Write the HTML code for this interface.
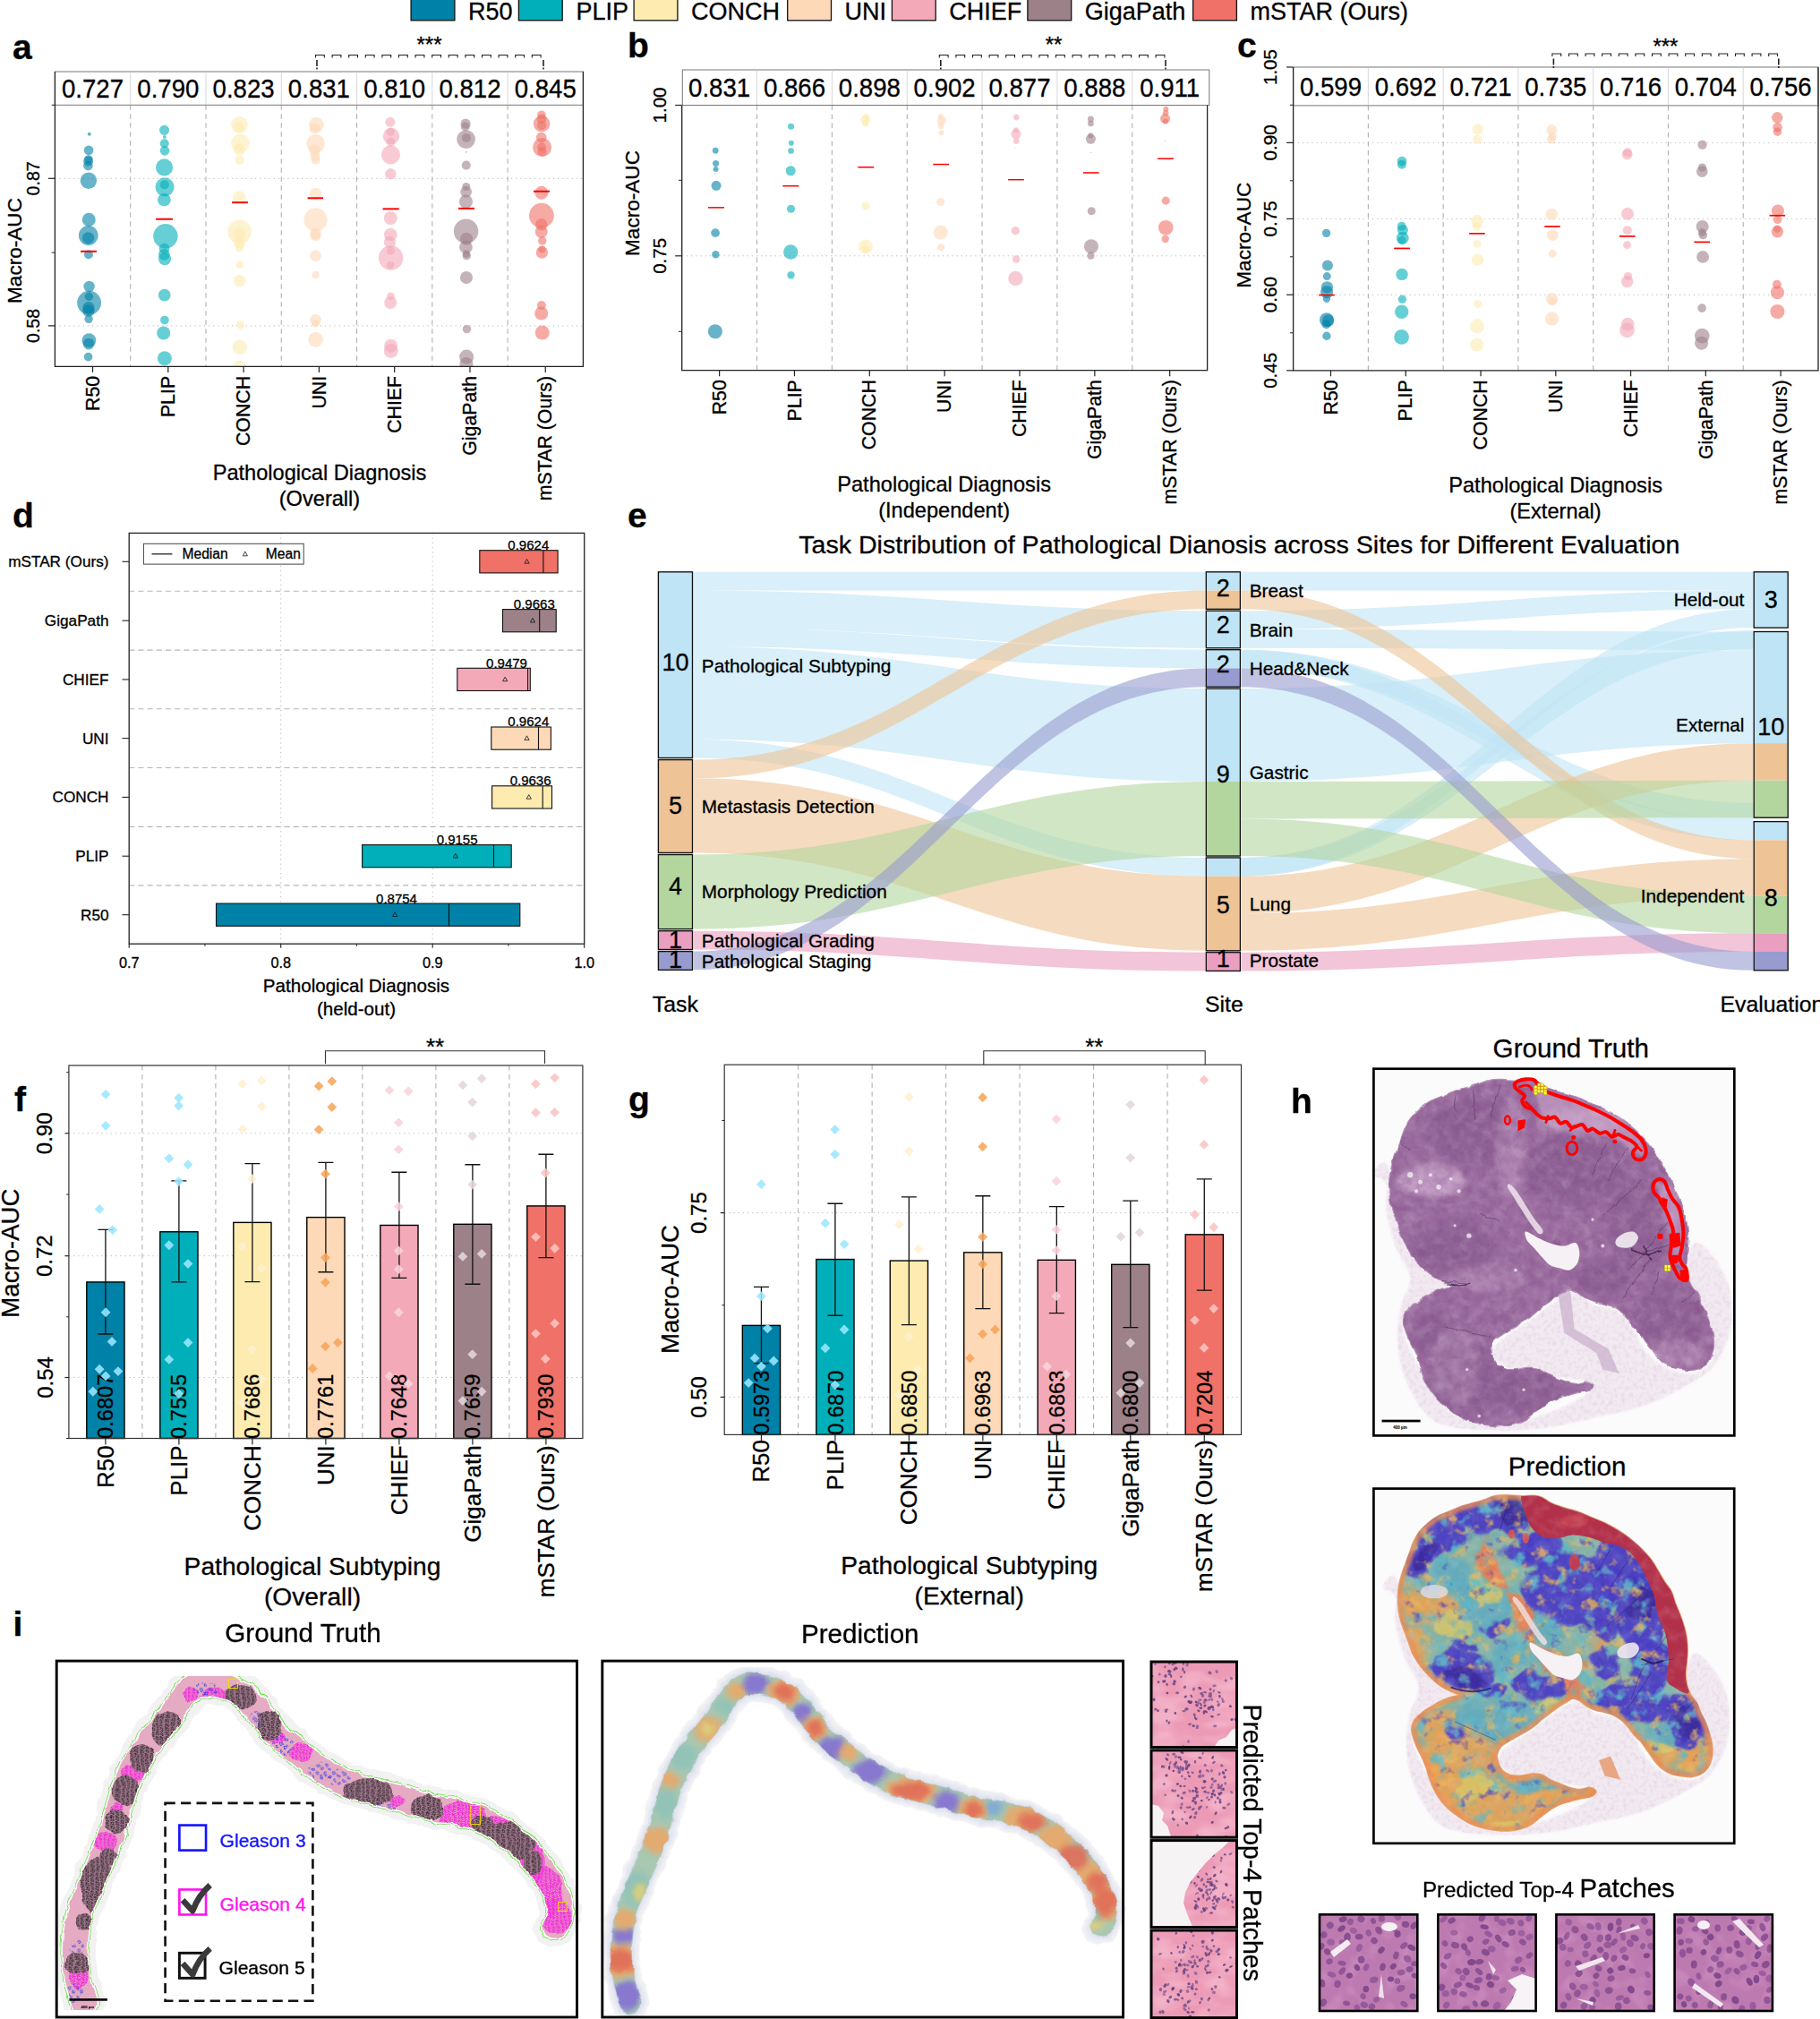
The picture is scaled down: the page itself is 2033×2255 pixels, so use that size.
<!DOCTYPE html>
<html><head><meta charset="utf-8"><title>Figure</title>
<style>html,body{margin:0;padding:0;background:#fff;}svg{display:block;font-family:"Liberation Sans",sans-serif;}text{stroke:#000;stroke-width:.3px;}</style>
</head><body>
<svg width="2033" height="2255" viewBox="0 0 2033 2255">
<defs>
<clipPath id="tis"><path d="M250 210C265.83 196.67 281.67 185 300 175C318.33 165 340 158.33 360 150C380 141.67 400 132 420 125C440 118 460 113.83 480 108C500 102.17 521.67 96 540 90C558.33 84 571.67 75.67 590 72C608.33 68.33 628.33 68 650 68C671.67 68 696.67 71.67 720 72C743.33 72.33 771.67 68.67 790 70C808.33 71.33 815 73.33 830 80C845 86.67 860 100.83 880 110C900 119.17 926.67 127.5 950 135C973.33 142.5 996.67 146.67 1020 155C1043.33 163.33 1066.67 175 1090 185C1113.33 195 1136.67 203.33 1160 215C1183.33 226.67 1208.33 240.83 1230 255C1251.67 269.17 1271.67 285 1290 300C1308.33 315 1324.17 329.17 1340 345C1355.83 360.83 1371.67 377.5 1385 395C1398.33 412.5 1408.33 430.83 1420 450C1431.67 469.17 1443.33 491.67 1455 510C1466.67 528.33 1480.83 541.67 1490 560C1499.17 578.33 1502.5 600 1510 620C1517.5 640 1527.5 660 1535 680C1542.5 700 1549.5 720 1555 740C1560.5 760 1565.17 780 1568 800C1570.83 820 1572 840 1572 860C1572 880 1569.67 900 1568 920C1566.33 940 1561.67 960 1562 980C1562.33 1000 1565.33 1021.67 1570 1040C1574.67 1058.33 1581.67 1075 1590 1090C1598.33 1105 1611.67 1115 1620 1130C1628.33 1145 1632.5 1163.33 1640 1180C1647.5 1196.67 1657.5 1211.67 1665 1230C1672.5 1248.33 1679.5 1270 1685 1290C1690.5 1310 1696.33 1330 1698 1350C1699.67 1370 1698.83 1391.67 1695 1410C1691.17 1428.33 1684.17 1446.67 1675 1460C1665.83 1473.33 1654.17 1482.5 1640 1490C1625.83 1497.5 1606.67 1503.33 1590 1505C1573.33 1506.67 1556.67 1502.5 1540 1500C1523.33 1497.5 1505.83 1495.83 1490 1490C1474.17 1484.17 1458.33 1475 1445 1465C1431.67 1455 1420 1441.67 1410 1430C1400 1418.33 1393.33 1406.67 1385 1395C1376.67 1383.33 1368.33 1371.67 1360 1360C1351.67 1348.33 1345 1336.67 1335 1325C1325 1313.33 1310.83 1302.5 1300 1290C1289.17 1277.5 1280.83 1262.5 1270 1250C1259.17 1237.5 1247.5 1225 1235 1215C1222.5 1205 1209.17 1196.67 1195 1190C1180.83 1183.33 1165 1179.17 1150 1175C1135 1170.83 1120 1170 1105 1165C1090 1160 1074.17 1153.33 1060 1145C1045.83 1136.67 1032.5 1121.67 1020 1115C1007.5 1108.33 996.67 1103.33 985 1105C973.33 1106.67 962.5 1117.5 950 1125C937.5 1132.5 923.33 1140.83 910 1150C896.67 1159.17 883.33 1170 870 1180C856.67 1190 843.33 1199.17 830 1210C816.67 1220.83 804.17 1234.17 790 1245C775.83 1255.83 760 1265.83 745 1275C730 1284.17 715 1291.67 700 1300C685 1308.33 668.33 1316.67 655 1325C641.67 1333.33 629.17 1339.17 620 1350C610.83 1360.83 602.5 1376.67 600 1390C597.5 1403.33 600.83 1416.67 605 1430C609.17 1443.33 615 1459.17 625 1470C635 1480.83 649.17 1490 665 1495C680.83 1500 700.83 1500.83 720 1500C739.17 1499.17 761.67 1490.83 780 1490C798.33 1489.17 815 1490 830 1495C845 1500 855 1512.5 870 1520C885 1527.5 903.33 1533.33 920 1540C936.67 1546.67 953.33 1555 970 1560C986.67 1565 1002.5 1570 1020 1570C1037.5 1570 1060.83 1558.33 1075 1560C1089.17 1561.67 1104.17 1572.5 1105 1580C1105.83 1587.5 1092.5 1599.17 1080 1605C1067.5 1610.83 1048.33 1610.83 1030 1615C1011.67 1619.17 990 1624.17 970 1630C950 1635.83 928.33 1641.67 910 1650C891.67 1658.33 875.83 1669.17 860 1680C844.17 1690.83 830 1703.33 815 1715C800 1726.67 785.83 1740.83 770 1750C754.17 1759.17 738.33 1765 720 1770C701.67 1775 680 1778.67 660 1780C640 1781.33 620 1780 600 1778C580 1776 560 1772.67 540 1768C520 1763.33 498.33 1757.17 480 1750C461.67 1742.83 446.67 1735 430 1725C413.33 1715 395.83 1702.5 380 1690C364.17 1677.5 348.33 1664.17 335 1650C321.67 1635.83 310 1620 300 1605C290 1590 282.5 1575.83 275 1560C267.5 1544.17 260.83 1526.67 255 1510C249.17 1493.33 245.83 1476.67 240 1460C234.17 1443.33 227.5 1426.67 220 1410C212.5 1393.33 202.5 1376.67 195 1360C187.5 1343.33 180 1326.67 175 1310C170 1293.33 164.17 1275.83 165 1260C165.83 1244.17 171.67 1228.33 180 1215C188.33 1201.67 201.67 1190.83 215 1180C228.33 1169.17 244.17 1160 260 1150C275.83 1140 293.33 1128.33 310 1120C326.67 1111.67 344.17 1105.33 360 1100C375.83 1094.67 403.33 1093 405 1088C406.67 1083 384.17 1077.17 370 1070C355.83 1062.83 335.83 1055 320 1045C304.17 1035 289.17 1022.5 275 1010C260.83 997.5 247.5 984.17 235 970C222.5 955.83 210.83 940.83 200 925C189.17 909.17 178.33 892.5 170 875C161.67 857.5 156.67 838.33 150 820C143.33 801.67 136.67 783.33 130 765C123.33 746.67 115.33 729.17 110 710C104.67 690.83 100.5 670 98 650C95.5 630 94.67 610 95 590C95.33 570 96.67 550 100 530C103.33 510 109.17 489.17 115 470C120.83 450.83 128.33 433.33 135 415C141.67 396.67 148.33 378.33 155 360C161.67 341.67 166.67 322.5 175 305C183.33 287.5 192.5 270.83 205 255C217.5 239.17 234.17 223.33 250 210Z"/></clipPath><filter color-interpolation-filters="sRGB" id="b3" x="-30%" y="-30%" width="160%" height="160%"><feGaussianBlur stdDeviation="14"/></filter><filter color-interpolation-filters="sRGB" id="b2" x="-30%" y="-30%" width="160%" height="160%"><feGaussianBlur stdDeviation="8"/></filter><filter color-interpolation-filters="sRGB" id="b1" x="-30%" y="-30%" width="160%" height="160%"><feGaussianBlur stdDeviation="3"/></filter><filter color-interpolation-filters="sRGB" id="mot" x="0" y="0" width="100%" height="100%"><feTurbulence type="fractalNoise" baseFrequency="0.018" numOctaves="3" seed="7"/><feColorMatrix values="0 0 0 0 1  0 0 0 0 1  0 0 0 0 1  1.6 0 0 0 -0.62"/><feComposite in2="SourceGraphic" operator="in"/></filter><filter color-interpolation-filters="sRGB" id="motd" x="0" y="0" width="100%" height="100%"><feTurbulence type="fractalNoise" baseFrequency="0.022" numOctaves="3" seed="21"/><feColorMatrix values="0 0 0 0 0.42  0 0 0 0 0.2  0 0 0 0 0.45  0 1.8 0 0 -0.72"/><feComposite in2="SourceGraphic" operator="in"/></filter><filter color-interpolation-filters="sRGB" id="wob" x="-5%" y="-5%" width="110%" height="110%"><feTurbulence type="fractalNoise" baseFrequency="0.006" numOctaves="3" seed="5" result="n"/><feDisplacementMap in="SourceGraphic" in2="n" scale="150" xChannelSelector="R" yChannelSelector="G"/></filter><filter color-interpolation-filters="sRGB" id="wob2" x="-5%" y="-5%" width="110%" height="110%"><feTurbulence type="fractalNoise" baseFrequency="0.02" numOctaves="2" seed="9" result="n"/><feDisplacementMap in="SourceGraphic" in2="n" scale="22" xChannelSelector="R" yChannelSelector="G"/></filter><filter color-interpolation-filters="sRGB" id="spk1" x="0" y="0" width="100%" height="100%"><feTurbulence type="fractalNoise" baseFrequency="0.013" numOctaves="3" seed="2"/><feColorMatrix values="0 0 0 0 0.36  0 0 0 0 0.72  0 0 0 0 0.78  4.5 0 0 0 -2.45"/><feComposite in2="SourceGraphic" operator="in"/></filter><filter color-interpolation-filters="sRGB" id="spk2" x="0" y="0" width="100%" height="100%"><feTurbulence type="fractalNoise" baseFrequency="0.016" numOctaves="3" seed="14"/><feColorMatrix values="0 0 0 0 0.90  0 0 0 0 0.70  0 0 0 0 0.35  0 4.5 0 0 -2.55"/><feComposite in2="SourceGraphic" operator="in"/></filter><filter color-interpolation-filters="sRGB" id="spk3" x="0" y="0" width="100%" height="100%"><feTurbulence type="fractalNoise" baseFrequency="0.016" numOctaves="3" seed="33"/><feColorMatrix values="0 0 0 0 0.30  0 0 0 0 0.24  0 0 0 0 0.76  0 0 4.5 0 -2.85"/><feComposite in2="SourceGraphic" operator="in"/></filter><filter color-interpolation-filters="sRGB" id="adi" x="0" y="0" width="100%" height="100%"><feTurbulence type="fractalNoise" baseFrequency="0.05" numOctaves="2" seed="3"/><feColorMatrix values="0 0 0 0 0.80  0 0 0 0 0.66  0 0 0 0 0.80  0 0 2.2 0 -0.95"/><feComposite in2="SourceGraphic" operator="in"/></filter><filter color-interpolation-filters="sRGB" id="pt0" x="0" y="0" width="100%" height="100%"><feTurbulence type="fractalNoise" baseFrequency="0.05" numOctaves="2" seed="11"/><feColorMatrix values="0 0 0 0 0.85  0 0 0 0 0.62  0 0 0 0 0.80  4.0 0 0 0 -1.9"/><feComposite in2="SourceGraphic" operator="in"/></filter><filter color-interpolation-filters="sRGB" id="pt1" x="0" y="0" width="100%" height="100%"><feTurbulence type="fractalNoise" baseFrequency="0.05" numOctaves="2" seed="16"/><feColorMatrix values="0 0 0 0 0.85  0 0 0 0 0.62  0 0 0 0 0.80  4.0 0 0 0 -1.9"/><feComposite in2="SourceGraphic" operator="in"/></filter><filter color-interpolation-filters="sRGB" id="pt2" x="0" y="0" width="100%" height="100%"><feTurbulence type="fractalNoise" baseFrequency="0.05" numOctaves="2" seed="21"/><feColorMatrix values="0 0 0 0 0.85  0 0 0 0 0.62  0 0 0 0 0.80  4.0 0 0 0 -1.9"/><feComposite in2="SourceGraphic" operator="in"/></filter><filter color-interpolation-filters="sRGB" id="pt3" x="0" y="0" width="100%" height="100%"><feTurbulence type="fractalNoise" baseFrequency="0.05" numOctaves="2" seed="26"/><feColorMatrix values="0 0 0 0 0.85  0 0 0 0 0.62  0 0 0 0 0.80  4.0 0 0 0 -1.9"/><feComposite in2="SourceGraphic" operator="in"/></filter><filter color-interpolation-filters="sRGB" id="pt4" x="0" y="0" width="100%" height="100%"><feTurbulence type="fractalNoise" baseFrequency="0.11" numOctaves="2" seed="31"/><feColorMatrix values="0 0 0 0 0.45  0 0 0 0 0.25  0 0 0 0 0.55  6.0 0 0 0 -3.1"/><feComposite in2="SourceGraphic" operator="in"/></filter><filter color-interpolation-filters="sRGB" id="pt5" x="0" y="0" width="100%" height="100%"><feTurbulence type="fractalNoise" baseFrequency="0.11" numOctaves="2" seed="36"/><feColorMatrix values="0 0 0 0 0.45  0 0 0 0 0.25  0 0 0 0 0.55  6.0 0 0 0 -3.1"/><feComposite in2="SourceGraphic" operator="in"/></filter><filter color-interpolation-filters="sRGB" id="pt6" x="0" y="0" width="100%" height="100%"><feTurbulence type="fractalNoise" baseFrequency="0.11" numOctaves="2" seed="41"/><feColorMatrix values="0 0 0 0 0.45  0 0 0 0 0.25  0 0 0 0 0.55  6.0 0 0 0 -3.1"/><feComposite in2="SourceGraphic" operator="in"/></filter><filter color-interpolation-filters="sRGB" id="pt7" x="0" y="0" width="100%" height="100%"><feTurbulence type="fractalNoise" baseFrequency="0.11" numOctaves="2" seed="46"/><feColorMatrix values="0 0 0 0 0.45  0 0 0 0 0.25  0 0 0 0 0.55  6.0 0 0 0 -3.1"/><feComposite in2="SourceGraphic" operator="in"/></filter>
<path id="icl" d="M120 1175C116.67 1164.17 105.33 1134.17 100 1110C94.67 1085.83 89.67 1056.67 88 1030C86.33 1003.33 87.17 976.67 90 950C92.83 923.33 98.33 895 105 870C111.67 845 120.83 823.33 130 800C139.17 776.67 150 753.33 160 730C170 706.67 180.83 683.33 190 660C199.17 636.67 207.5 613.33 215 590C222.5 566.67 228.33 543.33 235 520C241.67 496.67 246.67 473.33 255 450C263.33 426.67 274.17 401.67 285 380C295.83 358.33 307.5 339.17 320 320C332.5 300.83 346.67 282.5 360 265C373.33 247.5 387.5 231.67 400 215C412.5 198.33 423.67 180.5 435 165C446.33 149.5 455.5 134 468 122C480.5 110 493 97.5 510 93C527 88.5 550 91.33 570 95C590 98.67 611.67 105.83 630 115C648.33 124.17 665 135.83 680 150C695 164.17 707.5 183.33 720 200C732.5 216.67 741.67 235 755 250C768.33 265 784.17 276.67 800 290C815.83 303.33 833.33 316.67 850 330C866.67 343.33 883.33 358.33 900 370C916.67 381.67 931.67 390 950 400C968.33 410 990 421.67 1010 430C1030 438.33 1050 444.17 1070 450C1090 455.83 1110 460 1130 465C1150 470 1170 474.17 1190 480C1210 485.83 1230 494.17 1250 500C1270 505.83 1290 510.83 1310 515C1330 519.17 1350 520.83 1370 525C1390 529.17 1410 533.33 1430 540C1450 546.67 1470.83 555 1490 565C1509.17 575 1527.5 587.5 1545 600C1562.5 612.5 1579.17 625.83 1595 640C1610.83 654.17 1625.83 669.17 1640 685C1654.17 700.83 1668 717.5 1680 735C1692 752.5 1703.67 772.5 1712 790C1720.33 807.5 1727.33 824.17 1730 840C1732.67 855.83 1731 872.5 1728 885C1725 897.5 1714.67 910 1712 915" fill="none"/><mask id="istrip" maskUnits="userSpaceOnUse" x="0" y="0" width="1820" height="1230"><use href="#icl" stroke="#fff" stroke-width="72" stroke-linecap="round" stroke-linejoin="round"/></mask><mask id="istripg" maskUnits="userSpaceOnUse" x="0" y="0" width="1820" height="1230"><use href="#icl" stroke="#fff" stroke-width="84" stroke-linecap="round" stroke-linejoin="round"/></mask><pattern id="scrK" width="17" height="15" patternUnits="userSpaceOnUse"><rect width="17" height="15" fill="#a07a8e"/><path d="M2 4Q5 0 9 3T15 5M3 11Q7 7 10 11T16 12M8 1L6 8M13 7Q15 10 12 14" fill="none" stroke="#1a1014" stroke-width="2.2"/></pattern><pattern id="scrM" width="13" height="12" patternUnits="userSpaceOnUse"><rect width="13" height="12" fill="#ec7fd6" fill-opacity="0.45"/><path d="M1 4Q4 0 7 3T12 4M2 10Q5 6 8 9T12 10M6 1L5 7" fill="none" stroke="#f21ed8" stroke-width="3"/></pattern><pattern id="scrB" width="30" height="26" patternUnits="userSpaceOnUse"><path d="M3 6Q8 1 12 6T8 14Z M18 16Q24 12 26 18T20 23Z" fill="none" stroke="#2030e8" stroke-width="2.4"/></pattern><filter color-interpolation-filters="sRGB" id="iwob" x="-2%" y="-2%" width="104%" height="104%"><feTurbulence type="fractalNoise" baseFrequency="0.022" numOctaves="2" seed="4" result="n"/><feDisplacementMap in="SourceGraphic" in2="n" scale="22" xChannelSelector="R" yChannelSelector="G"/></filter><filter color-interpolation-filters="sRGB" id="ib" x="-30%" y="-30%" width="160%" height="160%"><feGaussianBlur stdDeviation="9"/></filter><filter color-interpolation-filters="sRGB" id="ib2" x="-10%" y="-10%" width="120%" height="120%"><feGaussianBlur stdDeviation="5"/></filter><filter color-interpolation-filters="sRGB" id="ihalo" x="-10%" y="-10%" width="120%" height="120%"><feGaussianBlur stdDeviation="10"/></filter><filter color-interpolation-filters="sRGB" id="ip0" x="0" y="0" width="100%" height="100%"><feTurbulence type="fractalNoise" baseFrequency="0.16" numOctaves="2" seed="31"/><feColorMatrix values="0 0 0 0 0.42  0 0 0 0 0.24  0 0 0 0 0.52  9 0 0 0 -5.0"/><feComposite in2="SourceGraphic" operator="in"/></filter><filter color-interpolation-filters="sRGB" id="iq0" x="0" y="0" width="100%" height="100%"><feTurbulence type="fractalNoise" baseFrequency="0.03 0.06" numOctaves="2" seed="3"/><feColorMatrix values="0 0 0 0 0.98  0 0 0 0 0.78  0 0 0 0 0.85  0 3 0 0 -1.2"/><feComposite in2="SourceGraphic" operator="in"/></filter><filter color-interpolation-filters="sRGB" id="ip1" x="0" y="0" width="100%" height="100%"><feTurbulence type="fractalNoise" baseFrequency="0.16" numOctaves="2" seed="38"/><feColorMatrix values="0 0 0 0 0.42  0 0 0 0 0.24  0 0 0 0 0.52  9 0 0 0 -5.0"/><feComposite in2="SourceGraphic" operator="in"/></filter><filter color-interpolation-filters="sRGB" id="iq1" x="0" y="0" width="100%" height="100%"><feTurbulence type="fractalNoise" baseFrequency="0.03 0.06" numOctaves="2" seed="4"/><feColorMatrix values="0 0 0 0 0.98  0 0 0 0 0.78  0 0 0 0 0.85  0 3 0 0 -1.2"/><feComposite in2="SourceGraphic" operator="in"/></filter><filter color-interpolation-filters="sRGB" id="ip2" x="0" y="0" width="100%" height="100%"><feTurbulence type="fractalNoise" baseFrequency="0.16" numOctaves="2" seed="45"/><feColorMatrix values="0 0 0 0 0.42  0 0 0 0 0.24  0 0 0 0 0.52  9 0 0 0 -5.0"/><feComposite in2="SourceGraphic" operator="in"/></filter><filter color-interpolation-filters="sRGB" id="iq2" x="0" y="0" width="100%" height="100%"><feTurbulence type="fractalNoise" baseFrequency="0.03 0.06" numOctaves="2" seed="5"/><feColorMatrix values="0 0 0 0 0.98  0 0 0 0 0.78  0 0 0 0 0.85  0 3 0 0 -1.2"/><feComposite in2="SourceGraphic" operator="in"/></filter><filter color-interpolation-filters="sRGB" id="ip3" x="0" y="0" width="100%" height="100%"><feTurbulence type="fractalNoise" baseFrequency="0.16" numOctaves="2" seed="52"/><feColorMatrix values="0 0 0 0 0.42  0 0 0 0 0.24  0 0 0 0 0.52  9 0 0 0 -5.0"/><feComposite in2="SourceGraphic" operator="in"/></filter><filter color-interpolation-filters="sRGB" id="iq3" x="0" y="0" width="100%" height="100%"><feTurbulence type="fractalNoise" baseFrequency="0.03 0.06" numOctaves="2" seed="6"/><feColorMatrix values="0 0 0 0 0.98  0 0 0 0 0.78  0 0 0 0 0.85  0 3 0 0 -1.2"/><feComposite in2="SourceGraphic" operator="in"/></filter>
</defs>
<rect width="2033" height="2255" fill="#fff"/>
<g id="p_abc">
<rect x="459.1" y="-2" width="48.8" height="24.8" fill="#0081a7" stroke="#111" stroke-width="1.3"/>
<text x="523" y="21.8" font-size="27">R50</text>
<rect x="579.4" y="-2" width="48.8" height="24.8" fill="#00afb9" stroke="#111" stroke-width="1.3"/>
<text x="643.6" y="21.8" font-size="27">PLIP</text>
<rect x="708.1" y="-2" width="48.8" height="24.8" fill="#fdebb0" stroke="#111" stroke-width="1.3"/>
<text x="772" y="21.8" font-size="27">CONCH</text>
<rect x="879.7" y="-2" width="48.8" height="24.8" fill="#fed9b7" stroke="#111" stroke-width="1.3"/>
<text x="943.6" y="21.8" font-size="27">UNI</text>
<rect x="996.4" y="-2" width="48.8" height="24.8" fill="#f4a9b8" stroke="#111" stroke-width="1.3"/>
<text x="1060.3" y="21.8" font-size="27">CHIEF</text>
<rect x="1147.9" y="-2" width="48.8" height="24.8" fill="#9d8189" stroke="#111" stroke-width="1.3"/>
<text x="1211.8" y="21.8" font-size="27">GigaPath</text>
<rect x="1332.6" y="-2" width="48.8" height="24.8" fill="#f07167" stroke="#111" stroke-width="1.3"/>
<text x="1396.5" y="21.8" font-size="27">mSTAR (Ours)</text>
<line x1="145.69" y1="117.3" x2="145.69" y2="409.4" stroke="#b0b0b0" stroke-width="1.1" stroke-dasharray="5.5 4.5"/>
<line x1="229.97" y1="117.3" x2="229.97" y2="409.4" stroke="#b0b0b0" stroke-width="1.1" stroke-dasharray="5.5 4.5"/>
<line x1="314.26" y1="117.3" x2="314.26" y2="409.4" stroke="#b0b0b0" stroke-width="1.1" stroke-dasharray="5.5 4.5"/>
<line x1="398.54" y1="117.3" x2="398.54" y2="409.4" stroke="#b0b0b0" stroke-width="1.1" stroke-dasharray="5.5 4.5"/>
<line x1="482.83" y1="117.3" x2="482.83" y2="409.4" stroke="#b0b0b0" stroke-width="1.1" stroke-dasharray="5.5 4.5"/>
<line x1="567.11" y1="117.3" x2="567.11" y2="409.4" stroke="#b0b0b0" stroke-width="1.1" stroke-dasharray="5.5 4.5"/>
<line x1="61.4" y1="199.3" x2="651.4" y2="199.3" stroke="#b8b8b8" stroke-width="1" stroke-dasharray="1.2 4"/>
<line x1="61.4" y1="363.9" x2="651.4" y2="363.9" stroke="#b8b8b8" stroke-width="1" stroke-dasharray="1.2 4"/>
<clipPath id="cpa"><rect x="61.4" y="117.3" width="590" height="292.1"/></clipPath><g clip-path="url(#cpa)">
<circle cx="99.75" cy="149.72" r="2.01" fill="#0081a7" fill-opacity="0.6"/>
<circle cx="99.08" cy="167.82" r="5.36" fill="#0081a7" fill-opacity="0.6"/>
<circle cx="98.91" cy="177.87" r="4.69" fill="#0081a7" fill-opacity="0.6"/>
<circle cx="98.57" cy="180.05" r="5.53" fill="#0081a7" fill-opacity="0.6"/>
<circle cx="98.41" cy="185.08" r="5.36" fill="#0081a7" fill-opacity="0.6"/>
<circle cx="98.91" cy="201.67" r="9.22" fill="#0081a7" fill-opacity="0.6"/>
<circle cx="99.24" cy="245.41" r="7.54" fill="#0081a7" fill-opacity="0.6"/>
<circle cx="98.74" cy="263.01" r="10.89" fill="#0081a7" fill-opacity="0.6"/>
<circle cx="98.57" cy="265.86" r="6.7" fill="#0081a7" fill-opacity="0.6"/>
<circle cx="98.91" cy="284.29" r="5.03" fill="#0081a7" fill-opacity="0.6"/>
<circle cx="99.58" cy="319.99" r="6.2" fill="#0081a7" fill-opacity="0.6"/>
<circle cx="99.58" cy="338.26" r="13.41" fill="#0081a7" fill-opacity="0.6"/>
<circle cx="99.41" cy="331.22" r="4.69" fill="#0081a7" fill-opacity="0.6"/>
<circle cx="98.91" cy="343.79" r="6.7" fill="#0081a7" fill-opacity="0.6"/>
<circle cx="98.91" cy="347.14" r="6.7" fill="#0081a7" fill-opacity="0.6"/>
<circle cx="99.08" cy="356.35" r="4.69" fill="#0081a7" fill-opacity="0.6"/>
<circle cx="99.41" cy="380.15" r="7.88" fill="#0081a7" fill-opacity="0.6"/>
<circle cx="99.08" cy="384.01" r="6.37" fill="#0081a7" fill-opacity="0.6"/>
<circle cx="98.57" cy="398.59" r="4.86" fill="#0081a7" fill-opacity="0.6"/>
<circle cx="183.54" cy="145.36" r="5.53" fill="#00afb9" fill-opacity="0.6"/>
<circle cx="183.88" cy="153.07" r="2.01" fill="#00afb9" fill-opacity="0.6"/>
<circle cx="183.71" cy="160.28" r="5.03" fill="#00afb9" fill-opacity="0.6"/>
<circle cx="184.04" cy="168.32" r="5.36" fill="#00afb9" fill-opacity="0.6"/>
<circle cx="183.54" cy="186.92" r="9.55" fill="#00afb9" fill-opacity="0.6"/>
<circle cx="184.04" cy="208.88" r="10.56" fill="#00afb9" fill-opacity="0.6"/>
<circle cx="183.71" cy="206.36" r="5.03" fill="#00afb9" fill-opacity="0.6"/>
<circle cx="183.37" cy="223.12" r="7.37" fill="#00afb9" fill-opacity="0.6"/>
<circle cx="184.88" cy="263.85" r="13.74" fill="#00afb9" fill-opacity="0.6"/>
<circle cx="183.54" cy="277.59" r="5.87" fill="#00afb9" fill-opacity="0.6"/>
<circle cx="183.37" cy="284.29" r="6.37" fill="#00afb9" fill-opacity="0.6"/>
<circle cx="184.04" cy="289.32" r="7.04" fill="#00afb9" fill-opacity="0.6"/>
<circle cx="183.71" cy="329.71" r="6.87" fill="#00afb9" fill-opacity="0.6"/>
<circle cx="183.88" cy="357.53" r="4.86" fill="#00afb9" fill-opacity="0.6"/>
<circle cx="182.7" cy="371.94" r="7.54" fill="#00afb9" fill-opacity="0.6"/>
<circle cx="183.88" cy="400.26" r="8.04" fill="#00afb9" fill-opacity="0.6"/>
<circle cx="267.5" cy="139.33" r="9.38" fill="#fdebb0" fill-opacity="0.6"/>
<circle cx="267.17" cy="141.84" r="5.87" fill="#fdebb0" fill-opacity="0.6"/>
<circle cx="268.51" cy="159.94" r="10.39" fill="#fdebb0" fill-opacity="0.6"/>
<circle cx="267.17" cy="166.98" r="6.37" fill="#fdebb0" fill-opacity="0.6"/>
<circle cx="267.67" cy="178.71" r="5.2" fill="#fdebb0" fill-opacity="0.6"/>
<circle cx="267.33" cy="220.61" r="7.37" fill="#fdebb0" fill-opacity="0.6"/>
<circle cx="267.5" cy="258.82" r="13.41" fill="#fdebb0" fill-opacity="0.6"/>
<circle cx="267.5" cy="260.83" r="6.7" fill="#fdebb0" fill-opacity="0.6"/>
<circle cx="267.5" cy="270.88" r="6.7" fill="#fdebb0" fill-opacity="0.6"/>
<circle cx="267.5" cy="276.75" r="4.69" fill="#fdebb0" fill-opacity="0.6"/>
<circle cx="267.84" cy="295.69" r="4.36" fill="#fdebb0" fill-opacity="0.6"/>
<circle cx="267.67" cy="313.45" r="6.7" fill="#fdebb0" fill-opacity="0.6"/>
<circle cx="268.51" cy="363.06" r="4.86" fill="#fdebb0" fill-opacity="0.6"/>
<circle cx="267.84" cy="387.86" r="8.21" fill="#fdebb0" fill-opacity="0.6"/>
<circle cx="267.5" cy="409.98" r="7.54" fill="#fdebb0" fill-opacity="0.6"/>
<circle cx="353.35" cy="139.33" r="8.38" fill="#fed9b7" fill-opacity="0.6"/>
<circle cx="351.68" cy="143.52" r="5.87" fill="#fed9b7" fill-opacity="0.6"/>
<circle cx="352.51" cy="160.28" r="10.39" fill="#fed9b7" fill-opacity="0.6"/>
<circle cx="351.68" cy="167.82" r="6.37" fill="#fed9b7" fill-opacity="0.6"/>
<circle cx="352.01" cy="174.52" r="5.36" fill="#fed9b7" fill-opacity="0.6"/>
<circle cx="352.51" cy="178.71" r="5.03" fill="#fed9b7" fill-opacity="0.6"/>
<circle cx="352.51" cy="216.42" r="6.7" fill="#fed9b7" fill-opacity="0.6"/>
<circle cx="352.51" cy="245.41" r="13.07" fill="#fed9b7" fill-opacity="0.6"/>
<circle cx="352.51" cy="260.83" r="6.37" fill="#fed9b7" fill-opacity="0.6"/>
<circle cx="352.51" cy="263.34" r="5.87" fill="#fed9b7" fill-opacity="0.6"/>
<circle cx="352.51" cy="285.63" r="6.37" fill="#fed9b7" fill-opacity="0.6"/>
<circle cx="352.51" cy="306.92" r="4.19" fill="#fed9b7" fill-opacity="0.6"/>
<circle cx="352.51" cy="357.19" r="6.37" fill="#fed9b7" fill-opacity="0.6"/>
<circle cx="352.51" cy="361.38" r="4.19" fill="#fed9b7" fill-opacity="0.6"/>
<circle cx="352.51" cy="379.31" r="8.38" fill="#fed9b7" fill-opacity="0.6"/>
<circle cx="435.97" cy="136.31" r="5.53" fill="#f4a9b8" fill-opacity="0.6"/>
<circle cx="436.98" cy="151.9" r="9.22" fill="#f4a9b8" fill-opacity="0.6"/>
<circle cx="436.14" cy="147.2" r="4.69" fill="#f4a9b8" fill-opacity="0.6"/>
<circle cx="436.48" cy="158.6" r="5.03" fill="#f4a9b8" fill-opacity="0.6"/>
<circle cx="436.48" cy="172.85" r="10.56" fill="#f4a9b8" fill-opacity="0.6"/>
<circle cx="436.31" cy="194.3" r="6.2" fill="#f4a9b8" fill-opacity="0.6"/>
<circle cx="436.31" cy="243.57" r="7.54" fill="#f4a9b8" fill-opacity="0.6"/>
<circle cx="436.31" cy="262" r="7.37" fill="#f4a9b8" fill-opacity="0.6"/>
<circle cx="435.47" cy="270.55" r="6.7" fill="#f4a9b8" fill-opacity="0.6"/>
<circle cx="436.64" cy="287.98" r="13.74" fill="#f4a9b8" fill-opacity="0.6"/>
<circle cx="436.31" cy="280.1" r="4.69" fill="#f4a9b8" fill-opacity="0.6"/>
<circle cx="436.14" cy="296.02" r="4.36" fill="#f4a9b8" fill-opacity="0.6"/>
<circle cx="436.48" cy="330.88" r="4.36" fill="#f4a9b8" fill-opacity="0.6"/>
<circle cx="436.14" cy="337.92" r="7.04" fill="#f4a9b8" fill-opacity="0.6"/>
<circle cx="436.64" cy="386.19" r="7.54" fill="#f4a9b8" fill-opacity="0.6"/>
<circle cx="436.81" cy="391.88" r="8.04" fill="#f4a9b8" fill-opacity="0.6"/>
<circle cx="520.1" cy="138.15" r="5.53" fill="#9d8189" fill-opacity="0.6"/>
<circle cx="519.77" cy="141.51" r="5.03" fill="#9d8189" fill-opacity="0.6"/>
<circle cx="520.6" cy="155.58" r="10.39" fill="#9d8189" fill-opacity="0.6"/>
<circle cx="520.94" cy="153.91" r="5.03" fill="#9d8189" fill-opacity="0.6"/>
<circle cx="520.77" cy="169.83" r="0.84" fill="#9d8189" fill-opacity="0.6"/>
<circle cx="520.77" cy="184.58" r="5.03" fill="#9d8189" fill-opacity="0.6"/>
<circle cx="520.77" cy="208.54" r="4.52" fill="#9d8189" fill-opacity="0.6"/>
<circle cx="520.6" cy="214.24" r="6.37" fill="#9d8189" fill-opacity="0.6"/>
<circle cx="520.44" cy="225.13" r="7.54" fill="#9d8189" fill-opacity="0.6"/>
<circle cx="520.6" cy="258.32" r="13.74" fill="#9d8189" fill-opacity="0.6"/>
<circle cx="520.94" cy="266.7" r="7.04" fill="#9d8189" fill-opacity="0.6"/>
<circle cx="520.44" cy="275.91" r="7.37" fill="#9d8189" fill-opacity="0.6"/>
<circle cx="520.94" cy="283.45" r="4.19" fill="#9d8189" fill-opacity="0.6"/>
<circle cx="521.28" cy="285.63" r="4.69" fill="#9d8189" fill-opacity="0.6"/>
<circle cx="520.94" cy="309.93" r="7.04" fill="#9d8189" fill-opacity="0.6"/>
<circle cx="521.44" cy="367.58" r="4.69" fill="#9d8189" fill-opacity="0.6"/>
<circle cx="521.11" cy="398.59" r="8.04" fill="#9d8189" fill-opacity="0.6"/>
<circle cx="520.94" cy="406.63" r="7.54" fill="#9d8189" fill-opacity="0.6"/>
<circle cx="604.9" cy="128.1" r="4.69" fill="#f07167" fill-opacity="0.6"/>
<circle cx="605.07" cy="132.62" r="5.36" fill="#f07167" fill-opacity="0.6"/>
<circle cx="605.07" cy="138.15" r="9.22" fill="#f07167" fill-opacity="0.6"/>
<circle cx="604.9" cy="140.17" r="5.03" fill="#f07167" fill-opacity="0.6"/>
<circle cx="604.73" cy="153.57" r="5.87" fill="#f07167" fill-opacity="0.6"/>
<circle cx="605.57" cy="164.47" r="10.56" fill="#f07167" fill-opacity="0.6"/>
<circle cx="605.07" cy="164.47" r="5.03" fill="#f07167" fill-opacity="0.6"/>
<circle cx="605.57" cy="169.49" r="5.03" fill="#f07167" fill-opacity="0.6"/>
<circle cx="604.9" cy="215.25" r="7.54" fill="#f07167" fill-opacity="0.6"/>
<circle cx="604.9" cy="240.72" r="13.91" fill="#f07167" fill-opacity="0.6"/>
<circle cx="604.73" cy="250.77" r="6.7" fill="#f07167" fill-opacity="0.6"/>
<circle cx="604.73" cy="258.82" r="7.04" fill="#f07167" fill-opacity="0.6"/>
<circle cx="605.74" cy="268.87" r="4.69" fill="#f07167" fill-opacity="0.6"/>
<circle cx="605.4" cy="278.43" r="4.19" fill="#f07167" fill-opacity="0.6"/>
<circle cx="605.4" cy="281.95" r="6.7" fill="#f07167" fill-opacity="0.6"/>
<circle cx="604.9" cy="340.94" r="5.03" fill="#f07167" fill-opacity="0.6"/>
<circle cx="604.73" cy="349.99" r="7.54" fill="#f07167" fill-opacity="0.6"/>
<circle cx="605.74" cy="371.44" r="8.04" fill="#f07167" fill-opacity="0.6"/>
</g>
<line x1="90.03" y1="280.77" x2="107.96" y2="280.77" stroke="#ff0000" stroke-width="2"/>
<line x1="174.16" y1="244.74" x2="192.93" y2="244.74" stroke="#ff0000" stroke-width="2"/>
<line x1="259.12" y1="226.14" x2="276.89" y2="226.14" stroke="#ff0000" stroke-width="2"/>
<line x1="343.59" y1="221.28" x2="361.06" y2="221.28" stroke="#ff0000" stroke-width="2"/>
<line x1="427.59" y1="233.35" x2="445.69" y2="233.35" stroke="#ff0000" stroke-width="2"/>
<line x1="512.06" y1="232.84" x2="529.99" y2="232.84" stroke="#ff0000" stroke-width="2"/>
<line x1="596.02" y1="213.74" x2="613.95" y2="213.74" stroke="#ff0000" stroke-width="2"/>
<rect x="61.4" y="80" width="590" height="37.3" fill="#fff" stroke="#777" stroke-width="1"/>
<line x1="145.69" y1="80.5" x2="145.69" y2="116.8" stroke="#d8d8d8" stroke-width="1"/>
<line x1="229.97" y1="80.5" x2="229.97" y2="116.8" stroke="#d8d8d8" stroke-width="1"/>
<line x1="314.26" y1="80.5" x2="314.26" y2="116.8" stroke="#d8d8d8" stroke-width="1"/>
<line x1="398.54" y1="80.5" x2="398.54" y2="116.8" stroke="#d8d8d8" stroke-width="1"/>
<line x1="482.83" y1="80.5" x2="482.83" y2="116.8" stroke="#d8d8d8" stroke-width="1"/>
<line x1="567.11" y1="80.5" x2="567.11" y2="116.8" stroke="#d8d8d8" stroke-width="1"/>
<text transform="translate(103.54 109.2) scale(1 1.045)" font-size="27.6" text-anchor="middle">0.727</text>
<text transform="translate(187.83 109.2) scale(1 1.045)" font-size="27.6" text-anchor="middle">0.790</text>
<text transform="translate(272.11 109.2) scale(1 1.045)" font-size="27.6" text-anchor="middle">0.823</text>
<text transform="translate(356.4 109.2) scale(1 1.045)" font-size="27.6" text-anchor="middle">0.831</text>
<text transform="translate(440.69 109.2) scale(1 1.045)" font-size="27.6" text-anchor="middle">0.810</text>
<text transform="translate(524.97 109.2) scale(1 1.045)" font-size="27.6" text-anchor="middle">0.812</text>
<text transform="translate(609.26 109.2) scale(1 1.045)" font-size="27.6" text-anchor="middle">0.845</text>
<path d="M61.4 80V409.4H651.4V80" fill="none" stroke="#222" stroke-width="1.3"/>
<line x1="53.9" y1="199.3" x2="61.4" y2="199.3" stroke="#222" stroke-width="1.2"/>
<text x="44.5" y="199.3" font-size="19.6" text-anchor="middle" transform="rotate(-90 44.5 199.3)">0.87</text>
<line x1="53.9" y1="363.9" x2="61.4" y2="363.9" stroke="#222" stroke-width="1.2"/>
<text x="44.5" y="363.9" font-size="19.6" text-anchor="middle" transform="rotate(-90 44.5 363.9)">0.58</text>
<line x1="57.7" y1="117.3" x2="61.4" y2="117.3" stroke="#222" stroke-width="1"/>
<line x1="57.7" y1="282.1" x2="61.4" y2="282.1" stroke="#222" stroke-width="1"/>
<line x1="103.54" y1="409.4" x2="103.54" y2="415.9" stroke="#222" stroke-width="1.2"/>
<text x="110.74" y="419.9" font-size="21.3" text-anchor="end" transform="rotate(-90 110.74 419.9)">R50</text>
<line x1="187.83" y1="409.4" x2="187.83" y2="415.9" stroke="#222" stroke-width="1.2"/>
<text x="195.03" y="419.9" font-size="21.3" text-anchor="end" transform="rotate(-90 195.03 419.9)">PLIP</text>
<line x1="272.11" y1="409.4" x2="272.11" y2="415.9" stroke="#222" stroke-width="1.2"/>
<text x="279.31" y="419.9" font-size="21.3" text-anchor="end" transform="rotate(-90 279.31 419.9)">CONCH</text>
<line x1="356.4" y1="409.4" x2="356.4" y2="415.9" stroke="#222" stroke-width="1.2"/>
<text x="363.6" y="419.9" font-size="21.3" text-anchor="end" transform="rotate(-90 363.6 419.9)">UNI</text>
<line x1="440.69" y1="409.4" x2="440.69" y2="415.9" stroke="#222" stroke-width="1.2"/>
<text x="447.89" y="419.9" font-size="21.3" text-anchor="end" transform="rotate(-90 447.89 419.9)">CHIEF</text>
<line x1="524.97" y1="409.4" x2="524.97" y2="415.9" stroke="#222" stroke-width="1.2"/>
<text x="532.17" y="419.9" font-size="21.3" text-anchor="end" transform="rotate(-90 532.17 419.9)">GigaPath</text>
<line x1="609.26" y1="409.4" x2="609.26" y2="415.9" stroke="#222" stroke-width="1.2"/>
<text x="616.46" y="419.9" font-size="21.3" text-anchor="end" transform="rotate(-90 616.46 419.9)">mSTAR (Ours)</text>
<text x="23.5" y="280" font-size="22.6" text-anchor="middle" transform="rotate(-90 23.5 280)">Macro-AUC</text>
<text x="357" y="535.5" font-size="23.6" text-anchor="middle">Pathological Diagnosis</text>
<text x="357" y="565" font-size="23.6" text-anchor="middle">(Overall)</text>
<path d="M352.5 64.5V61.5H362.3V64.5M371.1 64.5V61.5H380.9V64.5M389.7 64.5V61.5H399.5V64.5M408.3 64.5V61.5H418.1V64.5M426.9 64.5V61.5H436.7V64.5M445.5 64.5V61.5H455.3V64.5M464.1 64.5V61.5H473.9V64.5M482.7 64.5V61.5H492.5V64.5M501.3 64.5V61.5H511.1V64.5M519.9 64.5V61.5H529.7V64.5M538.5 64.5V61.5H548.3V64.5M557.1 64.5V61.5H566.9V64.5M575.7 64.5V61.5H585.5V64.5M594.3 64.5V61.5H604.1V64.5" fill="none" stroke="#222" stroke-width="1.1"/>
<line x1="354" y1="67" x2="354" y2="74" stroke="#222" stroke-width="1.6"/>
<line x1="354" y1="75.5" x2="354" y2="77.5" stroke="#222" stroke-width="1.6"/>
<line x1="607" y1="67" x2="607" y2="74" stroke="#222" stroke-width="1.6"/>
<line x1="607" y1="75.5" x2="607" y2="77.5" stroke="#222" stroke-width="1.6"/>
<text x="479.5" y="58" font-size="24" text-anchor="middle">***</text>
<text x="14" y="65.5" font-size="39" font-weight="bold">a</text>
<line x1="845.54" y1="117.5" x2="845.54" y2="413.7" stroke="#b0b0b0" stroke-width="1.1" stroke-dasharray="5.5 4.5"/>
<line x1="929.39" y1="117.5" x2="929.39" y2="413.7" stroke="#b0b0b0" stroke-width="1.1" stroke-dasharray="5.5 4.5"/>
<line x1="1013.23" y1="117.5" x2="1013.23" y2="413.7" stroke="#b0b0b0" stroke-width="1.1" stroke-dasharray="5.5 4.5"/>
<line x1="1097.07" y1="117.5" x2="1097.07" y2="413.7" stroke="#b0b0b0" stroke-width="1.1" stroke-dasharray="5.5 4.5"/>
<line x1="1180.91" y1="117.5" x2="1180.91" y2="413.7" stroke="#b0b0b0" stroke-width="1.1" stroke-dasharray="5.5 4.5"/>
<line x1="1264.76" y1="117.5" x2="1264.76" y2="413.7" stroke="#b0b0b0" stroke-width="1.1" stroke-dasharray="5.5 4.5"/>
<line x1="761.7" y1="285.8" x2="1348.6" y2="285.8" stroke="#b8b8b8" stroke-width="1" stroke-dasharray="1.2 4"/>
<clipPath id="cpb"><rect x="761.7" y="117.5" width="586.9" height="296.2"/></clipPath><g clip-path="url(#cpb)">
<circle cx="799.24" cy="168.15" r="3.35" fill="#0081a7" fill-opacity="0.6"/>
<circle cx="799.58" cy="182.4" r="3.52" fill="#0081a7" fill-opacity="0.6"/>
<circle cx="799.58" cy="189.1" r="3.02" fill="#0081a7" fill-opacity="0.6"/>
<circle cx="798.57" cy="193.46" r="0.5" fill="#0081a7" fill-opacity="0.6"/>
<circle cx="800.08" cy="207.37" r="5.53" fill="#0081a7" fill-opacity="0.6"/>
<circle cx="799.08" cy="260.16" r="4.86" fill="#0081a7" fill-opacity="0.6"/>
<circle cx="799.41" cy="284.29" r="4.19" fill="#0081a7" fill-opacity="0.6"/>
<circle cx="798.91" cy="370.26" r="8.04" fill="#0081a7" fill-opacity="0.6"/>
<circle cx="883.54" cy="141.17" r="3.52" fill="#00afb9" fill-opacity="0.6"/>
<circle cx="883.88" cy="159.77" r="3.02" fill="#00afb9" fill-opacity="0.6"/>
<circle cx="883.54" cy="168.49" r="3.35" fill="#00afb9" fill-opacity="0.6"/>
<circle cx="883.71" cy="182.06" r="0.5" fill="#00afb9" fill-opacity="0.6"/>
<circle cx="883.21" cy="190.78" r="5.53" fill="#00afb9" fill-opacity="0.6"/>
<circle cx="883.54" cy="233.18" r="4.52" fill="#00afb9" fill-opacity="0.6"/>
<circle cx="883.21" cy="281.44" r="8.21" fill="#00afb9" fill-opacity="0.6"/>
<circle cx="883.54" cy="307.25" r="4.19" fill="#00afb9" fill-opacity="0.6"/>
<circle cx="967.5" cy="130.45" r="3.35" fill="#fdebb0" fill-opacity="0.6"/>
<circle cx="966.5" cy="134.3" r="5.36" fill="#fdebb0" fill-opacity="0.6"/>
<circle cx="967" cy="137.65" r="3.69" fill="#fdebb0" fill-opacity="0.6"/>
<circle cx="967.17" cy="170.33" r="0.5" fill="#fdebb0" fill-opacity="0.6"/>
<circle cx="967.17" cy="229.99" r="4.52" fill="#fdebb0" fill-opacity="0.6"/>
<circle cx="966.83" cy="275.58" r="8.04" fill="#fdebb0" fill-opacity="0.6"/>
<circle cx="966.83" cy="278.09" r="4.19" fill="#fdebb0" fill-opacity="0.6"/>
<circle cx="1050.96" cy="130.11" r="3.02" fill="#fed9b7" fill-opacity="0.6"/>
<circle cx="1051.97" cy="134.8" r="5.03" fill="#fed9b7" fill-opacity="0.6"/>
<circle cx="1050.96" cy="140.67" r="3.35" fill="#fed9b7" fill-opacity="0.6"/>
<circle cx="1051.46" cy="148.21" r="3.02" fill="#fed9b7" fill-opacity="0.6"/>
<circle cx="1049.96" cy="154.41" r="0.5" fill="#fed9b7" fill-opacity="0.6"/>
<circle cx="1050.79" cy="225.64" r="4.52" fill="#fed9b7" fill-opacity="0.6"/>
<circle cx="1050.79" cy="259.66" r="8.04" fill="#fed9b7" fill-opacity="0.6"/>
<circle cx="1051.13" cy="276.25" r="4.02" fill="#fed9b7" fill-opacity="0.6"/>
<circle cx="1135.3" cy="130.78" r="3.35" fill="#f4a9b8" fill-opacity="0.6"/>
<circle cx="1134.97" cy="145.19" r="3.02" fill="#f4a9b8" fill-opacity="0.6"/>
<circle cx="1134.97" cy="149.72" r="5.53" fill="#f4a9b8" fill-opacity="0.6"/>
<circle cx="1135.13" cy="157.6" r="3.35" fill="#f4a9b8" fill-opacity="0.6"/>
<circle cx="1134.46" cy="165.3" r="0.5" fill="#f4a9b8" fill-opacity="0.6"/>
<circle cx="1134.3" cy="257.65" r="4.69" fill="#f4a9b8" fill-opacity="0.6"/>
<circle cx="1135.13" cy="289.49" r="4.19" fill="#f4a9b8" fill-opacity="0.6"/>
<circle cx="1134.46" cy="310.94" r="8.21" fill="#f4a9b8" fill-opacity="0.6"/>
<circle cx="1218.43" cy="132.96" r="3.52" fill="#9d8189" fill-opacity="0.6"/>
<circle cx="1218.43" cy="137.99" r="3.35" fill="#9d8189" fill-opacity="0.6"/>
<circle cx="1218.26" cy="151.39" r="3.02" fill="#9d8189" fill-opacity="0.6"/>
<circle cx="1218.43" cy="155.25" r="5.53" fill="#9d8189" fill-opacity="0.6"/>
<circle cx="1218.76" cy="170.33" r="0.67" fill="#9d8189" fill-opacity="0.6"/>
<circle cx="1219.26" cy="235.69" r="4.52" fill="#9d8189" fill-opacity="0.6"/>
<circle cx="1218.93" cy="275.24" r="8.04" fill="#9d8189" fill-opacity="0.6"/>
<circle cx="1218.43" cy="285.63" r="4.02" fill="#9d8189" fill-opacity="0.6"/>
<circle cx="1302.39" cy="121.73" r="3.02" fill="#f07167" fill-opacity="0.6"/>
<circle cx="1302.05" cy="126.26" r="3.35" fill="#f07167" fill-opacity="0.6"/>
<circle cx="1301.55" cy="132.62" r="5.53" fill="#f07167" fill-opacity="0.6"/>
<circle cx="1301.89" cy="135.47" r="3.02" fill="#f07167" fill-opacity="0.6"/>
<circle cx="1301.38" cy="157.43" r="0.5" fill="#f07167" fill-opacity="0.6"/>
<circle cx="1302.22" cy="224.13" r="4.52" fill="#f07167" fill-opacity="0.6"/>
<circle cx="1302.22" cy="254.29" r="8.38" fill="#f07167" fill-opacity="0.6"/>
<circle cx="1301.72" cy="267.03" r="4.19" fill="#f07167" fill-opacity="0.6"/>
</g>
<line x1="791.03" y1="231.84" x2="808.96" y2="231.84" stroke="#ff0000" stroke-width="1.5"/>
<line x1="874.32" y1="207.7" x2="892.25" y2="207.7" stroke="#ff0000" stroke-width="1.5"/>
<line x1="958.28" y1="186.76" x2="976.22" y2="186.76" stroke="#ff0000" stroke-width="1.5"/>
<line x1="1042.25" y1="183.57" x2="1060.06" y2="183.57" stroke="#ff0000" stroke-width="1.5"/>
<line x1="1126.09" y1="200.67" x2="1143.85" y2="200.67" stroke="#ff0000" stroke-width="1.5"/>
<line x1="1209.88" y1="192.96" x2="1227.64" y2="192.96" stroke="#ff0000" stroke-width="1.5"/>
<line x1="1293.17" y1="177.2" x2="1310.94" y2="177.2" stroke="#ff0000" stroke-width="1.5"/>
<rect x="762.3" y="78" width="588.5" height="39.5" fill="#fff" stroke="#777" stroke-width="1"/>
<line x1="845.54" y1="78.5" x2="845.54" y2="117" stroke="#d8d8d8" stroke-width="1"/>
<line x1="929.39" y1="78.5" x2="929.39" y2="117" stroke="#d8d8d8" stroke-width="1"/>
<line x1="1013.23" y1="78.5" x2="1013.23" y2="117" stroke="#d8d8d8" stroke-width="1"/>
<line x1="1097.07" y1="78.5" x2="1097.07" y2="117" stroke="#d8d8d8" stroke-width="1"/>
<line x1="1180.91" y1="78.5" x2="1180.91" y2="117" stroke="#d8d8d8" stroke-width="1"/>
<line x1="1264.76" y1="78.5" x2="1264.76" y2="117" stroke="#d8d8d8" stroke-width="1"/>
<text transform="translate(803.62 107.5) scale(1 1.045)" font-size="27.6" text-anchor="middle">0.831</text>
<text transform="translate(887.46 107.5) scale(1 1.045)" font-size="27.6" text-anchor="middle">0.866</text>
<text transform="translate(971.31 107.5) scale(1 1.045)" font-size="27.6" text-anchor="middle">0.898</text>
<text transform="translate(1055.15 107.5) scale(1 1.045)" font-size="27.6" text-anchor="middle">0.902</text>
<text transform="translate(1138.99 107.5) scale(1 1.045)" font-size="27.6" text-anchor="middle">0.877</text>
<text transform="translate(1222.84 107.5) scale(1 1.045)" font-size="27.6" text-anchor="middle">0.888</text>
<text transform="translate(1306.68 107.5) scale(1 1.045)" font-size="27.6" text-anchor="middle">0.911</text>
<path d="M761.7 117.5V413.7H1348.6V117.5" fill="none" stroke="#222" stroke-width="1.3"/>
<line x1="754.2" y1="117.5" x2="761.7" y2="117.5" stroke="#222" stroke-width="1.2"/>
<text x="744" y="117.5" font-size="20.6" text-anchor="middle" transform="rotate(-90 744 117.5)">1.00</text>
<line x1="754.2" y1="285.8" x2="761.7" y2="285.8" stroke="#222" stroke-width="1.2"/>
<text x="744" y="285.8" font-size="20.6" text-anchor="middle" transform="rotate(-90 744 285.8)">0.75</text>
<line x1="758" y1="201.3" x2="761.7" y2="201.3" stroke="#222" stroke-width="1"/>
<line x1="758" y1="370.3" x2="761.7" y2="370.3" stroke="#222" stroke-width="1"/>
<line x1="803.62" y1="413.7" x2="803.62" y2="420.2" stroke="#222" stroke-width="1.2"/>
<text x="810.82" y="424.2" font-size="21.3" text-anchor="end" transform="rotate(-90 810.82 424.2)">R50</text>
<line x1="887.46" y1="413.7" x2="887.46" y2="420.2" stroke="#222" stroke-width="1.2"/>
<text x="894.66" y="424.2" font-size="21.3" text-anchor="end" transform="rotate(-90 894.66 424.2)">PLIP</text>
<line x1="971.31" y1="413.7" x2="971.31" y2="420.2" stroke="#222" stroke-width="1.2"/>
<text x="978.51" y="424.2" font-size="21.3" text-anchor="end" transform="rotate(-90 978.51 424.2)">CONCH</text>
<line x1="1055.15" y1="413.7" x2="1055.15" y2="420.2" stroke="#222" stroke-width="1.2"/>
<text x="1062.35" y="424.2" font-size="21.3" text-anchor="end" transform="rotate(-90 1062.35 424.2)">UNI</text>
<line x1="1138.99" y1="413.7" x2="1138.99" y2="420.2" stroke="#222" stroke-width="1.2"/>
<text x="1146.19" y="424.2" font-size="21.3" text-anchor="end" transform="rotate(-90 1146.19 424.2)">CHIEF</text>
<line x1="1222.84" y1="413.7" x2="1222.84" y2="420.2" stroke="#222" stroke-width="1.2"/>
<text x="1230.04" y="424.2" font-size="21.3" text-anchor="end" transform="rotate(-90 1230.04 424.2)">GigaPath</text>
<line x1="1306.68" y1="413.7" x2="1306.68" y2="420.2" stroke="#222" stroke-width="1.2"/>
<text x="1313.88" y="424.2" font-size="21.3" text-anchor="end" transform="rotate(-90 1313.88 424.2)">mSTAR (Ours)</text>
<text x="714" y="227" font-size="22.6" text-anchor="middle" transform="rotate(-90 714 227)">Macro-AUC</text>
<text x="1054.6" y="548.5" font-size="23.6" text-anchor="middle">Pathological Diagnosis</text>
<text x="1054.6" y="577.5" font-size="23.6" text-anchor="middle">(Independent)</text>
<path d="M1049.3 64.5V61.5H1059.1V64.5M1067.9 64.5V61.5H1077.7V64.5M1086.5 64.5V61.5H1096.3V64.5M1105.1 64.5V61.5H1114.9V64.5M1123.7 64.5V61.5H1133.5V64.5M1142.3 64.5V61.5H1152.1V64.5M1160.9 64.5V61.5H1170.7V64.5M1179.5 64.5V61.5H1189.3V64.5M1198.1 64.5V61.5H1207.9V64.5M1216.7 64.5V61.5H1226.5V64.5M1235.3 64.5V61.5H1245.1V64.5M1253.9 64.5V61.5H1263.7V64.5M1272.5 64.5V61.5H1282.3V64.5M1291.1 64.5V61.5H1300.9V64.5" fill="none" stroke="#222" stroke-width="1.1"/>
<line x1="1050.8" y1="67" x2="1050.8" y2="74" stroke="#222" stroke-width="1.6"/>
<line x1="1050.8" y1="75.5" x2="1050.8" y2="77.5" stroke="#222" stroke-width="1.6"/>
<line x1="1302" y1="67" x2="1302" y2="74" stroke="#222" stroke-width="1.6"/>
<line x1="1302" y1="75.5" x2="1302" y2="77.5" stroke="#222" stroke-width="1.6"/>
<text x="1177" y="58" font-size="24" text-anchor="middle">**</text>
<text x="701" y="63.5" font-size="39" font-weight="bold">b</text>
<line x1="1528.37" y1="117.9" x2="1528.37" y2="413.8" stroke="#b0b0b0" stroke-width="1.1" stroke-dasharray="5.5 4.5"/>
<line x1="1612.14" y1="117.9" x2="1612.14" y2="413.8" stroke="#b0b0b0" stroke-width="1.1" stroke-dasharray="5.5 4.5"/>
<line x1="1695.91" y1="117.9" x2="1695.91" y2="413.8" stroke="#b0b0b0" stroke-width="1.1" stroke-dasharray="5.5 4.5"/>
<line x1="1779.69" y1="117.9" x2="1779.69" y2="413.8" stroke="#b0b0b0" stroke-width="1.1" stroke-dasharray="5.5 4.5"/>
<line x1="1863.46" y1="117.9" x2="1863.46" y2="413.8" stroke="#b0b0b0" stroke-width="1.1" stroke-dasharray="5.5 4.5"/>
<line x1="1947.23" y1="117.9" x2="1947.23" y2="413.8" stroke="#b0b0b0" stroke-width="1.1" stroke-dasharray="5.5 4.5"/>
<line x1="1444.6" y1="159.4" x2="2031" y2="159.4" stroke="#b8b8b8" stroke-width="1" stroke-dasharray="1.2 4"/>
<line x1="1444.6" y1="244.4" x2="2031" y2="244.4" stroke="#b8b8b8" stroke-width="1" stroke-dasharray="1.2 4"/>
<line x1="1444.6" y1="329.2" x2="2031" y2="329.2" stroke="#b8b8b8" stroke-width="1" stroke-dasharray="1.2 4"/>
<clipPath id="cpc"><rect x="1444.6" y="117.9" width="586.4" height="295.9"/></clipPath><g clip-path="url(#cpc)">
<circle cx="1481.59" cy="260.33" r="4.69" fill="#0081a7" fill-opacity="0.6"/>
<circle cx="1482.93" cy="296.53" r="6.03" fill="#0081a7" fill-opacity="0.6"/>
<circle cx="1482.26" cy="308.59" r="4.52" fill="#0081a7" fill-opacity="0.6"/>
<circle cx="1482.43" cy="320.83" r="6.7" fill="#0081a7" fill-opacity="0.6"/>
<circle cx="1482.09" cy="326.19" r="7.04" fill="#0081a7" fill-opacity="0.6"/>
<circle cx="1481.92" cy="333.73" r="4.19" fill="#0081a7" fill-opacity="0.6"/>
<circle cx="1481.92" cy="357.19" r="8.04" fill="#0081a7" fill-opacity="0.6"/>
<circle cx="1483.6" cy="358.03" r="6.7" fill="#0081a7" fill-opacity="0.6"/>
<circle cx="1481.59" cy="362.22" r="5.03" fill="#0081a7" fill-opacity="0.6"/>
<circle cx="1481.92" cy="375.29" r="4.69" fill="#0081a7" fill-opacity="0.6"/>
<circle cx="1566.05" cy="180.05" r="5.36" fill="#00afb9" fill-opacity="0.6"/>
<circle cx="1565.89" cy="183.74" r="5.03" fill="#00afb9" fill-opacity="0.6"/>
<circle cx="1565.72" cy="252.79" r="5.03" fill="#00afb9" fill-opacity="0.6"/>
<circle cx="1566.89" cy="256.98" r="6.03" fill="#00afb9" fill-opacity="0.6"/>
<circle cx="1566.72" cy="265.86" r="7.04" fill="#00afb9" fill-opacity="0.6"/>
<circle cx="1565.89" cy="268.37" r="4.69" fill="#00afb9" fill-opacity="0.6"/>
<circle cx="1566.05" cy="306.41" r="6.7" fill="#00afb9" fill-opacity="0.6"/>
<circle cx="1566.39" cy="334.23" r="4.69" fill="#00afb9" fill-opacity="0.6"/>
<circle cx="1565.72" cy="348.31" r="7.71" fill="#00afb9" fill-opacity="0.6"/>
<circle cx="1565.55" cy="376.47" r="8.38" fill="#00afb9" fill-opacity="0.6"/>
<circle cx="1650.69" cy="144.36" r="6.2" fill="#fdebb0" fill-opacity="0.6"/>
<circle cx="1650.35" cy="155.75" r="5.2" fill="#fdebb0" fill-opacity="0.6"/>
<circle cx="1650.02" cy="247.09" r="7.04" fill="#fdebb0" fill-opacity="0.6"/>
<circle cx="1649.51" cy="253.29" r="4.69" fill="#fdebb0" fill-opacity="0.6"/>
<circle cx="1649.85" cy="272.39" r="4.36" fill="#fdebb0" fill-opacity="0.6"/>
<circle cx="1650.52" cy="290.16" r="6.7" fill="#fdebb0" fill-opacity="0.6"/>
<circle cx="1650.69" cy="339.6" r="4.69" fill="#fdebb0" fill-opacity="0.6"/>
<circle cx="1650.02" cy="364.4" r="8.04" fill="#fdebb0" fill-opacity="0.6"/>
<circle cx="1649.68" cy="385.01" r="7.54" fill="#fdebb0" fill-opacity="0.6"/>
<circle cx="1733.31" cy="145.19" r="5.87" fill="#fed9b7" fill-opacity="0.6"/>
<circle cx="1734.15" cy="152.23" r="4.52" fill="#fed9b7" fill-opacity="0.6"/>
<circle cx="1732.8" cy="155.75" r="5.03" fill="#fed9b7" fill-opacity="0.6"/>
<circle cx="1733.31" cy="239.38" r="6.7" fill="#fed9b7" fill-opacity="0.6"/>
<circle cx="1734.15" cy="262.51" r="6.37" fill="#fed9b7" fill-opacity="0.6"/>
<circle cx="1734.15" cy="283.45" r="4.36" fill="#fed9b7" fill-opacity="0.6"/>
<circle cx="1733.64" cy="333.73" r="6.7" fill="#fed9b7" fill-opacity="0.6"/>
<circle cx="1734.15" cy="336.58" r="4.69" fill="#fed9b7" fill-opacity="0.6"/>
<circle cx="1733.64" cy="356.02" r="7.71" fill="#fed9b7" fill-opacity="0.6"/>
<circle cx="1817.99" cy="170.33" r="5.03" fill="#f4a9b8" fill-opacity="0.6"/>
<circle cx="1817.66" cy="172.51" r="5.87" fill="#f4a9b8" fill-opacity="0.6"/>
<circle cx="1817.99" cy="238.88" r="7.04" fill="#f4a9b8" fill-opacity="0.6"/>
<circle cx="1817.83" cy="257.31" r="5.03" fill="#f4a9b8" fill-opacity="0.6"/>
<circle cx="1817.49" cy="273.57" r="4.36" fill="#f4a9b8" fill-opacity="0.6"/>
<circle cx="1818.5" cy="308.59" r="4.69" fill="#f4a9b8" fill-opacity="0.6"/>
<circle cx="1817.66" cy="314.46" r="6.7" fill="#f4a9b8" fill-opacity="0.6"/>
<circle cx="1818.16" cy="362.22" r="7.37" fill="#f4a9b8" fill-opacity="0.6"/>
<circle cx="1817.49" cy="368.92" r="8.38" fill="#f4a9b8" fill-opacity="0.6"/>
<circle cx="1901.62" cy="161.62" r="5.2" fill="#9d8189" fill-opacity="0.6"/>
<circle cx="1901.45" cy="187.09" r="4.69" fill="#9d8189" fill-opacity="0.6"/>
<circle cx="1901.29" cy="191.62" r="6.37" fill="#9d8189" fill-opacity="0.6"/>
<circle cx="1901.62" cy="252.95" r="7.04" fill="#9d8189" fill-opacity="0.6"/>
<circle cx="1901.29" cy="259.66" r="4.52" fill="#9d8189" fill-opacity="0.6"/>
<circle cx="1902.29" cy="262.51" r="4.86" fill="#9d8189" fill-opacity="0.6"/>
<circle cx="1902.12" cy="286.97" r="6.87" fill="#9d8189" fill-opacity="0.6"/>
<circle cx="1901.12" cy="344.12" r="4.86" fill="#9d8189" fill-opacity="0.6"/>
<circle cx="1901.29" cy="375.12" r="8.38" fill="#9d8189" fill-opacity="0.6"/>
<circle cx="1900.62" cy="383.17" r="7.54" fill="#9d8189" fill-opacity="0.6"/>
<circle cx="1985.25" cy="131.28" r="6.2" fill="#f07167" fill-opacity="0.6"/>
<circle cx="1985.58" cy="142.18" r="5.36" fill="#f07167" fill-opacity="0.6"/>
<circle cx="1985.42" cy="147.2" r="4.69" fill="#f07167" fill-opacity="0.6"/>
<circle cx="1985.92" cy="235.52" r="7.04" fill="#f07167" fill-opacity="0.6"/>
<circle cx="1985.58" cy="245.41" r="4.69" fill="#f07167" fill-opacity="0.6"/>
<circle cx="1985.42" cy="258.82" r="6.7" fill="#f07167" fill-opacity="0.6"/>
<circle cx="1985.25" cy="255.8" r="4.19" fill="#f07167" fill-opacity="0.6"/>
<circle cx="1984.91" cy="317.81" r="5.03" fill="#f07167" fill-opacity="0.6"/>
<circle cx="1985.42" cy="326.69" r="7.54" fill="#f07167" fill-opacity="0.6"/>
<circle cx="1985.42" cy="347.98" r="8.04" fill="#f07167" fill-opacity="0.6"/>
</g>
<line x1="1473.21" y1="329.54" x2="1490.81" y2="329.54" stroke="#ff0000" stroke-width="1.7"/>
<line x1="1557.17" y1="277.42" x2="1574.94" y2="277.42" stroke="#ff0000" stroke-width="1.7"/>
<line x1="1641.13" y1="260.83" x2="1658.73" y2="260.83" stroke="#ff0000" stroke-width="1.7"/>
<line x1="1725.26" y1="252.95" x2="1742.75" y2="252.95" stroke="#ff0000" stroke-width="1.7"/>
<line x1="1808.95" y1="263.85" x2="1826.54" y2="263.85" stroke="#ff0000" stroke-width="1.7"/>
<line x1="1892.4" y1="270.38" x2="1910.17" y2="270.38" stroke="#ff0000" stroke-width="1.7"/>
<line x1="1976.53" y1="240.72" x2="1994.13" y2="240.72" stroke="#ff0000" stroke-width="1.7"/>
<rect x="1444.6" y="75" width="586.4" height="42.9" fill="#fff" stroke="#777" stroke-width="1"/>
<line x1="1528.37" y1="75.5" x2="1528.37" y2="117.4" stroke="#d8d8d8" stroke-width="1"/>
<line x1="1612.14" y1="75.5" x2="1612.14" y2="117.4" stroke="#d8d8d8" stroke-width="1"/>
<line x1="1695.91" y1="75.5" x2="1695.91" y2="117.4" stroke="#d8d8d8" stroke-width="1"/>
<line x1="1779.69" y1="75.5" x2="1779.69" y2="117.4" stroke="#d8d8d8" stroke-width="1"/>
<line x1="1863.46" y1="75.5" x2="1863.46" y2="117.4" stroke="#d8d8d8" stroke-width="1"/>
<line x1="1947.23" y1="75.5" x2="1947.23" y2="117.4" stroke="#d8d8d8" stroke-width="1"/>
<text transform="translate(1486.49 106.9) scale(1 1.045)" font-size="27.6" text-anchor="middle">0.599</text>
<text transform="translate(1570.26 106.9) scale(1 1.045)" font-size="27.6" text-anchor="middle">0.692</text>
<text transform="translate(1654.03 106.9) scale(1 1.045)" font-size="27.6" text-anchor="middle">0.721</text>
<text transform="translate(1737.8 106.9) scale(1 1.045)" font-size="27.6" text-anchor="middle">0.735</text>
<text transform="translate(1821.57 106.9) scale(1 1.045)" font-size="27.6" text-anchor="middle">0.716</text>
<text transform="translate(1905.34 106.9) scale(1 1.045)" font-size="27.6" text-anchor="middle">0.704</text>
<text transform="translate(1989.11 106.9) scale(1 1.045)" font-size="27.6" text-anchor="middle">0.756</text>
<path d="M1444.6 75V413.8H2031V75" fill="none" stroke="#222" stroke-width="1.3"/>
<line x1="1437.1" y1="75" x2="1444.6" y2="75" stroke="#222" stroke-width="1.2"/>
<text x="1426.3" y="75" font-size="20.6" text-anchor="middle" transform="rotate(-90 1426.3 75)">1.05</text>
<line x1="1437.1" y1="159.4" x2="1444.6" y2="159.4" stroke="#222" stroke-width="1.2"/>
<text x="1426.3" y="159.4" font-size="20.6" text-anchor="middle" transform="rotate(-90 1426.3 159.4)">0.90</text>
<line x1="1437.1" y1="244.4" x2="1444.6" y2="244.4" stroke="#222" stroke-width="1.2"/>
<text x="1426.3" y="244.4" font-size="20.6" text-anchor="middle" transform="rotate(-90 1426.3 244.4)">0.75</text>
<line x1="1437.1" y1="329.2" x2="1444.6" y2="329.2" stroke="#222" stroke-width="1.2"/>
<text x="1426.3" y="329.2" font-size="20.6" text-anchor="middle" transform="rotate(-90 1426.3 329.2)">0.60</text>
<line x1="1437.1" y1="413.8" x2="1444.6" y2="413.8" stroke="#222" stroke-width="1.2"/>
<text x="1426.3" y="413.8" font-size="20.6" text-anchor="middle" transform="rotate(-90 1426.3 413.8)">0.45</text>
<line x1="1440.9" y1="117.3" x2="1444.6" y2="117.3" stroke="#222" stroke-width="1"/>
<line x1="1440.9" y1="201.8" x2="1444.6" y2="201.8" stroke="#222" stroke-width="1"/>
<line x1="1440.9" y1="286.8" x2="1444.6" y2="286.8" stroke="#222" stroke-width="1"/>
<line x1="1440.9" y1="371.8" x2="1444.6" y2="371.8" stroke="#222" stroke-width="1"/>
<line x1="1486.49" y1="413.8" x2="1486.49" y2="420.3" stroke="#222" stroke-width="1.2"/>
<text x="1493.69" y="424.3" font-size="21.3" text-anchor="end" transform="rotate(-90 1493.69 424.3)">R50</text>
<line x1="1570.26" y1="413.8" x2="1570.26" y2="420.3" stroke="#222" stroke-width="1.2"/>
<text x="1577.46" y="424.3" font-size="21.3" text-anchor="end" transform="rotate(-90 1577.46 424.3)">PLIP</text>
<line x1="1654.03" y1="413.8" x2="1654.03" y2="420.3" stroke="#222" stroke-width="1.2"/>
<text x="1661.23" y="424.3" font-size="21.3" text-anchor="end" transform="rotate(-90 1661.23 424.3)">CONCH</text>
<line x1="1737.8" y1="413.8" x2="1737.8" y2="420.3" stroke="#222" stroke-width="1.2"/>
<text x="1745" y="424.3" font-size="21.3" text-anchor="end" transform="rotate(-90 1745 424.3)">UNI</text>
<line x1="1821.57" y1="413.8" x2="1821.57" y2="420.3" stroke="#222" stroke-width="1.2"/>
<text x="1828.77" y="424.3" font-size="21.3" text-anchor="end" transform="rotate(-90 1828.77 424.3)">CHIEF</text>
<line x1="1905.34" y1="413.8" x2="1905.34" y2="420.3" stroke="#222" stroke-width="1.2"/>
<text x="1912.54" y="424.3" font-size="21.3" text-anchor="end" transform="rotate(-90 1912.54 424.3)">GigaPath</text>
<line x1="1989.11" y1="413.8" x2="1989.11" y2="420.3" stroke="#222" stroke-width="1.2"/>
<text x="1996.31" y="424.3" font-size="21.3" text-anchor="end" transform="rotate(-90 1996.31 424.3)">mSTAR (Ours)</text>
<text x="1397.5" y="262.7" font-size="22.6" text-anchor="middle" transform="rotate(-90 1397.5 262.7)">Macro-AUC</text>
<text x="1737.6" y="550" font-size="23.6" text-anchor="middle">Pathological Diagnosis</text>
<text x="1737.6" y="578.5" font-size="23.6" text-anchor="middle">(External)</text>
<path d="M1733.9 63V60H1743.7V63M1752.5 63V60H1762.3V63M1771.1 63V60H1780.9V63M1789.7 63V60H1799.5V63M1808.3 63V60H1818.1V63M1826.9 63V60H1836.7V63M1845.5 63V60H1855.3V63M1864.1 63V60H1873.9V63M1882.7 63V60H1892.5V63M1901.3 63V60H1911.1V63M1919.9 63V60H1929.7V63M1938.5 63V60H1948.3V63M1957.1 63V60H1966.9V63M1975.7 63V60H1985.5V63" fill="none" stroke="#222" stroke-width="1.1"/>
<line x1="1735.4" y1="65.5" x2="1735.4" y2="72.5" stroke="#222" stroke-width="1.6"/>
<line x1="1735.4" y1="74" x2="1735.4" y2="76" stroke="#222" stroke-width="1.6"/>
<line x1="1986.8" y1="65.5" x2="1986.8" y2="72.5" stroke="#222" stroke-width="1.6"/>
<line x1="1986.8" y1="74" x2="1986.8" y2="76" stroke="#222" stroke-width="1.6"/>
<text x="1860.4" y="60" font-size="24" text-anchor="middle">***</text>
<text x="1382" y="64" font-size="39" font-weight="bold">c</text>
</g>
<g id="p_d">
<line x1="313.7" y1="595.4" x2="313.7" y2="1054.2" stroke="#b8b8b8" stroke-width="1" stroke-dasharray="1.2 4"/>
<line x1="483.2" y1="595.4" x2="483.2" y2="1054.2" stroke="#b8b8b8" stroke-width="1" stroke-dasharray="1.2 4"/>
<line x1="144.2" y1="660.25" x2="652.7" y2="660.25" stroke="#b5b5b5" stroke-width="1.2" stroke-dasharray="6 4.2"/>
<line x1="144.2" y1="726.05" x2="652.7" y2="726.05" stroke="#b5b5b5" stroke-width="1.2" stroke-dasharray="6 4.2"/>
<line x1="144.2" y1="791.75" x2="652.7" y2="791.75" stroke="#b5b5b5" stroke-width="1.2" stroke-dasharray="6 4.2"/>
<line x1="144.2" y1="857.5" x2="652.7" y2="857.5" stroke="#b5b5b5" stroke-width="1.2" stroke-dasharray="6 4.2"/>
<line x1="144.2" y1="923.3" x2="652.7" y2="923.3" stroke="#b5b5b5" stroke-width="1.2" stroke-dasharray="6 4.2"/>
<line x1="144.2" y1="988.95" x2="652.7" y2="988.95" stroke="#b5b5b5" stroke-width="1.2" stroke-dasharray="6 4.2"/>
<rect x="535.8" y="614.7" width="87.3" height="25.2" fill="#f07167" stroke="#111" stroke-width="1.1"/>
<line x1="606.9" y1="614.7" x2="606.9" y2="639.9" stroke="#111" stroke-width="1.1"/>
<path d="M585.9 629.1L588.5 624.5L591.1 629.1Z" fill="none" stroke="#111" stroke-width="0.8"/>
<text x="590.3" y="614.1" font-size="15" text-anchor="middle">0.9624</text>
<line x1="136.5" y1="627.3" x2="144.2" y2="627.3" stroke="#222" stroke-width="1.1"/>
<text x="121.5" y="633.3" font-size="17.2" text-anchor="end">mSTAR (Ours)</text>
<rect x="561.5" y="680.6" width="59.7" height="25.2" fill="#9d8189" stroke="#111" stroke-width="1.1"/>
<line x1="602.7" y1="680.6" x2="602.7" y2="705.8" stroke="#111" stroke-width="1.1"/>
<path d="M592.4 695L595 690.4L597.6 695Z" fill="none" stroke="#111" stroke-width="0.8"/>
<text x="596.8" y="680" font-size="15" text-anchor="middle">0.9663</text>
<line x1="136.5" y1="693.2" x2="144.2" y2="693.2" stroke="#222" stroke-width="1.1"/>
<text x="121.5" y="699.2" font-size="17.2" text-anchor="end">GigaPath</text>
<rect x="510.8" y="746.3" width="81.5" height="25.2" fill="#f4a9b8" stroke="#111" stroke-width="1.1"/>
<line x1="589.6" y1="746.3" x2="589.6" y2="771.5" stroke="#111" stroke-width="1.1"/>
<path d="M561.6 760.7L564.2 756.1L566.8 760.7Z" fill="none" stroke="#111" stroke-width="0.8"/>
<text x="566" y="745.7" font-size="15" text-anchor="middle">0.9479</text>
<line x1="136.5" y1="758.9" x2="144.2" y2="758.9" stroke="#222" stroke-width="1.1"/>
<text x="121.5" y="764.9" font-size="17.2" text-anchor="end">CHIEF</text>
<rect x="548.8" y="812" width="66.6" height="25.2" fill="#fed9b7" stroke="#111" stroke-width="1.1"/>
<line x1="601.5" y1="812" x2="601.5" y2="837.2" stroke="#111" stroke-width="1.1"/>
<path d="M585.9 826.4L588.5 821.8L591.1 826.4Z" fill="none" stroke="#111" stroke-width="0.8"/>
<text x="590.3" y="811.4" font-size="15" text-anchor="middle">0.9624</text>
<line x1="136.5" y1="824.6" x2="144.2" y2="824.6" stroke="#222" stroke-width="1.1"/>
<text x="121.5" y="830.6" font-size="17.2" text-anchor="end">UNI</text>
<rect x="549.6" y="877.8" width="66.9" height="25.2" fill="#fdebb0" stroke="#111" stroke-width="1.1"/>
<line x1="606.2" y1="877.8" x2="606.2" y2="903" stroke="#111" stroke-width="1.1"/>
<path d="M588.2 892.2L590.8 887.6L593.4 892.2Z" fill="none" stroke="#111" stroke-width="0.8"/>
<text x="592.6" y="877.2" font-size="15" text-anchor="middle">0.9636</text>
<line x1="136.5" y1="890.4" x2="144.2" y2="890.4" stroke="#222" stroke-width="1.1"/>
<text x="121.5" y="896.4" font-size="17.2" text-anchor="end">CONCH</text>
<rect x="404.6" y="943.6" width="166.6" height="25.2" fill="#00afb9" stroke="#111" stroke-width="1.1"/>
<line x1="551.5" y1="943.6" x2="551.5" y2="968.8" stroke="#111" stroke-width="1.1"/>
<path d="M506.2 958L508.8 953.4L511.4 958Z" fill="none" stroke="#111" stroke-width="0.8"/>
<text x="510.6" y="943" font-size="15" text-anchor="middle">0.9155</text>
<line x1="136.5" y1="956.2" x2="144.2" y2="956.2" stroke="#222" stroke-width="1.1"/>
<text x="121.5" y="962.2" font-size="17.2" text-anchor="end">PLIP</text>
<rect x="241.5" y="1009.1" width="339.3" height="25.2" fill="#0081a7" stroke="#111" stroke-width="1.1"/>
<line x1="501.5" y1="1009.1" x2="501.5" y2="1034.3" stroke="#111" stroke-width="1.1"/>
<path d="M438.6 1023.5L441.2 1018.9L443.8 1023.5Z" fill="none" stroke="#111" stroke-width="0.8"/>
<text x="443" y="1008.5" font-size="15" text-anchor="middle">0.8754</text>
<line x1="136.5" y1="1021.7" x2="144.2" y2="1021.7" stroke="#222" stroke-width="1.1"/>
<text x="121.5" y="1027.7" font-size="17.2" text-anchor="end">R50</text>
<rect x="144.2" y="595.4" width="508.5" height="458.8" fill="none" stroke="#222" stroke-width="1.3"/>
<line x1="144.2" y1="1054.2" x2="144.2" y2="1058.7" stroke="#222" stroke-width="1.1"/>
<text x="144.2" y="1081.3" font-size="16.3" text-anchor="middle">0.7</text>
<line x1="313.7" y1="1054.2" x2="313.7" y2="1058.7" stroke="#222" stroke-width="1.1"/>
<text x="313.7" y="1081.3" font-size="16.3" text-anchor="middle">0.8</text>
<line x1="483.2" y1="1054.2" x2="483.2" y2="1058.7" stroke="#222" stroke-width="1.1"/>
<text x="483.2" y="1081.3" font-size="16.3" text-anchor="middle">0.9</text>
<line x1="652.7" y1="1054.2" x2="652.7" y2="1058.7" stroke="#222" stroke-width="1.1"/>
<text x="652.7" y="1081.3" font-size="16.3" text-anchor="middle">1.0</text>
<line x1="228.95" y1="1054.2" x2="228.95" y2="1056.8" stroke="#222" stroke-width="1"/>
<line x1="398.45" y1="1054.2" x2="398.45" y2="1056.8" stroke="#222" stroke-width="1"/>
<line x1="567.95" y1="1054.2" x2="567.95" y2="1056.8" stroke="#222" stroke-width="1"/>
<text x="398" y="1108.3" font-size="20.6" text-anchor="middle">Pathological Diagnosis</text>
<text x="398" y="1133.5" font-size="20.6" text-anchor="middle">(held-out)</text>
<rect x="160.4" y="607.3" width="178.8" height="22.8" fill="#fff" stroke="#444" stroke-width="1"/>
<line x1="169.5" y1="618.8" x2="192.5" y2="618.8" stroke="#111" stroke-width="1.2"/>
<text x="203.5" y="624.3" font-size="15.6">Median</text>
<path d="M271.2 620.8L273.8 616L276.4 620.8Z" fill="none" stroke="#111" stroke-width="0.8"/>
<text x="296.8" y="624.3" font-size="15.6">Mean</text>
<text x="14" y="589" font-size="39" font-weight="bold">d</text>
</g>
<g id="p_e">
<text x="892.3" y="617.8" font-size="28.2" textLength="984" lengthAdjust="spacingAndGlyphs">Task Distribution of Pathological Dianosis across Sites for Different Evaluation</text>
<path d="M774.8 638.8C1020.63 638.8 1100.67 638.8 1346.5 638.8V659.57C1100.67 659.57 1020.63 659.57 774.8 659.57Z" fill="#bfe4f5" fill-opacity="0.6"/>
<path d="M774.8 659.57C1020.63 659.57 1100.67 682.24 1346.5 682.24V723.78C1100.67 723.78 1020.63 701.11 774.8 701.11Z" fill="#bfe4f5" fill-opacity="0.6"/>
<path d="M774.8 701.11C1020.63 701.11 1100.67 725.68 1346.5 725.68V746.45C1100.67 746.45 1020.63 721.88 774.8 721.88Z" fill="#bfe4f5" fill-opacity="0.6"/>
<path d="M774.8 721.88C1020.63 721.88 1100.67 769.12 1346.5 769.12V872.97C1100.67 872.97 1020.63 825.73 774.8 825.73Z" fill="#bfe4f5" fill-opacity="0.6"/>
<path d="M774.8 825.73C1020.63 825.73 1100.67 957.95 1346.5 957.95V978.72C1100.67 978.72 1020.63 846.5 774.8 846.5Z" fill="#bfe4f5" fill-opacity="0.6"/>
<path d="M774.8 848.6C1020.63 848.6 1100.67 659.57 1346.5 659.57V680.34C1100.67 680.34 1020.63 869.37 774.8 869.37Z" fill="#eec395" fill-opacity="0.6"/>
<path d="M774.8 869.37C1020.63 869.37 1100.67 978.72 1346.5 978.72V1061.8C1100.67 1061.8 1020.63 952.45 774.8 952.45Z" fill="#eec395" fill-opacity="0.6"/>
<path d="M774.8 954.55C1020.63 954.55 1100.67 872.97 1346.5 872.97V956.05C1100.67 956.05 1020.63 1037.63 774.8 1037.63Z" fill="#b3d69f" fill-opacity="0.6"/>
<path d="M774.8 1039.73C1020.63 1039.73 1100.67 1063.7 1346.5 1063.7V1084.47C1100.67 1084.47 1020.63 1060.5 774.8 1060.5Z" fill="#ea9fc0" fill-opacity="0.6"/>
<path d="M774.8 1062.6C1020.63 1062.6 1100.67 746.45 1346.5 746.45V767.22C1100.67 767.22 1020.63 1083.37 774.8 1083.37Z" fill="#979bcf" fill-opacity="0.6"/>
<path d="M1386.7 638.8C1632.53 638.8 1712.57 638.8 1958.4 638.8V659.57C1712.57 659.57 1632.53 659.57 1386.7 659.57Z" fill="#bfe4f5" fill-opacity="0.6"/>
<path d="M1386.7 682.24C1632.53 682.24 1712.57 659.57 1958.4 659.57V680.34C1712.57 680.34 1632.53 703.01 1386.7 703.01Z" fill="#bfe4f5" fill-opacity="0.6"/>
<path d="M1386.7 703.01C1632.53 703.01 1712.57 705.51 1958.4 705.51V726.28C1712.57 726.28 1632.53 723.78 1386.7 723.78Z" fill="#bfe4f5" fill-opacity="0.6"/>
<path d="M1386.7 725.68C1632.53 725.68 1712.57 917.61 1958.4 917.61V938.38C1712.57 938.38 1632.53 746.45 1386.7 746.45Z" fill="#bfe4f5" fill-opacity="0.6"/>
<path d="M1386.7 725.68C1632.53 725.68 1712.57 896.84 1958.4 896.84V917.61C1712.57 917.61 1632.53 746.45 1386.7 746.45Z" fill="#bfe4f5" fill-opacity="0.6"/>
<path d="M1386.7 769.12C1632.53 769.12 1712.57 726.28 1958.4 726.28V830.13C1712.57 830.13 1632.53 872.97 1386.7 872.97Z" fill="#bfe4f5" fill-opacity="0.6"/>
<path d="M1386.7 957.95C1632.53 957.95 1712.57 680.34 1958.4 680.34V701.11C1712.57 701.11 1632.53 978.72 1386.7 978.72Z" fill="#bfe4f5" fill-opacity="0.6"/>
<path d="M1386.7 957.95C1632.53 957.95 1712.57 704.01 1958.4 704.01V724.78C1712.57 724.78 1632.53 978.72 1386.7 978.72Z" fill="#bfe4f5" fill-opacity="0.6"/>
<path d="M1386.7 659.57C1632.53 659.57 1712.57 938.38 1958.4 938.38V959.15C1712.57 959.15 1632.53 680.34 1386.7 680.34Z" fill="#eec395" fill-opacity="0.6"/>
<path d="M1386.7 978.72C1632.53 978.72 1712.57 830.13 1958.4 830.13V871.67C1712.57 871.67 1632.53 1020.26 1386.7 1020.26Z" fill="#eec395" fill-opacity="0.6"/>
<path d="M1386.7 1020.26C1632.53 1020.26 1712.57 959.15 1958.4 959.15V1000.69C1712.57 1000.69 1632.53 1061.8 1386.7 1061.8Z" fill="#eec395" fill-opacity="0.6"/>
<path d="M1386.7 872.97C1632.53 872.97 1712.57 871.67 1958.4 871.67V913.21C1712.57 913.21 1632.53 914.51 1386.7 914.51Z" fill="#b3d69f" fill-opacity="0.6"/>
<path d="M1386.7 914.51C1632.53 914.51 1712.57 1000.69 1958.4 1000.69V1042.23C1712.57 1042.23 1632.53 956.05 1386.7 956.05Z" fill="#b3d69f" fill-opacity="0.6"/>
<path d="M1386.7 1063.7C1632.53 1063.7 1712.57 1042.23 1958.4 1042.23V1063C1712.57 1063 1632.53 1084.47 1386.7 1084.47Z" fill="#ea9fc0" fill-opacity="0.6"/>
<path d="M1386.7 746.45C1632.53 746.45 1712.57 1063 1958.4 1063V1083.77C1712.57 1083.77 1632.53 767.22 1386.7 767.22Z" fill="#979bcf" fill-opacity="0.6"/>
<rect x="735.4" y="638.8" width="38.1" height="207.7" fill="#bfe4f5"/>
<rect x="735.4" y="638.8" width="38.1" height="207.7" fill="none" stroke="#111" stroke-width="1.35"/>
<rect x="735.4" y="848.6" width="38.1" height="103.85" fill="#eec395"/>
<rect x="735.4" y="848.6" width="38.1" height="103.85" fill="none" stroke="#111" stroke-width="1.35"/>
<rect x="735.4" y="954.55" width="38.1" height="83.08" fill="#b3d69f"/>
<rect x="735.4" y="954.55" width="38.1" height="83.08" fill="none" stroke="#111" stroke-width="1.35"/>
<rect x="735.4" y="1039.73" width="38.1" height="20.77" fill="#ea9fc0"/>
<rect x="735.4" y="1039.73" width="38.1" height="20.77" fill="none" stroke="#111" stroke-width="1.35"/>
<rect x="735.4" y="1062.6" width="38.1" height="20.77" fill="#979bcf"/>
<rect x="735.4" y="1062.6" width="38.1" height="20.77" fill="none" stroke="#111" stroke-width="1.35"/>
<rect x="1347.3" y="638.8" width="38.1" height="20.77" fill="#bfe4f5"/>
<rect x="1347.3" y="659.57" width="38.1" height="20.77" fill="#eec395"/>
<rect x="1347.3" y="638.8" width="38.1" height="41.54" fill="none" stroke="#111" stroke-width="1.35"/>
<rect x="1347.3" y="682.24" width="38.1" height="41.54" fill="#bfe4f5"/>
<rect x="1347.3" y="682.24" width="38.1" height="41.54" fill="none" stroke="#111" stroke-width="1.35"/>
<rect x="1347.3" y="725.68" width="38.1" height="20.77" fill="#bfe4f5"/>
<rect x="1347.3" y="746.45" width="38.1" height="20.77" fill="#979bcf"/>
<rect x="1347.3" y="725.68" width="38.1" height="41.54" fill="none" stroke="#111" stroke-width="1.35"/>
<rect x="1347.3" y="769.12" width="38.1" height="103.85" fill="#bfe4f5"/>
<rect x="1347.3" y="872.97" width="38.1" height="83.08" fill="#b3d69f"/>
<rect x="1347.3" y="769.12" width="38.1" height="186.93" fill="none" stroke="#111" stroke-width="1.35"/>
<rect x="1347.3" y="957.95" width="38.1" height="20.77" fill="#bfe4f5"/>
<rect x="1347.3" y="978.72" width="38.1" height="83.08" fill="#eec395"/>
<rect x="1347.3" y="957.95" width="38.1" height="103.85" fill="none" stroke="#111" stroke-width="1.35"/>
<rect x="1347.3" y="1063.7" width="38.1" height="20.77" fill="#ea9fc0"/>
<rect x="1347.3" y="1063.7" width="38.1" height="20.77" fill="none" stroke="#111" stroke-width="1.35"/>
<rect x="1959.2" y="638.8" width="38" height="62.31" fill="#bfe4f5"/>
<rect x="1959.2" y="638.8" width="38" height="62.31" fill="none" stroke="#111" stroke-width="1.35"/>
<rect x="1959.2" y="705.51" width="38" height="124.62" fill="#bfe4f5"/>
<rect x="1959.2" y="830.13" width="38" height="41.54" fill="#eec395"/>
<rect x="1959.2" y="871.67" width="38" height="41.54" fill="#b3d69f"/>
<rect x="1959.2" y="705.51" width="38" height="207.7" fill="none" stroke="#111" stroke-width="1.35"/>
<rect x="1959.2" y="917.61" width="38" height="20.77" fill="#bfe4f5"/>
<rect x="1959.2" y="938.38" width="38" height="62.31" fill="#eec395"/>
<rect x="1959.2" y="1000.69" width="38" height="41.54" fill="#b3d69f"/>
<rect x="1959.2" y="1042.23" width="38" height="20.77" fill="#ea9fc0"/>
<rect x="1959.2" y="1063" width="38" height="20.77" fill="#979bcf"/>
<rect x="1959.2" y="917.61" width="38" height="166.16" fill="none" stroke="#111" stroke-width="1.35"/>
<text x="783.8" y="751" font-size="20.8">Pathological Subtyping</text>
<text x="754.5" y="748.5" font-size="27" text-anchor="middle">10</text>
<text x="783.8" y="908" font-size="20.8">Metastasis Detection</text>
<text x="754.5" y="909" font-size="27" text-anchor="middle">5</text>
<text x="783.8" y="1003" font-size="20.8">Morphology Prediction</text>
<text x="754.5" y="998.5" font-size="27" text-anchor="middle">4</text>
<text x="783.8" y="1058" font-size="20.8">Pathological Grading</text>
<text x="754.5" y="1058.8" font-size="27" text-anchor="middle">1</text>
<text x="783.8" y="1081" font-size="20.8">Pathological Staging</text>
<text x="754.5" y="1081" font-size="27" text-anchor="middle">1</text>
<text x="1395.7" y="667" font-size="20.8">Breast</text>
<text x="1366.3" y="665.8" font-size="27" text-anchor="middle">2</text>
<text x="1395.7" y="710.8" font-size="20.8">Brain</text>
<text x="1366.3" y="707" font-size="27" text-anchor="middle">2</text>
<text x="1395.7" y="753.5" font-size="20.8">Head&amp;Neck</text>
<text x="1366.3" y="751" font-size="27" text-anchor="middle">2</text>
<text x="1395.7" y="869.6" font-size="20.8">Gastric</text>
<text x="1366.3" y="873.5" font-size="27" text-anchor="middle">9</text>
<text x="1395.7" y="1017" font-size="20.8">Lung</text>
<text x="1366.3" y="1019.6" font-size="27" text-anchor="middle">5</text>
<text x="1395.7" y="1080" font-size="20.8">Prostate</text>
<text x="1366.3" y="1080" font-size="27" text-anchor="middle">1</text>
<text x="1948.4" y="677.3" font-size="20.8" text-anchor="end">Held-out</text>
<text x="1978.2" y="678.5" font-size="27" text-anchor="middle">3</text>
<text x="1948.4" y="817" font-size="20.8" text-anchor="end">External</text>
<text x="1978.2" y="820.8" font-size="27" text-anchor="middle">10</text>
<text x="1948.4" y="1008" font-size="20.8" text-anchor="end">Independent</text>
<text x="1978.2" y="1012" font-size="27" text-anchor="middle">8</text>
<text x="728.8" y="1130.4" font-size="24.8">Task</text>
<text x="1346" y="1130.4" font-size="24.8">Site</text>
<text x="1921.5" y="1130.4" font-size="24.8">Evaluation</text>
<text x="701" y="589" font-size="39" font-weight="bold">e</text>
</g>
<g id="p_fg">
<line x1="158.9" y1="1190" x2="158.9" y2="1606.5" stroke="#b0b0b0" stroke-width="1.1" stroke-dasharray="5.5 4.5"/>
<line x1="240.9" y1="1190" x2="240.9" y2="1606.5" stroke="#b0b0b0" stroke-width="1.1" stroke-dasharray="5.5 4.5"/>
<line x1="322.9" y1="1190" x2="322.9" y2="1606.5" stroke="#b0b0b0" stroke-width="1.1" stroke-dasharray="5.5 4.5"/>
<line x1="404.9" y1="1190" x2="404.9" y2="1606.5" stroke="#b0b0b0" stroke-width="1.1" stroke-dasharray="5.5 4.5"/>
<line x1="486.9" y1="1190" x2="486.9" y2="1606.5" stroke="#b0b0b0" stroke-width="1.1" stroke-dasharray="5.5 4.5"/>
<line x1="568.9" y1="1190" x2="568.9" y2="1606.5" stroke="#b0b0b0" stroke-width="1.1" stroke-dasharray="5.5 4.5"/>
<line x1="76.9" y1="1265.8" x2="650.9" y2="1265.8" stroke="#b8b8b8" stroke-width="1" stroke-dasharray="1.2 4"/>
<line x1="76.9" y1="1402.7" x2="650.9" y2="1402.7" stroke="#b8b8b8" stroke-width="1" stroke-dasharray="1.2 4"/>
<line x1="76.9" y1="1538.5" x2="650.9" y2="1538.5" stroke="#b8b8b8" stroke-width="1" stroke-dasharray="1.2 4"/>
<rect x="96.8" y="1431.92" width="42.2" height="174.58" fill="#0081a7" stroke="#000" stroke-width="1.4"/>
<rect x="178.8" y="1375.77" width="42.2" height="230.73" fill="#00afb9" stroke="#000" stroke-width="1.4"/>
<rect x="260.8" y="1365.38" width="42.2" height="241.12" fill="#fdebb0" stroke="#000" stroke-width="1.4"/>
<rect x="342.8" y="1359.62" width="42.2" height="246.88" fill="#fed9b7" stroke="#000" stroke-width="1.4"/>
<rect x="424.8" y="1368.46" width="42.2" height="238.04" fill="#f4a9b8" stroke="#000" stroke-width="1.4"/>
<rect x="506.8" y="1367.31" width="42.2" height="239.19" fill="#9d8189" stroke="#000" stroke-width="1.4"/>
<rect x="588.8" y="1346.92" width="42.2" height="259.58" fill="#f07167" stroke="#000" stroke-width="1.4"/>
<text x="126.5" y="1606.9" font-size="23.6" transform="rotate(-90 126.5 1606.9)">0.6807</text>
<text x="208.5" y="1606.9" font-size="23.6" transform="rotate(-90 208.5 1606.9)">0.7555</text>
<text x="290.5" y="1606.9" font-size="23.6" transform="rotate(-90 290.5 1606.9)">0.7686</text>
<text x="372.5" y="1606.9" font-size="23.6" transform="rotate(-90 372.5 1606.9)">0.7761</text>
<text x="454.5" y="1606.9" font-size="23.6" transform="rotate(-90 454.5 1606.9)">0.7648</text>
<text x="536.5" y="1606.9" font-size="23.6" transform="rotate(-90 536.5 1606.9)">0.7659</text>
<text x="618.5" y="1606.9" font-size="23.6" transform="rotate(-90 618.5 1606.9)">0.7930</text>
<path d="M109.4 1373.46H126.4M117.9 1373.46V1490M109.4 1490H126.4" stroke="#111" stroke-width="1.3" fill="none"/>
<path d="M191.4 1318.85H208.4M199.9 1318.85V1431.92M191.4 1431.92H208.4" stroke="#111" stroke-width="1.3" fill="none"/>
<path d="M273.4 1299.62H290.4M281.9 1299.62V1431.54M273.4 1431.54H290.4" stroke="#111" stroke-width="1.3" fill="none"/>
<path d="M355.4 1298.46H372.4M363.9 1298.46V1420.77M355.4 1420.77H372.4" stroke="#111" stroke-width="1.3" fill="none"/>
<path d="M437.4 1309.23H454.4M445.9 1309.23V1427.31M437.4 1427.31H454.4" stroke="#111" stroke-width="1.3" fill="none"/>
<path d="M519.4 1300.77H536.4M527.9 1300.77V1434.23M519.4 1434.23H536.4" stroke="#111" stroke-width="1.3" fill="none"/>
<path d="M601.4 1289.23H618.4M609.9 1289.23V1404.62M601.4 1404.62H618.4" stroke="#111" stroke-width="1.3" fill="none"/>
<path d="M118.08 1216.91L123.48 1222.31L118.08 1227.71L112.68 1222.31ZM118.08 1251.91L123.48 1257.31L118.08 1262.71L112.68 1257.31ZM111.15 1344.98L116.55 1350.38L111.15 1355.78L105.75 1350.38ZM125.77 1368.45L131.17 1373.85L125.77 1379.25L120.37 1373.85ZM118.08 1460.37L123.48 1465.77L118.08 1471.17L112.68 1465.77ZM125 1493.06L130.4 1498.46L125 1503.86L119.6 1498.46ZM111.15 1523.83L116.55 1529.23L111.15 1534.63L105.75 1529.23ZM118.08 1531.52L123.48 1536.92L118.08 1542.32L112.68 1536.92ZM131.92 1526.14L137.32 1531.54L131.92 1536.94L126.52 1531.54ZM103.85 1548.83L109.25 1554.23L103.85 1559.63L98.45 1554.23Z" fill="#9be7ff" fill-opacity="0.88"/>
<path d="M199.62 1220.75L205.02 1226.15L199.62 1231.55L194.22 1226.15ZM199.62 1229.6L205.02 1235L199.62 1240.4L194.22 1235ZM188.85 1288.45L194.25 1293.85L188.85 1299.25L183.45 1293.85ZM210 1295.37L215.4 1300.77L210 1306.17L204.6 1300.77ZM199.62 1314.22L205.02 1319.62L199.62 1325.02L194.22 1319.62ZM188.85 1385.37L194.25 1390.77L188.85 1396.17L183.45 1390.77ZM210 1406.14L215.4 1411.54L210 1416.94L204.6 1411.54ZM210 1494.22L215.4 1499.62L210 1505.02L204.6 1499.62ZM188.85 1513.06L194.25 1518.46L188.85 1523.86L183.45 1518.46ZM199.62 1551.14L205.02 1556.54L199.62 1561.94L194.22 1556.54Z" fill="#9be7ff" fill-opacity="0.88"/>
<path d="M270.77 1205.37L276.17 1210.77L270.77 1216.17L265.37 1210.77ZM292.31 1201.52L297.71 1206.92L292.31 1212.32L286.91 1206.92ZM292.31 1230.37L297.71 1235.77L292.31 1241.17L286.91 1235.77ZM270.77 1255.75L276.17 1261.15L270.77 1266.55L265.37 1261.15ZM281.54 1311.14L286.94 1316.54L281.54 1321.94L276.14 1316.54ZM270.77 1386.52L276.17 1391.92L270.77 1397.32L265.37 1391.92ZM292.31 1411.52L297.71 1416.92L292.31 1422.32L286.91 1416.92ZM281.54 1501.52L286.94 1506.92L281.54 1512.32L276.14 1506.92ZM292.31 1534.6L297.71 1540L292.31 1545.4L286.91 1540ZM270.77 1561.52L276.17 1566.92L270.77 1572.32L265.37 1566.92Z" fill="#fff0cf" fill-opacity="0.88"/>
<path d="M356.15 1207.68L361.55 1213.08L356.15 1218.48L350.75 1213.08ZM370.77 1202.29L376.17 1207.69L370.77 1213.09L365.37 1207.69ZM370.77 1231.14L376.17 1236.54L370.77 1241.94L365.37 1236.54ZM356.15 1256.14L361.55 1261.54L356.15 1266.94L350.75 1261.54ZM363.46 1305.75L368.86 1311.15L363.46 1316.55L358.06 1311.15ZM363.46 1399.22L368.86 1404.62L363.46 1410.02L358.06 1404.62ZM363.46 1426.91L368.86 1432.31L363.46 1437.71L358.06 1432.31ZM363.46 1498.45L368.86 1503.85L363.46 1509.25L358.06 1503.85ZM377.31 1494.22L382.71 1499.62L377.31 1505.02L371.91 1499.62ZM349.23 1523.06L354.63 1528.46L349.23 1533.86L343.83 1528.46Z" fill="#f6a55a" fill-opacity="0.88"/>
<path d="M435 1212.29L440.4 1217.69L435 1223.09L429.6 1217.69ZM456.15 1213.45L461.55 1218.85L456.15 1224.25L450.75 1218.85ZM445.38 1248.45L450.78 1253.85L445.38 1259.25L439.98 1253.85ZM445.38 1278.45L450.78 1283.85L445.38 1289.25L439.98 1283.85ZM445.38 1342.29L450.78 1347.69L445.38 1353.09L439.98 1347.69ZM445.38 1391.52L450.78 1396.92L445.38 1402.32L439.98 1396.92ZM445.38 1412.29L450.78 1417.69L445.38 1423.09L439.98 1417.69ZM445.38 1460.37L450.78 1465.77L445.38 1471.17L439.98 1465.77ZM435 1531.52L440.4 1536.92L435 1542.32L429.6 1536.92ZM456.15 1539.98L461.55 1545.38L456.15 1550.78L450.75 1545.38Z" fill="#fbd3da" fill-opacity="0.88"/>
<path d="M516.92 1206.52L522.32 1211.92L516.92 1217.32L511.52 1211.92ZM538.08 1199.22L543.48 1204.62L538.08 1210.02L532.68 1204.62ZM527.69 1225.75L533.09 1231.15L527.69 1236.55L522.29 1231.15ZM527.69 1263.45L533.09 1268.85L527.69 1274.25L522.29 1268.85ZM527.69 1317.68L533.09 1323.08L527.69 1328.48L522.29 1323.08ZM516.92 1398.06L522.32 1403.46L516.92 1408.86L511.52 1403.46ZM538.08 1394.98L543.48 1400.38L538.08 1405.78L532.68 1400.38ZM527.69 1507.29L533.09 1512.69L527.69 1518.09L522.29 1512.69ZM538.08 1548.83L543.48 1554.23L538.08 1559.63L532.68 1554.23ZM516.92 1559.22L522.32 1564.62L516.92 1570.02L511.52 1564.62Z" fill="#e2d6da" fill-opacity="0.88"/>
<path d="M598.46 1205.37L603.86 1210.77L598.46 1216.17L593.06 1210.77ZM619.62 1198.45L625.02 1203.85L619.62 1209.25L614.22 1203.85ZM598.46 1237.29L603.86 1242.69L598.46 1248.09L593.06 1242.69ZM619.62 1236.91L625.02 1242.31L619.62 1247.71L614.22 1242.31ZM609.23 1304.6L614.63 1310L609.23 1315.4L603.83 1310ZM598.46 1376.14L603.86 1381.54L598.46 1386.94L593.06 1381.54ZM619.62 1388.83L625.02 1394.23L619.62 1399.63L614.22 1394.23ZM619.62 1472.68L625.02 1478.08L619.62 1483.48L614.22 1478.08ZM598.46 1484.22L603.86 1489.62L598.46 1495.02L593.06 1489.62ZM609.23 1512.29L614.63 1517.69L609.23 1523.09L603.83 1517.69Z" fill="#fbc4c2" fill-opacity="0.88"/>
<rect x="76.9" y="1190" width="574" height="416.5" fill="none" stroke="#333" stroke-width="1.2"/>
<line x1="72.4" y1="1265.8" x2="76.9" y2="1265.8" stroke="#222" stroke-width="1.2"/>
<text x="58.5" y="1265.8" font-size="24" text-anchor="middle" transform="rotate(-90 58.5 1265.8)">0.90</text>
<line x1="72.4" y1="1402.7" x2="76.9" y2="1402.7" stroke="#222" stroke-width="1.2"/>
<text x="58.5" y="1402.7" font-size="24" text-anchor="middle" transform="rotate(-90 58.5 1402.7)">0.72</text>
<line x1="72.4" y1="1538.5" x2="76.9" y2="1538.5" stroke="#222" stroke-width="1.2"/>
<text x="58.5" y="1538.5" font-size="24" text-anchor="middle" transform="rotate(-90 58.5 1538.5)">0.54</text>
<line x1="74.1" y1="1197.7" x2="76.9" y2="1197.7" stroke="#222" stroke-width="1"/>
<line x1="74.1" y1="1334" x2="76.9" y2="1334" stroke="#222" stroke-width="1"/>
<line x1="74.1" y1="1470.8" x2="76.9" y2="1470.8" stroke="#222" stroke-width="1"/>
<line x1="74.1" y1="1606.5" x2="76.9" y2="1606.5" stroke="#222" stroke-width="1"/>
<line x1="117.9" y1="1606.5" x2="117.9" y2="1613.5" stroke="#222" stroke-width="1.2"/>
<text x="126.9" y="1614.3" font-size="26" text-anchor="end" transform="rotate(-90 126.9 1614.3)">R50</text>
<line x1="199.9" y1="1606.5" x2="199.9" y2="1613.5" stroke="#222" stroke-width="1.2"/>
<text x="208.9" y="1614.3" font-size="26" text-anchor="end" transform="rotate(-90 208.9 1614.3)">PLIP</text>
<line x1="281.9" y1="1606.5" x2="281.9" y2="1613.5" stroke="#222" stroke-width="1.2"/>
<text x="290.9" y="1614.3" font-size="26" text-anchor="end" transform="rotate(-90 290.9 1614.3)">CONCH</text>
<line x1="363.9" y1="1606.5" x2="363.9" y2="1613.5" stroke="#222" stroke-width="1.2"/>
<text x="372.9" y="1614.3" font-size="26" text-anchor="end" transform="rotate(-90 372.9 1614.3)">UNI</text>
<line x1="445.9" y1="1606.5" x2="445.9" y2="1613.5" stroke="#222" stroke-width="1.2"/>
<text x="454.9" y="1614.3" font-size="26" text-anchor="end" transform="rotate(-90 454.9 1614.3)">CHIEF</text>
<line x1="527.9" y1="1606.5" x2="527.9" y2="1613.5" stroke="#222" stroke-width="1.2"/>
<text x="536.9" y="1614.3" font-size="26" text-anchor="end" transform="rotate(-90 536.9 1614.3)">GigaPath</text>
<line x1="609.9" y1="1606.5" x2="609.9" y2="1613.5" stroke="#222" stroke-width="1.2"/>
<text x="618.9" y="1614.3" font-size="26" text-anchor="end" transform="rotate(-90 618.9 1614.3)">mSTAR (Ours)</text>
<text x="21" y="1399.6" font-size="27.6" text-anchor="middle" transform="rotate(-90 21 1399.6)">Macro-AUC</text>
<text x="349" y="1758.5" font-size="28.2" text-anchor="middle">Pathological Subtyping</text>
<text x="349" y="1792.9" font-size="28.2" text-anchor="middle">(Overall)</text>
<path d="M363.5 1188V1173.8H608.5V1188" fill="none" stroke="#333" stroke-width="1.1"/>
<text x="486" y="1178" font-size="26" text-anchor="middle">**</text>
<text x="16" y="1240.8" font-size="39" font-weight="bold">f</text>
<line x1="891.67" y1="1189.2" x2="891.67" y2="1602.4" stroke="#b0b0b0" stroke-width="1.1" stroke-dasharray="5.5 4.5"/>
<line x1="974.14" y1="1189.2" x2="974.14" y2="1602.4" stroke="#b0b0b0" stroke-width="1.1" stroke-dasharray="5.5 4.5"/>
<line x1="1056.61" y1="1189.2" x2="1056.61" y2="1602.4" stroke="#b0b0b0" stroke-width="1.1" stroke-dasharray="5.5 4.5"/>
<line x1="1139.09" y1="1189.2" x2="1139.09" y2="1602.4" stroke="#b0b0b0" stroke-width="1.1" stroke-dasharray="5.5 4.5"/>
<line x1="1221.56" y1="1189.2" x2="1221.56" y2="1602.4" stroke="#b0b0b0" stroke-width="1.1" stroke-dasharray="5.5 4.5"/>
<line x1="1304.03" y1="1189.2" x2="1304.03" y2="1602.4" stroke="#b0b0b0" stroke-width="1.1" stroke-dasharray="5.5 4.5"/>
<line x1="809.2" y1="1354.6" x2="1386.5" y2="1354.6" stroke="#b8b8b8" stroke-width="1" stroke-dasharray="1.2 4"/>
<line x1="809.2" y1="1560.4" x2="1386.5" y2="1560.4" stroke="#b8b8b8" stroke-width="1" stroke-dasharray="1.2 4"/>
<rect x="829.34" y="1480.38" width="42.2" height="122.02" fill="#0081a7" stroke="#000" stroke-width="1.4"/>
<rect x="911.81" y="1406.54" width="42.2" height="195.86" fill="#00afb9" stroke="#000" stroke-width="1.4"/>
<rect x="994.28" y="1408.08" width="42.2" height="194.32" fill="#fdebb0" stroke="#000" stroke-width="1.4"/>
<rect x="1076.75" y="1398.85" width="42.2" height="203.55" fill="#fed9b7" stroke="#000" stroke-width="1.4"/>
<rect x="1159.22" y="1407.31" width="42.2" height="195.09" fill="#f4a9b8" stroke="#000" stroke-width="1.4"/>
<rect x="1241.69" y="1412.31" width="42.2" height="190.09" fill="#9d8189" stroke="#000" stroke-width="1.4"/>
<rect x="1324.16" y="1378.85" width="42.2" height="223.55" fill="#f07167" stroke="#000" stroke-width="1.4"/>
<text x="859.04" y="1602.8" font-size="23.6" transform="rotate(-90 859.04 1602.8)">0.5973</text>
<text x="941.51" y="1602.8" font-size="23.6" transform="rotate(-90 941.51 1602.8)">0.6870</text>
<text x="1023.98" y="1602.8" font-size="23.6" transform="rotate(-90 1023.98 1602.8)">0.6850</text>
<text x="1106.45" y="1602.8" font-size="23.6" transform="rotate(-90 1106.45 1602.8)">0.6963</text>
<text x="1188.92" y="1602.8" font-size="23.6" transform="rotate(-90 1188.92 1602.8)">0.6863</text>
<text x="1271.39" y="1602.8" font-size="23.6" transform="rotate(-90 1271.39 1602.8)">0.6800</text>
<text x="1353.86" y="1602.8" font-size="23.6" transform="rotate(-90 1353.86 1602.8)">0.7204</text>
<path d="M841.94 1437.31H858.94M850.44 1437.31V1522.69M841.94 1522.69H858.94" stroke="#111" stroke-width="1.3" fill="none"/>
<path d="M924.41 1344.23H941.41M932.91 1344.23V1469.23M924.41 1469.23H941.41" stroke="#111" stroke-width="1.3" fill="none"/>
<path d="M1006.88 1336.92H1023.88M1015.38 1336.92V1479.62M1006.88 1479.62H1023.88" stroke="#111" stroke-width="1.3" fill="none"/>
<path d="M1089.35 1335.77H1106.35M1097.85 1335.77V1461.54M1089.35 1461.54H1106.35" stroke="#111" stroke-width="1.3" fill="none"/>
<path d="M1171.82 1347.69H1188.82M1180.32 1347.69V1466.54M1171.82 1466.54H1188.82" stroke="#111" stroke-width="1.3" fill="none"/>
<path d="M1254.29 1341.15H1271.29M1262.79 1341.15V1482.69M1254.29 1482.69H1271.29" stroke="#111" stroke-width="1.3" fill="none"/>
<path d="M1336.76 1316.92H1353.76M1345.26 1316.92V1441.15M1336.76 1441.15H1353.76" stroke="#111" stroke-width="1.3" fill="none"/>
<path d="M850.38 1317.29L855.78 1322.69L850.38 1328.09L844.98 1322.69ZM850.38 1442.29L855.78 1447.69L850.38 1453.09L844.98 1447.69ZM857.31 1478.45L862.71 1483.85L857.31 1489.25L851.91 1483.85ZM843.08 1511.52L848.48 1516.92L843.08 1522.32L837.68 1516.92ZM864.23 1514.6L869.63 1520L864.23 1525.4L858.83 1520ZM850.38 1520.75L855.78 1526.15L850.38 1531.55L844.98 1526.15ZM836.15 1539.22L841.55 1544.62L836.15 1550.02L830.75 1544.62Z" fill="#9be7ff" fill-opacity="0.88"/>
<path d="M932.69 1256.14L938.09 1261.54L932.69 1266.94L927.29 1261.54ZM932.69 1283.83L938.09 1289.23L932.69 1294.63L927.29 1289.23ZM921.92 1360.75L927.32 1366.15L921.92 1371.55L916.52 1366.15ZM943.08 1384.22L948.48 1389.62L943.08 1395.02L937.68 1389.62ZM943.08 1479.6L948.48 1485L943.08 1490.4L937.68 1485ZM921.92 1500.37L927.32 1505.77L921.92 1511.17L916.52 1505.77ZM932.69 1541.52L938.09 1546.92L932.69 1552.32L927.29 1546.92Z" fill="#9be7ff" fill-opacity="0.88"/>
<path d="M1015.38 1219.98L1020.78 1225.38L1015.38 1230.78L1009.98 1225.38ZM1015.38 1280.37L1020.78 1285.77L1015.38 1291.17L1009.98 1285.77ZM1004.62 1362.29L1010.02 1367.69L1004.62 1373.09L999.22 1367.69ZM1025.77 1389.6L1031.17 1395L1025.77 1400.4L1020.37 1395ZM1015.38 1487.68L1020.78 1493.08L1015.38 1498.48L1009.98 1493.08ZM1025.77 1523.83L1031.17 1529.23L1025.77 1534.63L1020.37 1529.23ZM1004.62 1553.06L1010.02 1558.46L1004.62 1563.86L999.22 1558.46Z" fill="#fff0cf" fill-opacity="0.88"/>
<path d="M1097.69 1220.37L1103.09 1225.77L1097.69 1231.17L1092.29 1225.77ZM1097.69 1275.37L1103.09 1280.77L1097.69 1286.17L1092.29 1280.77ZM1097.69 1376.14L1103.09 1381.54L1097.69 1386.94L1092.29 1381.54ZM1097.69 1406.52L1103.09 1411.92L1097.69 1417.32L1092.29 1411.92ZM1097.69 1484.6L1103.09 1490L1097.69 1495.4L1092.29 1490ZM1111.54 1479.6L1116.94 1485L1111.54 1490.4L1106.14 1485ZM1083.46 1511.52L1088.86 1516.92L1083.46 1522.32L1078.06 1516.92Z" fill="#f6a55a" fill-opacity="0.88"/>
<path d="M1180 1244.6L1185.4 1250L1180 1255.4L1174.6 1250ZM1180 1313.83L1185.4 1319.23L1180 1324.63L1174.6 1319.23ZM1180 1368.06L1185.4 1373.46L1180 1378.86L1174.6 1373.46ZM1180 1391.14L1185.4 1396.54L1180 1401.94L1174.6 1396.54ZM1180 1442.29L1185.4 1447.69L1180 1453.09L1174.6 1447.69ZM1169.62 1520.75L1175.02 1526.15L1169.62 1531.55L1164.22 1526.15ZM1190.77 1529.6L1196.17 1535L1190.77 1540.4L1185.37 1535Z" fill="#fbd3da" fill-opacity="0.88"/>
<path d="M1262.69 1228.45L1268.09 1233.85L1262.69 1239.25L1257.29 1233.85ZM1262.69 1287.68L1268.09 1293.08L1262.69 1298.48L1257.29 1293.08ZM1251.92 1375.75L1257.32 1381.15L1251.92 1386.55L1246.52 1381.15ZM1273.08 1371.14L1278.48 1376.54L1273.08 1381.94L1267.68 1376.54ZM1262.69 1494.6L1268.09 1500L1262.69 1505.4L1257.29 1500ZM1273.08 1539.22L1278.48 1544.62L1273.08 1550.02L1267.68 1544.62ZM1251.92 1550.37L1257.32 1555.77L1251.92 1561.17L1246.52 1555.77Z" fill="#e2d6da" fill-opacity="0.88"/>
<path d="M1345 1200.75L1350.4 1206.15L1345 1211.55L1339.6 1206.15ZM1345 1273.06L1350.4 1278.46L1345 1283.86L1339.6 1278.46ZM1334.62 1351.14L1340.02 1356.54L1334.62 1361.94L1329.22 1356.54ZM1355.77 1365.37L1361.17 1370.77L1355.77 1376.17L1350.37 1370.77ZM1355.77 1456.14L1361.17 1461.54L1355.77 1466.94L1350.37 1461.54ZM1334.62 1469.22L1340.02 1474.62L1334.62 1480.02L1329.22 1474.62ZM1345 1499.98L1350.4 1505.38L1345 1510.78L1339.6 1505.38Z" fill="#fbc4c2" fill-opacity="0.88"/>
<rect x="809.2" y="1189.2" width="577.3" height="413.2" fill="none" stroke="#333" stroke-width="1.2"/>
<line x1="804.7" y1="1354.6" x2="809.2" y2="1354.6" stroke="#222" stroke-width="1.2"/>
<text x="789.3" y="1354.6" font-size="24" text-anchor="middle" transform="rotate(-90 789.3 1354.6)">0.75</text>
<line x1="804.7" y1="1560.4" x2="809.2" y2="1560.4" stroke="#222" stroke-width="1.2"/>
<text x="789.3" y="1560.4" font-size="24" text-anchor="middle" transform="rotate(-90 789.3 1560.4)">0.50</text>
<line x1="806.4" y1="1251.5" x2="809.2" y2="1251.5" stroke="#222" stroke-width="1"/>
<line x1="806.4" y1="1457.7" x2="809.2" y2="1457.7" stroke="#222" stroke-width="1"/>
<line x1="850.44" y1="1602.4" x2="850.44" y2="1609.4" stroke="#222" stroke-width="1.2"/>
<text x="859.44" y="1608" font-size="26" text-anchor="end" transform="rotate(-90 859.44 1608)">R50</text>
<line x1="932.91" y1="1602.4" x2="932.91" y2="1609.4" stroke="#222" stroke-width="1.2"/>
<text x="941.91" y="1608" font-size="26" text-anchor="end" transform="rotate(-90 941.91 1608)">PLIP</text>
<line x1="1015.38" y1="1602.4" x2="1015.38" y2="1609.4" stroke="#222" stroke-width="1.2"/>
<text x="1024.38" y="1608" font-size="26" text-anchor="end" transform="rotate(-90 1024.38 1608)">CONCH</text>
<line x1="1097.85" y1="1602.4" x2="1097.85" y2="1609.4" stroke="#222" stroke-width="1.2"/>
<text x="1106.85" y="1608" font-size="26" text-anchor="end" transform="rotate(-90 1106.85 1608)">UNI</text>
<line x1="1180.32" y1="1602.4" x2="1180.32" y2="1609.4" stroke="#222" stroke-width="1.2"/>
<text x="1189.32" y="1608" font-size="26" text-anchor="end" transform="rotate(-90 1189.32 1608)">CHIEF</text>
<line x1="1262.79" y1="1602.4" x2="1262.79" y2="1609.4" stroke="#222" stroke-width="1.2"/>
<text x="1271.79" y="1608" font-size="26" text-anchor="end" transform="rotate(-90 1271.79 1608)">GigaPath</text>
<line x1="1345.26" y1="1602.4" x2="1345.26" y2="1609.4" stroke="#222" stroke-width="1.2"/>
<text x="1354.26" y="1608" font-size="26" text-anchor="end" transform="rotate(-90 1354.26 1608)">mSTAR (Ours)</text>
<text x="757.5" y="1440" font-size="27.6" text-anchor="middle" transform="rotate(-90 757.5 1440)">Macro-AUC</text>
<text x="1082.7" y="1757.5" font-size="28.2" text-anchor="middle">Pathological Subtyping</text>
<text x="1082.7" y="1792" font-size="28.2" text-anchor="middle">(External)</text>
<path d="M1098.8 1189V1173.8H1346.2V1189" fill="none" stroke="#333" stroke-width="1.1"/>
<text x="1222.3" y="1178" font-size="26" text-anchor="middle">**</text>
<text x="702" y="1240.8" font-size="39" font-weight="bold">g</text>
</g>
<g id="p_h">
<text x="1754.8" y="1181" font-size="29.6" text-anchor="middle">Ground Truth</text>
<g transform="translate(1530 1190) scale(0.22637)">
<rect x="16" y="14" width="1792" height="1812" fill="#fcfbfc"/>
<path d="M20 540C15 520 46.67 483.33 60 480C73.33 476.67 96.67 483.33 100 520C103.33 556.67 75 636.67 80 700C85 763.33 110 841.67 130 900C150 958.33 196.67 1000 200 1050C203.33 1100 160 1141.67 150 1200C140 1258.33 131.67 1333.33 140 1400C148.33 1466.67 168.33 1540 200 1600C231.67 1660 263.33 1726.67 330 1760C396.67 1793.33 513.33 1795 600 1800C686.67 1805 766.67 1800 850 1790C933.33 1780 1016.67 1758.33 1100 1740C1183.33 1721.67 1273.33 1706.67 1350 1680C1426.67 1653.33 1501.67 1613.33 1560 1580C1618.33 1546.67 1663.33 1526.67 1700 1480C1736.67 1433.33 1767.5 1363.33 1780 1300C1792.5 1236.67 1788.33 1158.33 1775 1100C1761.67 1041.67 1729.17 986.67 1700 950C1670.83 913.33 1623.33 855 1600 880C1576.67 905 1543.33 1013.33 1560 1100C1576.67 1186.67 1693.33 1330 1700 1400C1706.67 1470 1650 1511.67 1600 1520C1550 1528.33 1458.33 1498.33 1400 1450C1341.67 1401.67 1300 1275 1250 1230C1200 1185 1141.67 1198.33 1100 1180C1058.33 1161.67 1050 1108.33 1000 1120C950 1131.67 865 1203.33 800 1250C735 1296.67 626.67 1358.33 610 1400C593.33 1441.67 618.33 1470 700 1500C781.67 1530 1083.33 1540 1100 1580C1116.67 1620 908.33 1713.33 800 1740C691.67 1766.67 541.67 1780 450 1740C358.33 1700 296.67 1581.67 250 1500C203.33 1418.33 145 1318.33 170 1250C195 1181.67 395 1143.33 400 1090C405 1036.67 251.67 1011.67 200 930C148.33 848.33 120 665 90 600C60 535 25 560 20 540Z" fill="#f1e9f0" filter="url(#b2)" opacity="0.9"/>
<path d="M20 540C15 520 46.67 483.33 60 480C73.33 476.67 96.67 483.33 100 520C103.33 556.67 75 636.67 80 700C85 763.33 110 841.67 130 900C150 958.33 196.67 1000 200 1050C203.33 1100 160 1141.67 150 1200C140 1258.33 131.67 1333.33 140 1400C148.33 1466.67 168.33 1540 200 1600C231.67 1660 263.33 1726.67 330 1760C396.67 1793.33 513.33 1795 600 1800C686.67 1805 766.67 1800 850 1790C933.33 1780 1016.67 1758.33 1100 1740C1183.33 1721.67 1273.33 1706.67 1350 1680C1426.67 1653.33 1501.67 1613.33 1560 1580C1618.33 1546.67 1663.33 1526.67 1700 1480C1736.67 1433.33 1767.5 1363.33 1780 1300C1792.5 1236.67 1788.33 1158.33 1775 1100C1761.67 1041.67 1729.17 986.67 1700 950C1670.83 913.33 1623.33 855 1600 880C1576.67 905 1543.33 1013.33 1560 1100C1576.67 1186.67 1693.33 1330 1700 1400C1706.67 1470 1650 1511.67 1600 1520C1550 1528.33 1458.33 1498.33 1400 1450C1341.67 1401.67 1300 1275 1250 1230C1200 1185 1141.67 1198.33 1100 1180C1058.33 1161.67 1050 1108.33 1000 1120C950 1131.67 865 1203.33 800 1250C735 1296.67 626.67 1358.33 610 1400C593.33 1441.67 618.33 1470 700 1500C781.67 1530 1083.33 1540 1100 1580C1116.67 1620 908.33 1713.33 800 1740C691.67 1766.67 541.67 1780 450 1740C358.33 1700 296.67 1581.67 250 1500C203.33 1418.33 145 1318.33 170 1250C195 1181.67 395 1143.33 400 1090C405 1036.67 251.67 1011.67 200 930C148.33 848.33 120 665 90 600C60 535 25 560 20 540Z" fill="#000" filter="url(#adi)" opacity="0.28"/>
<g filter="url(#wob2)">
<path d="M250 210C265.83 196.67 281.67 185 300 175C318.33 165 340 158.33 360 150C380 141.67 400 132 420 125C440 118 460 113.83 480 108C500 102.17 521.67 96 540 90C558.33 84 571.67 75.67 590 72C608.33 68.33 628.33 68 650 68C671.67 68 696.67 71.67 720 72C743.33 72.33 771.67 68.67 790 70C808.33 71.33 815 73.33 830 80C845 86.67 860 100.83 880 110C900 119.17 926.67 127.5 950 135C973.33 142.5 996.67 146.67 1020 155C1043.33 163.33 1066.67 175 1090 185C1113.33 195 1136.67 203.33 1160 215C1183.33 226.67 1208.33 240.83 1230 255C1251.67 269.17 1271.67 285 1290 300C1308.33 315 1324.17 329.17 1340 345C1355.83 360.83 1371.67 377.5 1385 395C1398.33 412.5 1408.33 430.83 1420 450C1431.67 469.17 1443.33 491.67 1455 510C1466.67 528.33 1480.83 541.67 1490 560C1499.17 578.33 1502.5 600 1510 620C1517.5 640 1527.5 660 1535 680C1542.5 700 1549.5 720 1555 740C1560.5 760 1565.17 780 1568 800C1570.83 820 1572 840 1572 860C1572 880 1569.67 900 1568 920C1566.33 940 1561.67 960 1562 980C1562.33 1000 1565.33 1021.67 1570 1040C1574.67 1058.33 1581.67 1075 1590 1090C1598.33 1105 1611.67 1115 1620 1130C1628.33 1145 1632.5 1163.33 1640 1180C1647.5 1196.67 1657.5 1211.67 1665 1230C1672.5 1248.33 1679.5 1270 1685 1290C1690.5 1310 1696.33 1330 1698 1350C1699.67 1370 1698.83 1391.67 1695 1410C1691.17 1428.33 1684.17 1446.67 1675 1460C1665.83 1473.33 1654.17 1482.5 1640 1490C1625.83 1497.5 1606.67 1503.33 1590 1505C1573.33 1506.67 1556.67 1502.5 1540 1500C1523.33 1497.5 1505.83 1495.83 1490 1490C1474.17 1484.17 1458.33 1475 1445 1465C1431.67 1455 1420 1441.67 1410 1430C1400 1418.33 1393.33 1406.67 1385 1395C1376.67 1383.33 1368.33 1371.67 1360 1360C1351.67 1348.33 1345 1336.67 1335 1325C1325 1313.33 1310.83 1302.5 1300 1290C1289.17 1277.5 1280.83 1262.5 1270 1250C1259.17 1237.5 1247.5 1225 1235 1215C1222.5 1205 1209.17 1196.67 1195 1190C1180.83 1183.33 1165 1179.17 1150 1175C1135 1170.83 1120 1170 1105 1165C1090 1160 1074.17 1153.33 1060 1145C1045.83 1136.67 1032.5 1121.67 1020 1115C1007.5 1108.33 996.67 1103.33 985 1105C973.33 1106.67 962.5 1117.5 950 1125C937.5 1132.5 923.33 1140.83 910 1150C896.67 1159.17 883.33 1170 870 1180C856.67 1190 843.33 1199.17 830 1210C816.67 1220.83 804.17 1234.17 790 1245C775.83 1255.83 760 1265.83 745 1275C730 1284.17 715 1291.67 700 1300C685 1308.33 668.33 1316.67 655 1325C641.67 1333.33 629.17 1339.17 620 1350C610.83 1360.83 602.5 1376.67 600 1390C597.5 1403.33 600.83 1416.67 605 1430C609.17 1443.33 615 1459.17 625 1470C635 1480.83 649.17 1490 665 1495C680.83 1500 700.83 1500.83 720 1500C739.17 1499.17 761.67 1490.83 780 1490C798.33 1489.17 815 1490 830 1495C845 1500 855 1512.5 870 1520C885 1527.5 903.33 1533.33 920 1540C936.67 1546.67 953.33 1555 970 1560C986.67 1565 1002.5 1570 1020 1570C1037.5 1570 1060.83 1558.33 1075 1560C1089.17 1561.67 1104.17 1572.5 1105 1580C1105.83 1587.5 1092.5 1599.17 1080 1605C1067.5 1610.83 1048.33 1610.83 1030 1615C1011.67 1619.17 990 1624.17 970 1630C950 1635.83 928.33 1641.67 910 1650C891.67 1658.33 875.83 1669.17 860 1680C844.17 1690.83 830 1703.33 815 1715C800 1726.67 785.83 1740.83 770 1750C754.17 1759.17 738.33 1765 720 1770C701.67 1775 680 1778.67 660 1780C640 1781.33 620 1780 600 1778C580 1776 560 1772.67 540 1768C520 1763.33 498.33 1757.17 480 1750C461.67 1742.83 446.67 1735 430 1725C413.33 1715 395.83 1702.5 380 1690C364.17 1677.5 348.33 1664.17 335 1650C321.67 1635.83 310 1620 300 1605C290 1590 282.5 1575.83 275 1560C267.5 1544.17 260.83 1526.67 255 1510C249.17 1493.33 245.83 1476.67 240 1460C234.17 1443.33 227.5 1426.67 220 1410C212.5 1393.33 202.5 1376.67 195 1360C187.5 1343.33 180 1326.67 175 1310C170 1293.33 164.17 1275.83 165 1260C165.83 1244.17 171.67 1228.33 180 1215C188.33 1201.67 201.67 1190.83 215 1180C228.33 1169.17 244.17 1160 260 1150C275.83 1140 293.33 1128.33 310 1120C326.67 1111.67 344.17 1105.33 360 1100C375.83 1094.67 403.33 1093 405 1088C406.67 1083 384.17 1077.17 370 1070C355.83 1062.83 335.83 1055 320 1045C304.17 1035 289.17 1022.5 275 1010C260.83 997.5 247.5 984.17 235 970C222.5 955.83 210.83 940.83 200 925C189.17 909.17 178.33 892.5 170 875C161.67 857.5 156.67 838.33 150 820C143.33 801.67 136.67 783.33 130 765C123.33 746.67 115.33 729.17 110 710C104.67 690.83 100.5 670 98 650C95.5 630 94.67 610 95 590C95.33 570 96.67 550 100 530C103.33 510 109.17 489.17 115 470C120.83 450.83 128.33 433.33 135 415C141.67 396.67 148.33 378.33 155 360C161.67 341.67 166.67 322.5 175 305C183.33 287.5 192.5 270.83 205 255C217.5 239.17 234.17 223.33 250 210Z" fill="#9b6c9f" stroke="#b392b6" stroke-width="5"/>
<g clip-path="url(#tis)">
<ellipse cx="520" cy="330" rx="230" ry="160" fill="#85588c" opacity="0.5" filter="url(#b3)"/>
<ellipse cx="1000" cy="520" rx="260" ry="170" fill="#85588c" opacity="0.5" filter="url(#b3)"/>
<ellipse cx="1330" cy="780" rx="150" ry="230" fill="#85588c" opacity="0.5" filter="url(#b3)"/>
<ellipse cx="1480" cy="1250" rx="170" ry="170" fill="#85588c" opacity="0.5" filter="url(#b3)"/>
<ellipse cx="420" cy="900" rx="200" ry="140" fill="#85588c" opacity="0.5" filter="url(#b3)"/>
<ellipse cx="500" cy="1550" rx="200" ry="170" fill="#85588c" opacity="0.5" filter="url(#b3)"/>
<ellipse cx="800" cy="1620" rx="150" ry="100" fill="#85588c" opacity="0.5" filter="url(#b3)"/>
<ellipse cx="330" cy="1330" rx="110" ry="120" fill="#85588c" opacity="0.5" filter="url(#b3)"/>
<ellipse cx="1150" cy="1050" rx="150" ry="80" fill="#85588c" opacity="0.5" filter="url(#b3)"/>
<ellipse cx="310" cy="570" rx="170" ry="80" fill="#dcbedc" opacity="0.55" filter="url(#b3)"/>
<ellipse cx="1080" cy="270" rx="260" ry="60" fill="#dcbedc" opacity="0.5" filter="url(#b3)"/>
<ellipse cx="700" cy="420" rx="70" ry="260" fill="#dcbedc" opacity="0.3" filter="url(#b3)"/>
<ellipse cx="560" cy="1050" rx="200" ry="60" fill="#dcbedc" opacity="0.25" filter="url(#b3)"/>
<ellipse cx="1500" cy="1420" rx="150" ry="70" fill="#dcbedc" opacity="0.3" filter="url(#b3)"/>
<ellipse cx="420" cy="1480" rx="120" ry="200" fill="#dcbedc" opacity="0.22" filter="url(#b3)"/>
<ellipse cx="980" cy="1230" rx="50" ry="120" fill="#dcbedc" opacity="0.5" filter="url(#b3)"/>
<ellipse cx="1480" cy="700" rx="40" ry="150" fill="#dcbedc" opacity="0.35" filter="url(#b3)"/>
<rect x="80" y="50" width="1650" height="1750" fill="#000" filter="url(#mot)" opacity="0.2"/>
<rect x="80" y="50" width="1650" height="1750" fill="#000" filter="url(#motd)" opacity="0.28"/>
<path d="M800 100L1000 160L1200 250L1340 360L1350 450L1200 360L1000 290L850 240Z" fill="#c9a3c9" opacity="0.6" filter="url(#b2)"/>
<path d="M1400 560L1480 600L1550 800L1540 1000L1490 950L1500 800L1440 660Z" fill="#c9a3c9" opacity="0.55" filter="url(#b2)"/>
<path d="M640 90L600 250" stroke="#4d2c5a" stroke-width="3" fill="none" opacity="0.75"/>
<path d="M510 120L520 260" stroke="#4d2c5a" stroke-width="3" fill="none" opacity="0.75"/>
<path d="M420 150L425 230" stroke="#4d2c5a" stroke-width="3" fill="none" opacity="0.75"/>
<path d="M1010 350L965 400" stroke="#4d2c5a" stroke-width="3" fill="none" opacity="0.75"/>
<path d="M1165 385L1100 540" stroke="#4d2c5a" stroke-width="3" fill="none" opacity="0.75"/>
<path d="M1275 400L1170 570" stroke="#4d2c5a" stroke-width="3" fill="none" opacity="0.75"/>
<path d="M1345 570L1150 740" stroke="#4d2c5a" stroke-width="3" fill="none" opacity="0.75"/>
<path d="M1470 770L1330 960L1270 1010" stroke="#4d2c5a" stroke-width="3" fill="none" opacity="0.75"/>
<path d="M1500 880L1330 930" stroke="#4d2c5a" stroke-width="3" fill="none" opacity="0.75"/>
<path d="M1380 960L1250 1150" stroke="#4d2c5a" stroke-width="3" fill="none" opacity="0.75"/>
<path d="M1435 1010L1390 1130" stroke="#4d2c5a" stroke-width="3" fill="none" opacity="0.75"/>
<path d="M1600 1120L1540 1170" stroke="#4d2c5a" stroke-width="3" fill="none" opacity="0.75"/>
<path d="M320 1060L500 1075" stroke="#4d2c5a" stroke-width="3" fill="none" opacity="0.75"/>
<path d="M370 1290L620 1340" stroke="#4d2c5a" stroke-width="3" fill="none" opacity="0.75"/>
<path d="M540 730L640 770" stroke="#4d2c5a" stroke-width="3" fill="none" opacity="0.75"/>
<path d="M160 390L200 420" stroke="#4d2c5a" stroke-width="3" fill="none" opacity="0.75"/>
<path d="M1290 905L1370 935L1440 915M1350 890L1390 960" stroke="#3a1d45" stroke-width="7" fill="none" opacity="0.8"/>
<path d="M330 1062Q420 1100 500 1072" stroke="#3f2249" stroke-width="8" fill="none" opacity="0.8"/>
</g>
</g>
<path d="M770 820C779.17 818.33 808.33 840 830 850C851.67 860 878.33 873.33 900 880C921.67 886.67 940.83 890.83 960 890C979.17 889.17 1002.5 870 1015 875C1027.5 880 1033.33 903.33 1035 920C1036.67 936.67 1033.33 960 1025 975C1016.67 990 1000 1005.83 985 1010C970 1014.17 950.83 1004.17 935 1000C919.17 995.83 904.17 994.17 890 985C875.83 975.83 863.33 959.17 850 945C836.67 930.83 822.5 914.17 810 900C797.5 885.83 781.67 873.33 775 860C768.33 846.67 760.83 821.67 770 820Z" fill="#f6f1f5" filter="url(#b1)"/>
<path d="M690 585C697.5 588.33 711.67 602.5 725 620C738.33 637.5 755 666.67 770 690C785 713.33 800.83 739.17 815 760C829.17 780.83 851.67 803.33 855 815C858.33 826.67 845.83 836.67 835 830C824.17 823.33 805 795.83 790 775C775 754.17 759.17 727.5 745 705C730.83 682.5 715.83 657.5 705 640C694.17 622.5 682.5 609.17 680 600C677.5 590.83 682.5 581.67 690 585Z" fill="#efe3ee" opacity="0.85" filter="url(#b1)"/>
<path d="M1250 830C1264.17 823.33 1287.5 816.67 1300 820C1312.5 823.33 1325 838.33 1325 850C1325 861.67 1310.83 881.67 1300 890C1289.17 898.33 1273.33 900 1260 900C1246.67 900 1227.5 896.67 1220 890C1212.5 883.33 1210 870 1215 860C1220 850 1235.83 836.67 1250 830Z" fill="#f3ecf3" opacity="0.9" filter="url(#b1)"/>
<path d="M930 1130L990 1110L1010 1300L1180 1400L1230 1520L1150 1500L1120 1420L960 1320Z" fill="#c9afcc" opacity="0.7" filter="url(#b1)"/>
<g fill="#f4edf3" opacity="0.8"><circle cx="200" cy="540" r="14"/><circle cx="250" cy="575" r="11"/><circle cx="300" cy="540" r="9"/><circle cx="340" cy="600" r="12"/><circle cx="400" cy="560" r="8"/><circle cx="230" cy="620" r="9"/><circle cx="440" cy="620" r="9"/><circle cx="490" cy="840" r="12"/><circle cx="420" cy="790" r="7"/><circle cx="1150" cy="890" r="9"/><circle cx="1100" cy="760" r="7"/><circle cx="720" cy="1010" r="8"/><circle cx="540" cy="1730" r="8"/><circle cx="760" cy="1600" r="7"/><circle cx="480" cy="1500" r="7"/></g>
<path d="M730 78C739.17 74 756.33 69 770 68C783.67 67 801.67 67.33 812 72C822.33 76.67 822.33 86.67 832 96C841.67 105.33 853.67 119 870 128C886.33 137 908.33 142.67 930 150C951.67 157.33 978.33 164.33 1000 172C1021.67 179.67 1040 187.67 1060 196C1080 204.33 1100 212.67 1120 222C1140 231.33 1160 241 1180 252C1200 263 1220.83 275.83 1240 288C1259.17 300.17 1278.33 312.17 1295 325C1311.67 337.83 1328.83 350.83 1340 365C1351.17 379.17 1359 396.17 1362 410C1365 423.83 1362.5 438.67 1358 448C1353.5 457.33 1343.83 464.83 1335 466C1326.17 467.17 1310.83 461.83 1305 455C1299.17 448.17 1297.83 434.17 1300 425C1302.17 415.83 1319.67 408.83 1318 400C1316.33 391.17 1301.33 380 1290 372C1278.67 364 1260.83 357.33 1250 352C1239.17 346.67 1234.17 340 1225 340C1215.83 340 1205 354 1195 352C1185 350 1175 330.83 1165 328C1155 325.17 1145.83 337.67 1135 335C1124.17 332.33 1110 314.17 1100 312C1090 309.83 1083.33 325.33 1075 322C1066.67 318.67 1059.17 295.67 1050 292C1040.83 288.33 1029.17 297.83 1020 300C1010.83 302.17 1003.33 308.67 995 305C986.67 301.33 979.17 281.33 970 278C960.83 274.67 949.17 288.83 940 285C930.83 281.17 924.17 258.83 915 255C905.83 251.17 895.83 261.5 885 262C874.17 262.5 860 261.67 850 258C840 254.33 833.33 247.17 825 240C816.67 232.83 809.17 220.83 800 215C790.83 209.17 778 211.67 770 205C762 198.33 752.83 184.17 752 175C751.17 165.83 766.67 157.5 765 150C763.33 142.5 749.5 136.33 742 130C734.5 123.67 724.5 118.33 720 112C715.5 105.67 713.33 97.67 715 92C716.67 86.33 720.83 82 730 78Z" fill="none" stroke="#ff0000" stroke-width="18" stroke-linejoin="round"/>
<path d="M740 105Q790 85 800 120M770 180L800 210M880 250L870 280M1010 300L990 320M1200 350L1210 320M1320 400L1340 420" stroke="#ff0000" stroke-width="13" fill="none" stroke-linecap="round"/>
<ellipse cx="680" cy="270" rx="13" ry="20" fill="none" stroke="#ff0000" stroke-width="11"/>
<path d="M735 275L765 270L760 305L735 318Z" fill="#ff0000" stroke="#ff0000" stroke-width="8" stroke-linejoin="round"/>
<ellipse cx="998" cy="408" rx="26" ry="32" fill="none" stroke="#ff0000" stroke-width="13"/>
<circle cx="1006" cy="356" r="11" fill="#ff0000"/><circle cx="1210" cy="376" r="11" fill="#ff0000"/>
<path d="M1400 585C1403.83 574.5 1415.83 564.17 1425 562C1434.17 559.83 1447.5 564 1455 572C1462.5 580 1463.83 596.17 1470 610C1476.17 623.83 1482.83 640 1492 655C1501.17 670 1517 682.5 1525 700C1533 717.5 1536.17 738.33 1540 760C1543.83 781.67 1548 806.67 1548 830C1548 853.33 1543 880 1540 900C1537 920 1529.17 935.83 1530 950C1530.83 964.17 1539.67 975.83 1545 985C1550.33 994.17 1558.67 992.83 1562 1005C1565.33 1017.17 1570.33 1050.5 1565 1058C1559.67 1065.5 1538.83 1056.33 1530 1050C1521.17 1043.67 1517.83 1030.83 1512 1020C1506.17 1009.17 1500 998.33 1495 985C1490 971.67 1482.83 957.5 1482 940C1481.17 922.5 1487.33 900 1490 880C1492.67 860 1499.33 839.17 1498 820C1496.67 800.83 1488 782.5 1482 765C1476 747.5 1469 729.17 1462 715C1455 700.83 1446.17 690.83 1440 680C1433.83 669.17 1431.33 659.17 1425 650C1418.67 640.83 1406.17 635.83 1402 625C1397.83 614.17 1396.17 595.5 1400 585Z" fill="none" stroke="#ff0000" stroke-width="18" stroke-linejoin="round"/>
<rect x="1420" y="830" width="26" height="26" fill="#ff0000"/><path d="M1478 830L1530 825L1535 890L1500 900L1480 880Z" fill="#ff0000"/><path d="M1440 650L1470 660L1465 700L1445 690Z" fill="#ff0000"/><path d="M1480 935L1530 935L1520 975L1490 980Z" fill="#ff0000"/><path d="M1530 1010L1565 1005L1565 1058L1535 1055Z" fill="#ff0000"/>
<rect x="812" y="100" width="14" height="14" fill="#ffff45" stroke="#c7a800" stroke-width="2"/>
<rect x="828" y="88" width="14" height="14" fill="#ffff45" stroke="#c7a800" stroke-width="2"/>
<rect x="844" y="88" width="14" height="14" fill="#ffff45" stroke="#c7a800" stroke-width="2"/>
<rect x="812" y="116" width="14" height="14" fill="#ffff45" stroke="#c7a800" stroke-width="2"/>
<rect x="828" y="104" width="14" height="14" fill="#ffff45" stroke="#c7a800" stroke-width="2"/>
<rect x="844" y="104" width="14" height="14" fill="#ffff45" stroke="#c7a800" stroke-width="2"/>
<rect x="860" y="104" width="14" height="14" fill="#ffff45" stroke="#c7a800" stroke-width="2"/>
<rect x="828" y="120" width="14" height="14" fill="#ffff45" stroke="#c7a800" stroke-width="2"/>
<rect x="844" y="120" width="14" height="14" fill="#ffff45" stroke="#c7a800" stroke-width="2"/>
<rect x="860" y="120" width="14" height="14" fill="#ffff45" stroke="#c7a800" stroke-width="2"/>
<rect x="812" y="130" width="14" height="14" fill="#ffff45" stroke="#c7a800" stroke-width="2"/>
<rect x="860" y="130" width="14" height="14" fill="#ffff45" stroke="#c7a800" stroke-width="2"/>
<rect x="1455" y="985" width="14" height="14" fill="#ffff45" stroke="#c7a800" stroke-width="2"/>
<rect x="1470" y="985" width="14" height="14" fill="#ffff45" stroke="#c7a800" stroke-width="2"/>
<rect x="1455" y="1000" width="14" height="14" fill="#ffff45" stroke="#c7a800" stroke-width="2"/>
<rect x="1470" y="1000" width="14" height="14" fill="#ffff45" stroke="#c7a800" stroke-width="2"/>
<rect x="60" y="1748" width="190" height="12" fill="#000"/>
<text x="150" y="1795" font-size="20" font-weight="bold" text-anchor="middle">400 µm</text>
</g>
<rect x="1534.4" y="1193.7" width="402.9" height="409.7" fill="none" stroke="#000" stroke-width="2.7"/>
<text x="1750.6" y="1647.8" font-size="29.6" text-anchor="middle">Prediction</text>
<g transform="translate(1530 1658) scale(0.22637)">
<rect x="16" y="14" width="1792" height="1760" fill="#fcfbfc"/>
<g transform="translate(48 -12.7) scale(0.967)">
<path d="M20 540C15 520 46.67 483.33 60 480C73.33 476.67 96.67 483.33 100 520C103.33 556.67 75 636.67 80 700C85 763.33 110 841.67 130 900C150 958.33 196.67 1000 200 1050C203.33 1100 160 1141.67 150 1200C140 1258.33 131.67 1333.33 140 1400C148.33 1466.67 168.33 1540 200 1600C231.67 1660 263.33 1726.67 330 1760C396.67 1793.33 513.33 1795 600 1800C686.67 1805 766.67 1800 850 1790C933.33 1780 1016.67 1758.33 1100 1740C1183.33 1721.67 1273.33 1706.67 1350 1680C1426.67 1653.33 1501.67 1613.33 1560 1580C1618.33 1546.67 1663.33 1526.67 1700 1480C1736.67 1433.33 1767.5 1363.33 1780 1300C1792.5 1236.67 1788.33 1158.33 1775 1100C1761.67 1041.67 1729.17 986.67 1700 950C1670.83 913.33 1623.33 855 1600 880C1576.67 905 1543.33 1013.33 1560 1100C1576.67 1186.67 1693.33 1330 1700 1400C1706.67 1470 1650 1511.67 1600 1520C1550 1528.33 1458.33 1498.33 1400 1450C1341.67 1401.67 1300 1275 1250 1230C1200 1185 1141.67 1198.33 1100 1180C1058.33 1161.67 1050 1108.33 1000 1120C950 1131.67 865 1203.33 800 1250C735 1296.67 626.67 1358.33 610 1400C593.33 1441.67 618.33 1470 700 1500C781.67 1530 1083.33 1540 1100 1580C1116.67 1620 908.33 1713.33 800 1740C691.67 1766.67 541.67 1780 450 1740C358.33 1700 296.67 1581.67 250 1500C203.33 1418.33 145 1318.33 170 1250C195 1181.67 395 1143.33 400 1090C405 1036.67 251.67 1011.67 200 930C148.33 848.33 120 665 90 600C60 535 25 560 20 540Z" fill="#f1e9f0" filter="url(#b2)" opacity="0.9"/>
<path d="M20 540C15 520 46.67 483.33 60 480C73.33 476.67 96.67 483.33 100 520C103.33 556.67 75 636.67 80 700C85 763.33 110 841.67 130 900C150 958.33 196.67 1000 200 1050C203.33 1100 160 1141.67 150 1200C140 1258.33 131.67 1333.33 140 1400C148.33 1466.67 168.33 1540 200 1600C231.67 1660 263.33 1726.67 330 1760C396.67 1793.33 513.33 1795 600 1800C686.67 1805 766.67 1800 850 1790C933.33 1780 1016.67 1758.33 1100 1740C1183.33 1721.67 1273.33 1706.67 1350 1680C1426.67 1653.33 1501.67 1613.33 1560 1580C1618.33 1546.67 1663.33 1526.67 1700 1480C1736.67 1433.33 1767.5 1363.33 1780 1300C1792.5 1236.67 1788.33 1158.33 1775 1100C1761.67 1041.67 1729.17 986.67 1700 950C1670.83 913.33 1623.33 855 1600 880C1576.67 905 1543.33 1013.33 1560 1100C1576.67 1186.67 1693.33 1330 1700 1400C1706.67 1470 1650 1511.67 1600 1520C1550 1528.33 1458.33 1498.33 1400 1450C1341.67 1401.67 1300 1275 1250 1230C1200 1185 1141.67 1198.33 1100 1180C1058.33 1161.67 1050 1108.33 1000 1120C950 1131.67 865 1203.33 800 1250C735 1296.67 626.67 1358.33 610 1400C593.33 1441.67 618.33 1470 700 1500C781.67 1530 1083.33 1540 1100 1580C1116.67 1620 908.33 1713.33 800 1740C691.67 1766.67 541.67 1780 450 1740C358.33 1700 296.67 1581.67 250 1500C203.33 1418.33 145 1318.33 170 1250C195 1181.67 395 1143.33 400 1090C405 1036.67 251.67 1011.67 200 930C148.33 848.33 120 665 90 600C60 535 25 560 20 540Z" fill="#000" filter="url(#adi)" opacity="0.28"/>
<path d="M250 210C265.83 196.67 281.67 185 300 175C318.33 165 340 158.33 360 150C380 141.67 400 132 420 125C440 118 460 113.83 480 108C500 102.17 521.67 96 540 90C558.33 84 571.67 75.67 590 72C608.33 68.33 628.33 68 650 68C671.67 68 696.67 71.67 720 72C743.33 72.33 771.67 68.67 790 70C808.33 71.33 815 73.33 830 80C845 86.67 860 100.83 880 110C900 119.17 926.67 127.5 950 135C973.33 142.5 996.67 146.67 1020 155C1043.33 163.33 1066.67 175 1090 185C1113.33 195 1136.67 203.33 1160 215C1183.33 226.67 1208.33 240.83 1230 255C1251.67 269.17 1271.67 285 1290 300C1308.33 315 1324.17 329.17 1340 345C1355.83 360.83 1371.67 377.5 1385 395C1398.33 412.5 1408.33 430.83 1420 450C1431.67 469.17 1443.33 491.67 1455 510C1466.67 528.33 1480.83 541.67 1490 560C1499.17 578.33 1502.5 600 1510 620C1517.5 640 1527.5 660 1535 680C1542.5 700 1549.5 720 1555 740C1560.5 760 1565.17 780 1568 800C1570.83 820 1572 840 1572 860C1572 880 1569.67 900 1568 920C1566.33 940 1561.67 960 1562 980C1562.33 1000 1565.33 1021.67 1570 1040C1574.67 1058.33 1581.67 1075 1590 1090C1598.33 1105 1611.67 1115 1620 1130C1628.33 1145 1632.5 1163.33 1640 1180C1647.5 1196.67 1657.5 1211.67 1665 1230C1672.5 1248.33 1679.5 1270 1685 1290C1690.5 1310 1696.33 1330 1698 1350C1699.67 1370 1698.83 1391.67 1695 1410C1691.17 1428.33 1684.17 1446.67 1675 1460C1665.83 1473.33 1654.17 1482.5 1640 1490C1625.83 1497.5 1606.67 1503.33 1590 1505C1573.33 1506.67 1556.67 1502.5 1540 1500C1523.33 1497.5 1505.83 1495.83 1490 1490C1474.17 1484.17 1458.33 1475 1445 1465C1431.67 1455 1420 1441.67 1410 1430C1400 1418.33 1393.33 1406.67 1385 1395C1376.67 1383.33 1368.33 1371.67 1360 1360C1351.67 1348.33 1345 1336.67 1335 1325C1325 1313.33 1310.83 1302.5 1300 1290C1289.17 1277.5 1280.83 1262.5 1270 1250C1259.17 1237.5 1247.5 1225 1235 1215C1222.5 1205 1209.17 1196.67 1195 1190C1180.83 1183.33 1165 1179.17 1150 1175C1135 1170.83 1120 1170 1105 1165C1090 1160 1074.17 1153.33 1060 1145C1045.83 1136.67 1032.5 1121.67 1020 1115C1007.5 1108.33 996.67 1103.33 985 1105C973.33 1106.67 962.5 1117.5 950 1125C937.5 1132.5 923.33 1140.83 910 1150C896.67 1159.17 883.33 1170 870 1180C856.67 1190 843.33 1199.17 830 1210C816.67 1220.83 804.17 1234.17 790 1245C775.83 1255.83 760 1265.83 745 1275C730 1284.17 715 1291.67 700 1300C685 1308.33 668.33 1316.67 655 1325C641.67 1333.33 629.17 1339.17 620 1350C610.83 1360.83 602.5 1376.67 600 1390C597.5 1403.33 600.83 1416.67 605 1430C609.17 1443.33 615 1459.17 625 1470C635 1480.83 649.17 1490 665 1495C680.83 1500 700.83 1500.83 720 1500C739.17 1499.17 761.67 1490.83 780 1490C798.33 1489.17 815 1490 830 1495C845 1500 855 1512.5 870 1520C885 1527.5 903.33 1533.33 920 1540C936.67 1546.67 953.33 1555 970 1560C986.67 1565 1002.5 1570 1020 1570C1037.5 1570 1060.83 1558.33 1075 1560C1089.17 1561.67 1104.17 1572.5 1105 1580C1105.83 1587.5 1092.5 1599.17 1080 1605C1067.5 1610.83 1048.33 1610.83 1030 1615C1011.67 1619.17 990 1624.17 970 1630C950 1635.83 928.33 1641.67 910 1650C891.67 1658.33 875.83 1669.17 860 1680C844.17 1690.83 830 1703.33 815 1715C800 1726.67 785.83 1740.83 770 1750C754.17 1759.17 738.33 1765 720 1770C701.67 1775 680 1778.67 660 1780C640 1781.33 620 1780 600 1778C580 1776 560 1772.67 540 1768C520 1763.33 498.33 1757.17 480 1750C461.67 1742.83 446.67 1735 430 1725C413.33 1715 395.83 1702.5 380 1690C364.17 1677.5 348.33 1664.17 335 1650C321.67 1635.83 310 1620 300 1605C290 1590 282.5 1575.83 275 1560C267.5 1544.17 260.83 1526.67 255 1510C249.17 1493.33 245.83 1476.67 240 1460C234.17 1443.33 227.5 1426.67 220 1410C212.5 1393.33 202.5 1376.67 195 1360C187.5 1343.33 180 1326.67 175 1310C170 1293.33 164.17 1275.83 165 1260C165.83 1244.17 171.67 1228.33 180 1215C188.33 1201.67 201.67 1190.83 215 1180C228.33 1169.17 244.17 1160 260 1150C275.83 1140 293.33 1128.33 310 1120C326.67 1111.67 344.17 1105.33 360 1100C375.83 1094.67 403.33 1093 405 1088C406.67 1083 384.17 1077.17 370 1070C355.83 1062.83 335.83 1055 320 1045C304.17 1035 289.17 1022.5 275 1010C260.83 997.5 247.5 984.17 235 970C222.5 955.83 210.83 940.83 200 925C189.17 909.17 178.33 892.5 170 875C161.67 857.5 156.67 838.33 150 820C143.33 801.67 136.67 783.33 130 765C123.33 746.67 115.33 729.17 110 710C104.67 690.83 100.5 670 98 650C95.5 630 94.67 610 95 590C95.33 570 96.67 550 100 530C103.33 510 109.17 489.17 115 470C120.83 450.83 128.33 433.33 135 415C141.67 396.67 148.33 378.33 155 360C161.67 341.67 166.67 322.5 175 305C183.33 287.5 192.5 270.83 205 255C217.5 239.17 234.17 223.33 250 210Z" fill="#86b3a6" stroke="#e8a070" stroke-width="9"/>
</g>
<g transform="translate(48 -12.7) scale(0.967)" clip-path="url(#tis)"><g transform="scale(1.03413) translate(-48 12.7)">
<g filter="url(#wob)">
<ellipse cx="520" cy="600" rx="170" ry="120" fill="#5aa9c2" opacity="0.75" filter="url(#b3)"/>
<ellipse cx="650" cy="1150" rx="220" ry="90" fill="#5aa9c2" opacity="0.75" filter="url(#b3)"/>
<ellipse cx="700" cy="850" rx="140" ry="70" fill="#5aa9c2" opacity="0.75" filter="url(#b3)"/>
<ellipse cx="1500" cy="1230" rx="150" ry="70" fill="#5aa9c2" opacity="0.75" filter="url(#b3)"/>
<ellipse cx="1150" cy="560" rx="80" ry="60" fill="#5aa9c2" opacity="0.75" filter="url(#b3)"/>
<ellipse cx="400" cy="450" rx="120" ry="80" fill="#5aa9c2" opacity="0.75" filter="url(#b3)"/>
<ellipse cx="900" cy="700" rx="90" ry="60" fill="#5aa9c2" opacity="0.75" filter="url(#b3)"/>
<ellipse cx="1200" cy="1150" rx="120" ry="50" fill="#5aa9c2" opacity="0.75" filter="url(#b3)"/>
<ellipse cx="600" cy="1350" rx="90" ry="120" fill="#5aa9c2" opacity="0.75" filter="url(#b3)"/>
<ellipse cx="820" cy="1480" rx="100" ry="60" fill="#5aa9c2" opacity="0.75" filter="url(#b3)"/>
<ellipse cx="450" cy="1350" rx="230" ry="150" fill="#eaa052" opacity="0.85" filter="url(#b3)"/>
<ellipse cx="600" cy="1610" rx="320" ry="120" fill="#eaa052" opacity="0.85" filter="url(#b3)"/>
<ellipse cx="950" cy="1560" rx="160" ry="55" fill="#eaa052" opacity="0.85" filter="url(#b3)"/>
<ellipse cx="330" cy="1180" rx="130" ry="75" fill="#eaa052" opacity="0.85" filter="url(#b3)"/>
<ellipse cx="300" cy="620" rx="140" ry="60" fill="#eaa052" opacity="0.85" filter="url(#b3)"/>
<ellipse cx="215" cy="800" rx="60" ry="110" fill="#eaa052" opacity="0.85" filter="url(#b3)"/>
<ellipse cx="1500" cy="1350" rx="180" ry="80" fill="#eaa052" opacity="0.85" filter="url(#b3)"/>
<ellipse cx="1130" cy="760" rx="40" ry="110" fill="#eaa052" opacity="0.85" filter="url(#b3)"/>
<ellipse cx="330" cy="1500" rx="80" ry="150" fill="#eaa052" opacity="0.85" filter="url(#b3)"/>
<ellipse cx="760" cy="1380" rx="80" ry="90" fill="#eaa052" opacity="0.85" filter="url(#b3)"/>
<ellipse cx="1620" cy="1300" rx="60" ry="110" fill="#eaa052" opacity="0.85" filter="url(#b3)"/>
<ellipse cx="200" cy="560" rx="60" ry="70" fill="#eaa052" opacity="0.85" filter="url(#b3)"/>
<ellipse cx="420" cy="700" rx="90" ry="50" fill="#d9c765" opacity="0.8" filter="url(#b2)"/>
<ellipse cx="560" cy="520" rx="70" ry="50" fill="#d9c765" opacity="0.8" filter="url(#b2)"/>
<ellipse cx="520" cy="1500" rx="120" ry="70" fill="#d9c765" opacity="0.8" filter="url(#b2)"/>
<ellipse cx="700" cy="1700" rx="140" ry="40" fill="#d9c765" opacity="0.8" filter="url(#b2)"/>
<ellipse cx="1420" cy="1300" rx="80" ry="40" fill="#d9c765" opacity="0.8" filter="url(#b2)"/>
<ellipse cx="880" cy="1100" rx="60" ry="40" fill="#d9c765" opacity="0.8" filter="url(#b2)"/>
<ellipse cx="330" cy="1050" rx="70" ry="30" fill="#d9c765" opacity="0.8" filter="url(#b2)"/>
<ellipse cx="610" cy="400" rx="55" ry="130" fill="#ec7a4e" opacity="0.9" filter="url(#b2)" transform="rotate(-28 610 400)"/>
<ellipse cx="750" cy="640" rx="50" ry="140" fill="#ec7a4e" opacity="0.9" filter="url(#b2)" transform="rotate(-30 750 640)"/>
<ellipse cx="900" cy="880" rx="60" ry="130" fill="#ec7a4e" opacity="0.9" filter="url(#b2)" transform="rotate(-32 900 880)"/>
<ellipse cx="990" cy="1150" rx="55" ry="120" fill="#ec7a4e" opacity="0.9" filter="url(#b2)"/>
<ellipse cx="1000" cy="1010" rx="60" ry="60" fill="#ec7a4e" opacity="0.9" filter="url(#b2)"/>
<ellipse cx="1190" cy="1310" rx="40" ry="60" fill="#ec7a4e" opacity="0.9" filter="url(#b2)"/>
<ellipse cx="1050" cy="920" rx="70" ry="40" fill="#ec7a4e" opacity="0.9" filter="url(#b2)" transform="rotate(-30 1050 920)"/>
<ellipse cx="330" cy="230" rx="140" ry="140" fill="#4a3bc4" opacity="0.92" filter="url(#b2)"/>
<ellipse cx="560" cy="170" rx="210" ry="95" fill="#4a3bc4" opacity="0.92" filter="url(#b2)"/>
<ellipse cx="850" cy="330" rx="130" ry="85" fill="#4a3bc4" opacity="0.92" filter="url(#b2)"/>
<ellipse cx="1000" cy="520" rx="240" ry="180" fill="#4a3bc4" opacity="0.92" filter="url(#b2)"/>
<ellipse cx="1250" cy="420" rx="160" ry="150" fill="#4a3bc4" opacity="0.92" filter="url(#b2)"/>
<ellipse cx="1350" cy="650" rx="120" ry="210" fill="#4a3bc4" opacity="0.92" filter="url(#b2)"/>
<ellipse cx="1150" cy="700" rx="100" ry="90" fill="#4a3bc4" opacity="0.92" filter="url(#b2)"/>
<ellipse cx="1400" cy="900" rx="95" ry="130" fill="#4a3bc4" opacity="0.92" filter="url(#b2)"/>
<ellipse cx="1300" cy="1080" rx="210" ry="95" fill="#4a3bc4" opacity="0.92" filter="url(#b2)"/>
<ellipse cx="1560" cy="1150" rx="95" ry="120" fill="#4a3bc4" opacity="0.92" filter="url(#b2)"/>
<ellipse cx="450" cy="920" rx="140" ry="105" fill="#4a3bc4" opacity="0.92" filter="url(#b2)"/>
<ellipse cx="830" cy="1000" rx="110" ry="70" fill="#4a3bc4" opacity="0.92" filter="url(#b2)"/>
<ellipse cx="420" cy="1200" rx="55" ry="38" fill="#4a3bc4" opacity="0.92" filter="url(#b2)"/>
<ellipse cx="250" cy="350" rx="65" ry="95" fill="#4a3bc4" opacity="0.92" filter="url(#b2)"/>
<ellipse cx="640" cy="700" rx="60" ry="40" fill="#4a3bc4" opacity="0.92" filter="url(#b2)"/>
<ellipse cx="470" cy="790" rx="55" ry="32" fill="#4a3bc4" opacity="0.92" filter="url(#b2)"/>
<ellipse cx="720" cy="300" rx="70" ry="60" fill="#4a3bc4" opacity="0.92" filter="url(#b2)"/>
<ellipse cx="600" cy="1000" rx="80" ry="45" fill="#4a3bc4" opacity="0.92" filter="url(#b2)"/>
<ellipse cx="1180" cy="880" rx="60" ry="60" fill="#4a3bc4" opacity="0.92" filter="url(#b2)"/>
<ellipse cx="700" cy="130" rx="85" ry="70" fill="#3a2898" opacity="0.8" filter="url(#b2)"/>
<ellipse cx="1560" cy="1150" rx="60" ry="80" fill="#3a2898" opacity="0.8" filter="url(#b2)"/>
<ellipse cx="470" cy="960" rx="90" ry="50" fill="#3a2898" opacity="0.8" filter="url(#b2)"/>
<ellipse cx="270" cy="330" rx="50" ry="70" fill="#3a2898" opacity="0.8" filter="url(#b2)"/>
<ellipse cx="1330" cy="580" rx="60" ry="90" fill="#3a2898" opacity="0.8" filter="url(#b2)"/>
</g>
<rect x="80" y="40" width="1650" height="1720" fill="#000" filter="url(#spk1)" opacity="0.85"/>
<rect x="80" y="40" width="1650" height="1720" fill="#000" filter="url(#spk2)" opacity="0.8"/>
<rect x="80" y="40" width="1650" height="1720" fill="#000" filter="url(#spk3)" opacity="0.7"/>
</g></g>
<g transform="translate(48 -12.7) scale(0.967)" clip-path="url(#tis)">
<path d="M250 210C265.83 196.67 281.67 185 300 175C318.33 165 340 158.33 360 150C380 141.67 400 132 420 125C440 118 460 113.83 480 108C500 102.17 521.67 96 540 90C558.33 84 571.67 75.67 590 72C608.33 68.33 628.33 68 650 68C671.67 68 696.67 71.67 720 72C743.33 72.33 771.67 68.67 790 70C808.33 71.33 815 73.33 830 80C845 86.67 860 100.83 880 110C900 119.17 926.67 127.5 950 135C973.33 142.5 996.67 146.67 1020 155C1043.33 163.33 1066.67 175 1090 185C1113.33 195 1136.67 203.33 1160 215C1183.33 226.67 1208.33 240.83 1230 255C1251.67 269.17 1271.67 285 1290 300C1308.33 315 1324.17 329.17 1340 345C1355.83 360.83 1371.67 377.5 1385 395C1398.33 412.5 1408.33 430.83 1420 450C1431.67 469.17 1443.33 491.67 1455 510C1466.67 528.33 1480.83 541.67 1490 560C1499.17 578.33 1502.5 600 1510 620C1517.5 640 1527.5 660 1535 680C1542.5 700 1549.5 720 1555 740C1560.5 760 1565.17 780 1568 800C1570.83 820 1572 840 1572 860C1572 880 1569.67 900 1568 920C1566.33 940 1561.67 960 1562 980C1562.33 1000 1565.33 1021.67 1570 1040C1574.67 1058.33 1581.67 1075 1590 1090C1598.33 1105 1611.67 1115 1620 1130C1628.33 1145 1632.5 1163.33 1640 1180C1647.5 1196.67 1657.5 1211.67 1665 1230C1672.5 1248.33 1679.5 1270 1685 1290C1690.5 1310 1696.33 1330 1698 1350C1699.67 1370 1698.83 1391.67 1695 1410C1691.17 1428.33 1684.17 1446.67 1675 1460C1665.83 1473.33 1654.17 1482.5 1640 1490C1625.83 1497.5 1606.67 1503.33 1590 1505C1573.33 1506.67 1556.67 1502.5 1540 1500C1523.33 1497.5 1505.83 1495.83 1490 1490C1474.17 1484.17 1458.33 1475 1445 1465C1431.67 1455 1420 1441.67 1410 1430C1400 1418.33 1393.33 1406.67 1385 1395C1376.67 1383.33 1368.33 1371.67 1360 1360C1351.67 1348.33 1345 1336.67 1335 1325C1325 1313.33 1310.83 1302.5 1300 1290C1289.17 1277.5 1280.83 1262.5 1270 1250C1259.17 1237.5 1247.5 1225 1235 1215C1222.5 1205 1209.17 1196.67 1195 1190C1180.83 1183.33 1165 1179.17 1150 1175C1135 1170.83 1120 1170 1105 1165C1090 1160 1074.17 1153.33 1060 1145C1045.83 1136.67 1032.5 1121.67 1020 1115C1007.5 1108.33 996.67 1103.33 985 1105C973.33 1106.67 962.5 1117.5 950 1125C937.5 1132.5 923.33 1140.83 910 1150C896.67 1159.17 883.33 1170 870 1180C856.67 1190 843.33 1199.17 830 1210C816.67 1220.83 804.17 1234.17 790 1245C775.83 1255.83 760 1265.83 745 1275C730 1284.17 715 1291.67 700 1300C685 1308.33 668.33 1316.67 655 1325C641.67 1333.33 629.17 1339.17 620 1350C610.83 1360.83 602.5 1376.67 600 1390C597.5 1403.33 600.83 1416.67 605 1430C609.17 1443.33 615 1459.17 625 1470C635 1480.83 649.17 1490 665 1495C680.83 1500 700.83 1500.83 720 1500C739.17 1499.17 761.67 1490.83 780 1490C798.33 1489.17 815 1490 830 1495C845 1500 855 1512.5 870 1520C885 1527.5 903.33 1533.33 920 1540C936.67 1546.67 953.33 1555 970 1560C986.67 1565 1002.5 1570 1020 1570C1037.5 1570 1060.83 1558.33 1075 1560C1089.17 1561.67 1104.17 1572.5 1105 1580C1105.83 1587.5 1092.5 1599.17 1080 1605C1067.5 1610.83 1048.33 1610.83 1030 1615C1011.67 1619.17 990 1624.17 970 1630C950 1635.83 928.33 1641.67 910 1650C891.67 1658.33 875.83 1669.17 860 1680C844.17 1690.83 830 1703.33 815 1715C800 1726.67 785.83 1740.83 770 1750C754.17 1759.17 738.33 1765 720 1770C701.67 1775 680 1778.67 660 1780C640 1781.33 620 1780 600 1778C580 1776 560 1772.67 540 1768C520 1763.33 498.33 1757.17 480 1750C461.67 1742.83 446.67 1735 430 1725C413.33 1715 395.83 1702.5 380 1690C364.17 1677.5 348.33 1664.17 335 1650C321.67 1635.83 310 1620 300 1605C290 1590 282.5 1575.83 275 1560C267.5 1544.17 260.83 1526.67 255 1510C249.17 1493.33 245.83 1476.67 240 1460C234.17 1443.33 227.5 1426.67 220 1410C212.5 1393.33 202.5 1376.67 195 1360C187.5 1343.33 180 1326.67 175 1310C170 1293.33 164.17 1275.83 165 1260C165.83 1244.17 171.67 1228.33 180 1215C188.33 1201.67 201.67 1190.83 215 1180C228.33 1169.17 244.17 1160 260 1150C275.83 1140 293.33 1128.33 310 1120C326.67 1111.67 344.17 1105.33 360 1100C375.83 1094.67 403.33 1093 405 1088C406.67 1083 384.17 1077.17 370 1070C355.83 1062.83 335.83 1055 320 1045C304.17 1035 289.17 1022.5 275 1010C260.83 997.5 247.5 984.17 235 970C222.5 955.83 210.83 940.83 200 925C189.17 909.17 178.33 892.5 170 875C161.67 857.5 156.67 838.33 150 820C143.33 801.67 136.67 783.33 130 765C123.33 746.67 115.33 729.17 110 710C104.67 690.83 100.5 670 98 650C95.5 630 94.67 610 95 590C95.33 570 96.67 550 100 530C103.33 510 109.17 489.17 115 470C120.83 450.83 128.33 433.33 135 415C141.67 396.67 148.33 378.33 155 360C161.67 341.67 166.67 322.5 175 305C183.33 287.5 192.5 270.83 205 255C217.5 239.17 234.17 223.33 250 210Z" fill="none" stroke="#e98a52" stroke-width="46" opacity="0.75" filter="url(#b2)"/>
<g transform="scale(1.03413) translate(-48 12.7)">
<path d="M750 55C763.33 40 808.33 52.5 850 60C891.67 67.5 955 85 1000 100C1045 115 1081.67 131.67 1120 150C1158.33 168.33 1196.67 188.33 1230 210C1263.33 231.67 1291.67 253.33 1320 280C1348.33 306.67 1375 336.67 1400 370C1425 403.33 1448.33 441.67 1470 480C1491.67 518.33 1512.5 560 1530 600C1547.5 640 1564.17 678.33 1575 720C1585.83 761.67 1593.33 810 1595 850C1596.67 890 1589.17 930 1585 960C1580.83 990 1584.17 1023.33 1570 1030C1555.83 1036.67 1517.5 1011.67 1500 1000C1482.5 988.33 1469.17 983.33 1465 960C1460.83 936.67 1475.83 896.67 1475 860C1474.17 823.33 1469.17 776.67 1460 740C1450.83 703.33 1430 673.33 1420 640C1410 606.67 1411.67 575 1400 540C1388.33 505 1368.33 463.33 1350 430C1331.67 396.67 1311.67 361.67 1290 340C1268.33 318.33 1243.33 309.17 1220 300C1196.67 290.83 1173.33 291.67 1150 285C1126.67 278.33 1105 265.83 1080 260C1055 254.17 1025 249.17 1000 250C975 250.83 953.33 263.33 930 265C906.67 266.67 881.67 268.33 860 260C838.33 251.67 815 233.33 800 215C785 196.67 778.33 176.67 770 150C761.67 123.33 736.67 70 750 55Z" fill="#b23049" filter="url(#b1)"/>
<ellipse cx="1010" cy="385" rx="26" ry="40" fill="#c43a4c" opacity="0.95" filter="url(#b1)"/>
<ellipse cx="700" cy="245" rx="16" ry="22" fill="#d8504c" opacity="0.9" filter="url(#b1)"/>
<ellipse cx="770" cy="265" rx="16" ry="26" fill="#d8504c" opacity="0.9" filter="url(#b1)"/>
<ellipse cx="1010" cy="180" rx="70" ry="30" fill="#cf4a58" opacity="0.6" filter="url(#b2)"/>
<rect x="80" y="40" width="1650" height="1720" fill="#000" filter="url(#mot)" opacity="0.16"/>
<path d="M690 80L640 230" stroke="#2a1d6a" stroke-width="3" fill="none" opacity="0.7"/>
<path d="M1200 300L1110 450" stroke="#2a1d6a" stroke-width="3" fill="none" opacity="0.7"/>
<path d="M1290 350L1180 520" stroke="#2a1d6a" stroke-width="3" fill="none" opacity="0.7"/>
<path d="M1350 540L1170 700" stroke="#2a1d6a" stroke-width="3" fill="none" opacity="0.7"/>
<path d="M1470 740L1340 920L1290 1060" stroke="#2a1d6a" stroke-width="3" fill="none" opacity="0.7"/>
<path d="M1500 860L1340 890" stroke="#2a1d6a" stroke-width="3" fill="none" opacity="0.7"/>
<path d="M1390 930L1270 1110" stroke="#2a1d6a" stroke-width="3" fill="none" opacity="0.7"/>
<path d="M1600 1070L1550 1120" stroke="#2a1d6a" stroke-width="3" fill="none" opacity="0.7"/>
<path d="M420 1170L620 1260" stroke="#2a1d6a" stroke-width="3" fill="none" opacity="0.7"/>
<path d="M1340 860L1400 885L1450 870" stroke="#1e144a" stroke-width="8" fill="none" opacity="0.8"/>
<path d="M400 1000Q500 1040 600 1005" stroke="#2a1a70" stroke-width="9" fill="none" opacity="0.8"/>
</g></g>
<g transform="translate(48 -12.7) scale(0.967)">
<path d="M770 820C779.17 818.33 808.33 840 830 850C851.67 860 878.33 873.33 900 880C921.67 886.67 940.83 890.83 960 890C979.17 889.17 1002.5 870 1015 875C1027.5 880 1033.33 903.33 1035 920C1036.67 936.67 1033.33 960 1025 975C1016.67 990 1000 1005.83 985 1010C970 1014.17 950.83 1004.17 935 1000C919.17 995.83 904.17 994.17 890 985C875.83 975.83 863.33 959.17 850 945C836.67 930.83 822.5 914.17 810 900C797.5 885.83 781.67 873.33 775 860C768.33 846.67 760.83 821.67 770 820Z" fill="#f6f1f5" filter="url(#b1)"/>
<path d="M690 585C697.5 588.33 711.67 602.5 725 620C738.33 637.5 755 666.67 770 690C785 713.33 800.83 739.17 815 760C829.17 780.83 851.67 803.33 855 815C858.33 826.67 845.83 836.67 835 830C824.17 823.33 805 795.83 790 775C775 754.17 759.17 727.5 745 705C730.83 682.5 715.83 657.5 705 640C694.17 622.5 682.5 609.17 680 600C677.5 590.83 682.5 581.67 690 585Z" fill="#f3e3e6" opacity="0.8" filter="url(#b1)"/>
<path d="M1250 830C1264.17 823.33 1287.5 816.67 1300 820C1312.5 823.33 1325 838.33 1325 850C1325 861.67 1310.83 881.67 1300 890C1289.17 898.33 1273.33 900 1260 900C1246.67 900 1227.5 896.67 1220 890C1212.5 883.33 1210 870 1215 860C1220 850 1235.83 836.67 1250 830Z" fill="#f0e6f0" opacity="0.9" filter="url(#b1)"/>
<path d="M1180 1400L1230 1520L1150 1500L1120 1420Z" fill="#e8966a" opacity="0.8" filter="url(#b1)"/>
<ellipse cx="280" cy="560" rx="70" ry="35" fill="#efe3f0" opacity="0.7" filter="url(#b1)"/>
</g>
</g>
<rect x="1534.4" y="1662.6" width="402.8" height="396.2" fill="none" stroke="#000" stroke-width="2.7"/>
<text x="1588.9" y="2119.3" font-size="24.2">Predicted Top-4 <tspan font-size="29.4">Patches</tspan></text>
<clipPath id="hpc0"><rect x="1474" y="2138.3" width="109.3" height="107.7"/></clipPath>
<g clip-path="url(#hpc0)">
<rect x="1474" y="2138.3" width="109.3" height="107.7" fill="#bd7ab0"/>
<rect x="1474" y="2138.3" width="109.3" height="107.7" fill="#000" filter="url(#pt0)" opacity="0.35"/>
<ellipse cx="1543.33" cy="2142.89" rx="3.82" ry="3.64" fill="#93589a" opacity="0.95" transform="rotate(81 1543.33 2142.89)"/><ellipse cx="1504.96" cy="2163.45" rx="4.93" ry="3.89" fill="#7f478b" opacity="0.85" transform="rotate(100 1504.96 2163.45)"/><ellipse cx="1553.55" cy="2210.47" rx="3.65" ry="3.06" fill="#7f478b" opacity="0.95" transform="rotate(174 1553.55 2210.47)"/><ellipse cx="1569.95" cy="2149.32" rx="4.27" ry="3.6" fill="#7f478b" opacity="0.85" transform="rotate(10 1569.95 2149.32)"/><ellipse cx="1520.43" cy="2143.39" rx="4.2" ry="3.72" fill="#7f478b" opacity="0.75" transform="rotate(28 1520.43 2143.39)"/><ellipse cx="1499.02" cy="2192.71" rx="4.76" ry="2.78" fill="#8a4f93" opacity="0.85" transform="rotate(12 1499.02 2192.71)"/><ellipse cx="1478.79" cy="2160.92" rx="3.59" ry="3.77" fill="#7f478b" opacity="0.75" transform="rotate(44 1478.79 2160.92)"/><ellipse cx="1544.43" cy="2196.81" rx="4.39" ry="3.2" fill="#7f478b" opacity="0.85" transform="rotate(105 1544.43 2196.81)"/><ellipse cx="1499.21" cy="2201.41" rx="4.9" ry="2.95" fill="#8a4f93" opacity="0.85" transform="rotate(128 1499.21 2201.41)"/><ellipse cx="1561.23" cy="2140.97" rx="4.03" ry="3.51" fill="#93589a" opacity="0.75" transform="rotate(53 1561.23 2140.97)"/><ellipse cx="1560.85" cy="2212.7" rx="3.41" ry="3.45" fill="#8a4f93" opacity="0.75" transform="rotate(101 1560.85 2212.7)"/><ellipse cx="1511.83" cy="2156.42" rx="4.26" ry="3.31" fill="#93589a" opacity="0.75" transform="rotate(23 1511.83 2156.42)"/><ellipse cx="1576.79" cy="2175.2" rx="4.81" ry="3.14" fill="#7f478b" opacity="0.95" transform="rotate(28 1576.79 2175.2)"/><ellipse cx="1485.77" cy="2150.33" rx="3.88" ry="3.88" fill="#7f478b" opacity="0.75" transform="rotate(145 1485.77 2150.33)"/><ellipse cx="1565.24" cy="2202.91" rx="4.47" ry="3.37" fill="#8a4f93" opacity="0.75" transform="rotate(167 1565.24 2202.91)"/><ellipse cx="1532.46" cy="2241.21" rx="3.82" ry="3.77" fill="#8a4f93" opacity="0.85" transform="rotate(133 1532.46 2241.21)"/><ellipse cx="1515.86" cy="2197.55" rx="3.85" ry="2.95" fill="#7f478b" opacity="0.95" transform="rotate(61 1515.86 2197.55)"/><ellipse cx="1500" cy="2170.31" rx="4.76" ry="3.31" fill="#8a4f93" opacity="0.75" transform="rotate(45 1500 2170.31)"/><ellipse cx="1486.64" cy="2169.13" rx="4.41" ry="3.7" fill="#93589a" opacity="0.75" transform="rotate(7 1486.64 2169.13)"/><ellipse cx="1542.94" cy="2178.13" rx="4.42" ry="3.01" fill="#7f478b" opacity="0.95" transform="rotate(133 1542.94 2178.13)"/><ellipse cx="1504.11" cy="2237.43" rx="4.08" ry="2.71" fill="#7f478b" opacity="0.75" transform="rotate(13 1504.11 2237.43)"/><ellipse cx="1494.02" cy="2215.91" rx="4.27" ry="3.7" fill="#8a4f93" opacity="0.85" transform="rotate(104 1494.02 2215.91)"/><ellipse cx="1493.21" cy="2179.65" rx="3.6" ry="3.07" fill="#8a4f93" opacity="0.85" transform="rotate(161 1493.21 2179.65)"/><ellipse cx="1580.2" cy="2206.67" rx="3.74" ry="3" fill="#7f478b" opacity="0.85" transform="rotate(18 1580.2 2206.67)"/><ellipse cx="1534.65" cy="2211.29" rx="4.96" ry="3.6" fill="#8a4f93" opacity="0.75" transform="rotate(166 1534.65 2211.29)"/><ellipse cx="1564.75" cy="2220.77" rx="4.96" ry="3.67" fill="#8a4f93" opacity="0.75" transform="rotate(158 1564.75 2220.77)"/><ellipse cx="1500.12" cy="2143.63" rx="4.58" ry="3.1" fill="#7f478b" opacity="0.95" transform="rotate(167 1500.12 2143.63)"/><ellipse cx="1568.28" cy="2172.93" rx="4.7" ry="3.02" fill="#8a4f93" opacity="0.85" transform="rotate(141 1568.28 2172.93)"/><ellipse cx="1572.3" cy="2187.88" rx="4.8" ry="3.73" fill="#93589a" opacity="0.85" transform="rotate(40 1572.3 2187.88)"/><ellipse cx="1535.11" cy="2167.55" rx="3.89" ry="3.65" fill="#8a4f93" opacity="0.95" transform="rotate(40 1535.11 2167.55)"/><ellipse cx="1537.56" cy="2233.4" rx="3.71" ry="3.09" fill="#93589a" opacity="0.85" transform="rotate(155 1537.56 2233.4)"/><ellipse cx="1518.06" cy="2163.04" rx="4.43" ry="3.18" fill="#7f478b" opacity="0.85" transform="rotate(176 1518.06 2163.04)"/><ellipse cx="1581.04" cy="2193.14" rx="4.9" ry="2.84" fill="#8a4f93" opacity="0.95" transform="rotate(174 1581.04 2193.14)"/><ellipse cx="1487.55" cy="2205.37" rx="4.94" ry="3.02" fill="#93589a" opacity="0.85" transform="rotate(19 1487.55 2205.37)"/><ellipse cx="1559.41" cy="2184.08" rx="4.57" ry="3.08" fill="#7f478b" opacity="0.75" transform="rotate(109 1559.41 2184.08)"/><ellipse cx="1482.69" cy="2179.87" rx="4.02" ry="3.39" fill="#7f478b" opacity="0.85" transform="rotate(45 1482.69 2179.87)"/><ellipse cx="1578.25" cy="2229.56" rx="3.4" ry="3.81" fill="#7f478b" opacity="0.95" transform="rotate(96 1578.25 2229.56)"/><ellipse cx="1477.21" cy="2215.04" rx="4.58" ry="2.94" fill="#7f478b" opacity="0.85" transform="rotate(77 1477.21 2215.04)"/><ellipse cx="1523.78" cy="2239.21" rx="4.4" ry="3.5" fill="#93589a" opacity="0.95" transform="rotate(22 1523.78 2239.21)"/><ellipse cx="1528.71" cy="2158.83" rx="3.89" ry="3.19" fill="#93589a" opacity="0.95" transform="rotate(72 1528.71 2158.83)"/><ellipse cx="1507.43" cy="2206.56" rx="3.6" ry="3.2" fill="#7f478b" opacity="0.95" transform="rotate(169 1507.43 2206.56)"/><ellipse cx="1540.12" cy="2156.15" rx="4.84" ry="3.44" fill="#7f478b" opacity="0.75" transform="rotate(54 1540.12 2156.15)"/><ellipse cx="1556.29" cy="2196.23" rx="3.89" ry="2.95" fill="#7f478b" opacity="0.95" transform="rotate(141 1556.29 2196.23)"/><ellipse cx="1476.06" cy="2173.91" rx="3.92" ry="3.23" fill="#7f478b" opacity="0.85" transform="rotate(121 1476.06 2173.91)"/><ellipse cx="1478.05" cy="2236.65" rx="4.67" ry="3.85" fill="#7f478b" opacity="0.75" transform="rotate(132 1478.05 2236.65)"/><ellipse cx="1508.38" cy="2146.31" rx="3.85" ry="3.5" fill="#8a4f93" opacity="0.75" transform="rotate(111 1508.38 2146.31)"/><ellipse cx="1568.45" cy="2238.5" rx="4.48" ry="2.97" fill="#8a4f93" opacity="0.75" transform="rotate(35 1568.45 2238.5)"/><ellipse cx="1485.02" cy="2190.7" rx="3.79" ry="3.27" fill="#8a4f93" opacity="0.85" transform="rotate(152 1485.02 2190.7)"/><ellipse cx="1556.64" cy="2153.61" rx="4.06" ry="3.46" fill="#7f478b" opacity="0.85" transform="rotate(34 1556.64 2153.61)"/><ellipse cx="1526.05" cy="2197.31" rx="4.19" ry="2.99" fill="#8a4f93" opacity="0.75" transform="rotate(118 1526.05 2197.31)"/><ellipse cx="1498.56" cy="2154.02" rx="4.65" ry="2.96" fill="#7f478b" opacity="0.95" transform="rotate(144 1498.56 2154.02)"/><ellipse cx="1574.51" cy="2199.52" rx="4.14" ry="3.37" fill="#8a4f93" opacity="0.85" transform="rotate(165 1574.51 2199.52)"/><ellipse cx="1525.77" cy="2221.67" rx="3.61" ry="3.26" fill="#7f478b" opacity="0.95" transform="rotate(95 1525.77 2221.67)"/><ellipse cx="1561.03" cy="2160.05" rx="3.91" ry="3.61" fill="#7f478b" opacity="0.95" transform="rotate(79 1561.03 2160.05)"/><ellipse cx="1520.6" cy="2188.73" rx="4.08" ry="3.79" fill="#8a4f93" opacity="0.95" transform="rotate(80 1520.6 2188.73)"/><ellipse cx="1579.63" cy="2150.51" rx="4.78" ry="3.24" fill="#7f478b" opacity="0.85" transform="rotate(135 1579.63 2150.51)"/><ellipse cx="1518.4" cy="2175.49" rx="4.63" ry="3.33" fill="#93589a" opacity="0.85" transform="rotate(112 1518.4 2175.49)"/><ellipse cx="1522.66" cy="2229.62" rx="3.52" ry="3.04" fill="#93589a" opacity="0.95" transform="rotate(48 1522.66 2229.62)"/><ellipse cx="1533.95" cy="2145.55" rx="3.53" ry="2.88" fill="#8a4f93" opacity="0.95" transform="rotate(68 1533.95 2145.55)"/><ellipse cx="1515.91" cy="2242.48" rx="3.74" ry="3.2" fill="#93589a" opacity="0.85" transform="rotate(59 1515.91 2242.48)"/>
<path d="M1486 2180L1505 2166L1509 2171L1490 2186Z" fill="#f4eef2"/><ellipse cx="1552" cy="2152" rx="9" ry="5" fill="#f6f0f4"/><path d="M1540 2230L1543 2205L1546 2232Z" fill="#efe0ec"/>
</g>
<clipPath id="hpc1"><rect x="1606.3" y="2138.3" width="109.3" height="107.7"/></clipPath>
<g clip-path="url(#hpc1)">
<rect x="1606.3" y="2138.3" width="109.3" height="107.7" fill="#bd7ab0"/>
<rect x="1606.3" y="2138.3" width="109.3" height="107.7" fill="#000" filter="url(#pt1)" opacity="0.35"/>
<ellipse cx="1614.86" cy="2226.67" rx="4.1" ry="3.68" fill="#93589a" opacity="0.85" transform="rotate(174 1614.86 2226.67)"/><ellipse cx="1649.31" cy="2220.13" rx="4.05" ry="3.09" fill="#8a4f93" opacity="0.85" transform="rotate(18 1649.31 2220.13)"/><ellipse cx="1707.92" cy="2142.33" rx="4.06" ry="3.29" fill="#93589a" opacity="0.95" transform="rotate(119 1707.92 2142.33)"/><ellipse cx="1701.03" cy="2200" rx="3.46" ry="2.81" fill="#8a4f93" opacity="0.85" transform="rotate(45 1701.03 2200)"/><ellipse cx="1658.53" cy="2238.06" rx="4.78" ry="3.69" fill="#7f478b" opacity="0.85" transform="rotate(0 1658.53 2238.06)"/><ellipse cx="1639.74" cy="2180.74" rx="4.06" ry="2.93" fill="#93589a" opacity="0.95" transform="rotate(65 1639.74 2180.74)"/><ellipse cx="1702.19" cy="2226.97" rx="4.11" ry="2.76" fill="#8a4f93" opacity="0.85" transform="rotate(48 1702.19 2226.97)"/><ellipse cx="1664.97" cy="2216.48" rx="4.1" ry="3.54" fill="#7f478b" opacity="0.95" transform="rotate(21 1664.97 2216.48)"/><ellipse cx="1692.53" cy="2233.4" rx="4.68" ry="3.55" fill="#8a4f93" opacity="0.95" transform="rotate(55 1692.53 2233.4)"/><ellipse cx="1659.71" cy="2168.6" rx="4.05" ry="2.97" fill="#8a4f93" opacity="0.85" transform="rotate(151 1659.71 2168.6)"/><ellipse cx="1659.44" cy="2180.62" rx="4.92" ry="3.48" fill="#7f478b" opacity="0.85" transform="rotate(27 1659.44 2180.62)"/><ellipse cx="1678.73" cy="2223.07" rx="4.21" ry="3.03" fill="#93589a" opacity="0.75" transform="rotate(150 1678.73 2223.07)"/><ellipse cx="1705.13" cy="2242" rx="4.13" ry="2.87" fill="#7f478b" opacity="0.95" transform="rotate(34 1705.13 2242)"/><ellipse cx="1670.63" cy="2209.05" rx="4.59" ry="2.86" fill="#93589a" opacity="0.85" transform="rotate(12 1670.63 2209.05)"/><ellipse cx="1617.14" cy="2184.75" rx="4.89" ry="3.31" fill="#93589a" opacity="0.95" transform="rotate(147 1617.14 2184.75)"/><ellipse cx="1699.58" cy="2159.15" rx="3.88" ry="3.4" fill="#93589a" opacity="0.75" transform="rotate(179 1699.58 2159.15)"/><ellipse cx="1635.69" cy="2174.25" rx="4.11" ry="3.28" fill="#7f478b" opacity="0.85" transform="rotate(59 1635.69 2174.25)"/><ellipse cx="1700.93" cy="2169.16" rx="4.13" ry="3.09" fill="#7f478b" opacity="0.75" transform="rotate(33 1700.93 2169.16)"/><ellipse cx="1708.46" cy="2184.02" rx="4.31" ry="2.98" fill="#8a4f93" opacity="0.85" transform="rotate(139 1708.46 2184.02)"/><ellipse cx="1696.22" cy="2189.07" rx="4.59" ry="3.55" fill="#93589a" opacity="0.95" transform="rotate(146 1696.22 2189.07)"/><ellipse cx="1687.17" cy="2145.7" rx="4.67" ry="3.48" fill="#8a4f93" opacity="0.75" transform="rotate(27 1687.17 2145.7)"/><ellipse cx="1708.54" cy="2163.55" rx="4.2" ry="3.41" fill="#93589a" opacity="0.75" transform="rotate(156 1708.54 2163.55)"/><ellipse cx="1615.53" cy="2239.57" rx="4.24" ry="3.25" fill="#93589a" opacity="0.95" transform="rotate(130 1615.53 2239.57)"/><ellipse cx="1612.54" cy="2143.52" rx="4.95" ry="2.79" fill="#93589a" opacity="0.85" transform="rotate(140 1612.54 2143.52)"/><ellipse cx="1634.34" cy="2227.33" rx="4.4" ry="3.18" fill="#93589a" opacity="0.95" transform="rotate(14 1634.34 2227.33)"/><ellipse cx="1673.73" cy="2165.04" rx="4.77" ry="3.16" fill="#7f478b" opacity="0.85" transform="rotate(56 1673.73 2165.04)"/><ellipse cx="1658.17" cy="2152.16" rx="4.8" ry="2.74" fill="#7f478b" opacity="0.95" transform="rotate(12 1658.17 2152.16)"/><ellipse cx="1672.1" cy="2240.24" rx="4.87" ry="3.9" fill="#93589a" opacity="0.75" transform="rotate(134 1672.1 2240.24)"/><ellipse cx="1625.54" cy="2172.55" rx="4.62" ry="3.54" fill="#8a4f93" opacity="0.95" transform="rotate(18 1625.54 2172.55)"/><ellipse cx="1647.82" cy="2237.93" rx="3.88" ry="2.73" fill="#8a4f93" opacity="0.85" transform="rotate(58 1647.82 2237.93)"/><ellipse cx="1629.18" cy="2201.7" rx="3.97" ry="3.22" fill="#93589a" opacity="0.95" transform="rotate(43 1629.18 2201.7)"/><ellipse cx="1681.71" cy="2171.57" rx="4.49" ry="2.92" fill="#7f478b" opacity="0.85" transform="rotate(31 1681.71 2171.57)"/><ellipse cx="1692.14" cy="2198.99" rx="4.39" ry="2.99" fill="#8a4f93" opacity="0.75" transform="rotate(164 1692.14 2198.99)"/><ellipse cx="1612.62" cy="2195.55" rx="4.14" ry="3" fill="#8a4f93" opacity="0.85" transform="rotate(45 1612.62 2195.55)"/><ellipse cx="1677.96" cy="2147.45" rx="4.84" ry="3.51" fill="#93589a" opacity="0.85" transform="rotate(28 1677.96 2147.45)"/><ellipse cx="1652.53" cy="2191.13" rx="4.98" ry="3.06" fill="#7f478b" opacity="0.85" transform="rotate(173 1652.53 2191.13)"/><ellipse cx="1624.41" cy="2158.57" rx="4.13" ry="3.06" fill="#93589a" opacity="0.75" transform="rotate(179 1624.41 2158.57)"/><ellipse cx="1663.24" cy="2207.75" rx="3.78" ry="3.39" fill="#7f478b" opacity="0.85" transform="rotate(103 1663.24 2207.75)"/><ellipse cx="1642.24" cy="2165.76" rx="3.44" ry="3.7" fill="#8a4f93" opacity="0.95" transform="rotate(71 1642.24 2165.76)"/><ellipse cx="1643.72" cy="2191.56" rx="4.78" ry="3.63" fill="#7f478b" opacity="0.95" transform="rotate(175 1643.72 2191.56)"/><ellipse cx="1637.75" cy="2202.12" rx="4.19" ry="3.78" fill="#8a4f93" opacity="0.95" transform="rotate(51 1637.75 2202.12)"/><ellipse cx="1662.7" cy="2160.11" rx="4.68" ry="2.96" fill="#93589a" opacity="0.95" transform="rotate(34 1662.7 2160.11)"/><ellipse cx="1655.49" cy="2142.09" rx="4.61" ry="3.62" fill="#8a4f93" opacity="0.95" transform="rotate(122 1655.49 2142.09)"/><ellipse cx="1633.92" cy="2209.15" rx="3.56" ry="3.45" fill="#93589a" opacity="0.75" transform="rotate(7 1633.92 2209.15)"/><ellipse cx="1666.26" cy="2176.78" rx="4.33" ry="3.58" fill="#93589a" opacity="0.85" transform="rotate(16 1666.26 2176.78)"/><ellipse cx="1641.53" cy="2217.34" rx="4.6" ry="2.91" fill="#7f478b" opacity="0.85" transform="rotate(23 1641.53 2217.34)"/><ellipse cx="1708.43" cy="2211.87" rx="4.25" ry="3.8" fill="#93589a" opacity="0.85" transform="rotate(149 1708.43 2211.87)"/><ellipse cx="1628.47" cy="2216.89" rx="4.95" ry="3.05" fill="#8a4f93" opacity="0.85" transform="rotate(156 1628.47 2216.89)"/><ellipse cx="1711.55" cy="2226.64" rx="4.94" ry="2.87" fill="#7f478b" opacity="0.95" transform="rotate(173 1711.55 2226.64)"/><ellipse cx="1621.63" cy="2145.02" rx="4.48" ry="3.18" fill="#7f478b" opacity="0.85" transform="rotate(152 1621.63 2145.02)"/><ellipse cx="1614.04" cy="2170.59" rx="3.54" ry="3.17" fill="#8a4f93" opacity="0.85" transform="rotate(47 1614.04 2170.59)"/><ellipse cx="1624.28" cy="2224.42" rx="3.99" ry="3.6" fill="#93589a" opacity="0.95" transform="rotate(47 1624.28 2224.42)"/><ellipse cx="1652.12" cy="2202.12" rx="4.9" ry="2.83" fill="#8a4f93" opacity="0.95" transform="rotate(42 1652.12 2202.12)"/><ellipse cx="1651.32" cy="2211.79" rx="4.81" ry="3.37" fill="#8a4f93" opacity="0.95" transform="rotate(164 1651.32 2211.79)"/><ellipse cx="1698.82" cy="2147.68" rx="3.5" ry="3.69" fill="#93589a" opacity="0.95" transform="rotate(163 1698.82 2147.68)"/><ellipse cx="1701.96" cy="2216.47" rx="4.05" ry="2.87" fill="#93589a" opacity="0.85" transform="rotate(170 1701.96 2216.47)"/><ellipse cx="1671.87" cy="2142.98" rx="3.59" ry="2.98" fill="#93589a" opacity="0.85" transform="rotate(96 1671.87 2142.98)"/><ellipse cx="1610.48" cy="2219.61" rx="3.99" ry="3.84" fill="#7f478b" opacity="0.85" transform="rotate(125 1610.48 2219.61)"/><ellipse cx="1688.66" cy="2158.47" rx="4.34" ry="3.57" fill="#7f478b" opacity="0.75" transform="rotate(159 1688.66 2158.47)"/><ellipse cx="1637.59" cy="2243.68" rx="4.73" ry="3.44" fill="#93589a" opacity="0.75" transform="rotate(169 1637.59 2243.68)"/>
<path d="M1716 2246L1680 2246L1688 2236L1694 2222L1684 2212L1700 2205L1716 2210Z" fill="#f7f3f6"/><path d="M1662 2190L1668 2205L1671 2200Z" fill="#f0e2ee"/>
</g>
<clipPath id="hpc2"><rect x="1738.4" y="2138.3" width="109.3" height="107.7"/></clipPath>
<g clip-path="url(#hpc2)">
<rect x="1738.4" y="2138.3" width="109.3" height="107.7" fill="#bd7ab0"/>
<rect x="1738.4" y="2138.3" width="109.3" height="107.7" fill="#000" filter="url(#pt2)" opacity="0.35"/>
<ellipse cx="1813.09" cy="2162.83" rx="4.95" ry="3.08" fill="#93589a" opacity="0.85" transform="rotate(79 1813.09 2162.83)"/><ellipse cx="1787.23" cy="2164.78" rx="4.41" ry="3.66" fill="#93589a" opacity="0.95" transform="rotate(106 1787.23 2164.78)"/><ellipse cx="1778.59" cy="2242.02" rx="3.52" ry="3.25" fill="#93589a" opacity="0.85" transform="rotate(6 1778.59 2242.02)"/><ellipse cx="1779.08" cy="2233.81" rx="3.52" ry="3.74" fill="#7f478b" opacity="0.95" transform="rotate(153 1779.08 2233.81)"/><ellipse cx="1808.3" cy="2146.58" rx="4.21" ry="3.26" fill="#7f478b" opacity="0.75" transform="rotate(99 1808.3 2146.58)"/><ellipse cx="1769.45" cy="2240.7" rx="4.12" ry="3.67" fill="#93589a" opacity="0.95" transform="rotate(117 1769.45 2240.7)"/><ellipse cx="1840.33" cy="2225.77" rx="4.16" ry="2.88" fill="#8a4f93" opacity="0.85" transform="rotate(11 1840.33 2225.77)"/><ellipse cx="1750.05" cy="2162.3" rx="4.97" ry="2.8" fill="#8a4f93" opacity="0.75" transform="rotate(116 1750.05 2162.3)"/><ellipse cx="1807.74" cy="2241" rx="4.53" ry="3.89" fill="#7f478b" opacity="0.75" transform="rotate(94 1807.74 2241)"/><ellipse cx="1745.73" cy="2174.88" rx="3.98" ry="3.8" fill="#93589a" opacity="0.95" transform="rotate(69 1745.73 2174.88)"/><ellipse cx="1762.01" cy="2226.35" rx="4.36" ry="3.65" fill="#8a4f93" opacity="0.85" transform="rotate(116 1762.01 2226.35)"/><ellipse cx="1798.76" cy="2201.11" rx="3.55" ry="3.51" fill="#7f478b" opacity="0.95" transform="rotate(51 1798.76 2201.11)"/><ellipse cx="1826.01" cy="2164.46" rx="4.94" ry="3.42" fill="#8a4f93" opacity="0.95" transform="rotate(27 1826.01 2164.46)"/><ellipse cx="1821.94" cy="2222.08" rx="4.46" ry="3.8" fill="#7f478b" opacity="0.95" transform="rotate(55 1821.94 2222.08)"/><ellipse cx="1803.16" cy="2169.05" rx="4.46" ry="2.85" fill="#8a4f93" opacity="0.85" transform="rotate(127 1803.16 2169.05)"/><ellipse cx="1844.02" cy="2242.71" rx="4.29" ry="3.47" fill="#8a4f93" opacity="0.95" transform="rotate(59 1844.02 2242.71)"/><ellipse cx="1797.28" cy="2223.11" rx="4.52" ry="3.84" fill="#7f478b" opacity="0.75" transform="rotate(179 1797.28 2223.11)"/><ellipse cx="1751.98" cy="2230.15" rx="4.43" ry="3.21" fill="#93589a" opacity="0.85" transform="rotate(65 1751.98 2230.15)"/><ellipse cx="1754.28" cy="2177.45" rx="3.69" ry="2.96" fill="#93589a" opacity="0.75" transform="rotate(170 1754.28 2177.45)"/><ellipse cx="1823.42" cy="2201.36" rx="3.76" ry="2.87" fill="#8a4f93" opacity="0.95" transform="rotate(13 1823.42 2201.36)"/><ellipse cx="1742.06" cy="2167.82" rx="4.63" ry="3.7" fill="#8a4f93" opacity="0.95" transform="rotate(159 1742.06 2167.82)"/><ellipse cx="1752.37" cy="2146.89" rx="3.94" ry="3.62" fill="#93589a" opacity="0.75" transform="rotate(23 1752.37 2146.89)"/><ellipse cx="1787.6" cy="2177.84" rx="3.66" ry="3.7" fill="#8a4f93" opacity="0.95" transform="rotate(138 1787.6 2177.84)"/><ellipse cx="1802.91" cy="2187.17" rx="4.1" ry="3.19" fill="#8a4f93" opacity="0.85" transform="rotate(121 1802.91 2187.17)"/><ellipse cx="1763.73" cy="2204.09" rx="4.38" ry="3.6" fill="#8a4f93" opacity="0.95" transform="rotate(141 1763.73 2204.09)"/><ellipse cx="1816.98" cy="2234.54" rx="3.78" ry="3.86" fill="#8a4f93" opacity="0.85" transform="rotate(141 1816.98 2234.54)"/><ellipse cx="1785.29" cy="2151.5" rx="4.49" ry="3.38" fill="#93589a" opacity="0.85" transform="rotate(79 1785.29 2151.5)"/><ellipse cx="1815.42" cy="2186.3" rx="4.2" ry="3.2" fill="#8a4f93" opacity="0.95" transform="rotate(29 1815.42 2186.3)"/><ellipse cx="1835.09" cy="2173.7" rx="3.62" ry="3" fill="#93589a" opacity="0.95" transform="rotate(115 1835.09 2173.7)"/><ellipse cx="1793.63" cy="2184.91" rx="4.89" ry="3.55" fill="#8a4f93" opacity="0.85" transform="rotate(92 1793.63 2184.91)"/><ellipse cx="1823.91" cy="2152.16" rx="3.53" ry="2.89" fill="#7f478b" opacity="0.75" transform="rotate(80 1823.91 2152.16)"/><ellipse cx="1809.34" cy="2231.32" rx="4.73" ry="2.81" fill="#93589a" opacity="0.85" transform="rotate(163 1809.34 2231.32)"/><ellipse cx="1783.97" cy="2226.1" rx="4.89" ry="3.2" fill="#93589a" opacity="0.75" transform="rotate(71 1783.97 2226.1)"/><ellipse cx="1782.39" cy="2215.96" rx="4.02" ry="2.8" fill="#93589a" opacity="0.75" transform="rotate(40 1782.39 2215.96)"/><ellipse cx="1773.31" cy="2172.71" rx="4.74" ry="3.48" fill="#8a4f93" opacity="0.75" transform="rotate(142 1773.31 2172.71)"/><ellipse cx="1746.72" cy="2239.5" rx="3.86" ry="3.7" fill="#8a4f93" opacity="0.95" transform="rotate(125 1746.72 2239.5)"/><ellipse cx="1799.55" cy="2209.78" rx="4.15" ry="3.44" fill="#8a4f93" opacity="0.85" transform="rotate(163 1799.55 2209.78)"/><ellipse cx="1839.5" cy="2184.16" rx="3.75" ry="2.88" fill="#7f478b" opacity="0.95" transform="rotate(169 1839.5 2184.16)"/><ellipse cx="1836.84" cy="2145.63" rx="4.08" ry="3.63" fill="#8a4f93" opacity="0.75" transform="rotate(42 1836.84 2145.63)"/><ellipse cx="1751.31" cy="2192.92" rx="3.78" ry="3.47" fill="#8a4f93" opacity="0.75" transform="rotate(112 1751.31 2192.92)"/><ellipse cx="1798.97" cy="2152.21" rx="4.74" ry="3.3" fill="#7f478b" opacity="0.95" transform="rotate(96 1798.97 2152.21)"/><ellipse cx="1769.73" cy="2163.75" rx="4.32" ry="3.56" fill="#8a4f93" opacity="0.95" transform="rotate(52 1769.73 2163.75)"/><ellipse cx="1785.59" cy="2198.47" rx="3.96" ry="3.38" fill="#7f478b" opacity="0.75" transform="rotate(33 1785.59 2198.47)"/><ellipse cx="1811.48" cy="2198.03" rx="4.24" ry="3.13" fill="#7f478b" opacity="0.95" transform="rotate(171 1811.48 2198.03)"/><ellipse cx="1769.18" cy="2219.36" rx="4.66" ry="3.31" fill="#93589a" opacity="0.75" transform="rotate(3 1769.18 2219.36)"/><ellipse cx="1759.5" cy="2155.16" rx="4.42" ry="3.88" fill="#8a4f93" opacity="0.85" transform="rotate(45 1759.5 2155.16)"/><ellipse cx="1780.01" cy="2187.34" rx="4.66" ry="3.11" fill="#7f478b" opacity="0.75" transform="rotate(131 1780.01 2187.34)"/><ellipse cx="1756.78" cy="2218.54" rx="4.63" ry="3.58" fill="#8a4f93" opacity="0.85" transform="rotate(59 1756.78 2218.54)"/><ellipse cx="1763.1" cy="2193.43" rx="4.27" ry="3.68" fill="#7f478b" opacity="0.85" transform="rotate(31 1763.1 2193.43)"/><ellipse cx="1776.75" cy="2151.8" rx="4.97" ry="3.27" fill="#8a4f93" opacity="0.75" transform="rotate(32 1776.75 2151.8)"/><ellipse cx="1795.89" cy="2172.28" rx="4.55" ry="3.83" fill="#8a4f93" opacity="0.75" transform="rotate(6 1795.89 2172.28)"/><ellipse cx="1820.87" cy="2170.32" rx="4.67" ry="3.76" fill="#93589a" opacity="0.95" transform="rotate(56 1820.87 2170.32)"/><ellipse cx="1796.48" cy="2164.16" rx="4.04" ry="3.68" fill="#8a4f93" opacity="0.95" transform="rotate(85 1796.48 2164.16)"/><ellipse cx="1782.99" cy="2206.68" rx="3.71" ry="3.13" fill="#7f478b" opacity="0.85" transform="rotate(140 1782.99 2206.68)"/><ellipse cx="1770.89" cy="2182.3" rx="3.84" ry="3.66" fill="#93589a" opacity="0.95" transform="rotate(78 1770.89 2182.3)"/><ellipse cx="1842.14" cy="2158.12" rx="4.1" ry="3.85" fill="#8a4f93" opacity="0.85" transform="rotate(61 1842.14 2158.12)"/><ellipse cx="1813.02" cy="2177.82" rx="4.51" ry="3.14" fill="#93589a" opacity="0.75" transform="rotate(143 1813.02 2177.82)"/><ellipse cx="1808.37" cy="2155.62" rx="4.56" ry="2.79" fill="#8a4f93" opacity="0.95" transform="rotate(108 1808.37 2155.62)"/><ellipse cx="1840.57" cy="2205.42" rx="3.87" ry="2.82" fill="#93589a" opacity="0.85" transform="rotate(59 1840.57 2205.42)"/><ellipse cx="1844.28" cy="2173.82" rx="4.11" ry="3.56" fill="#93589a" opacity="0.85" transform="rotate(29 1844.28 2173.82)"/>
<path d="M1760 2196L1790 2186L1793 2190L1764 2201Z" fill="#f1e6ee"/><path d="M1805 2160L1830 2150L1832 2154Z" fill="#f1e6ee"/><path d="M1760 2232L1780 2236L1779 2240Z" fill="#f1e6ee"/>
</g>
<clipPath id="hpc3"><rect x="1870.6" y="2138.3" width="109.3" height="107.7"/></clipPath>
<g clip-path="url(#hpc3)">
<rect x="1870.6" y="2138.3" width="109.3" height="107.7" fill="#bd7ab0"/>
<rect x="1870.6" y="2138.3" width="109.3" height="107.7" fill="#000" filter="url(#pt3)" opacity="0.35"/>
<ellipse cx="1919.68" cy="2215.67" rx="4.12" ry="3.36" fill="#7f478b" opacity="0.95" transform="rotate(148 1919.68 2215.67)"/><ellipse cx="1968.59" cy="2204.06" rx="4.38" ry="2.85" fill="#93589a" opacity="0.85" transform="rotate(17 1968.59 2204.06)"/><ellipse cx="1918.4" cy="2206.61" rx="4.29" ry="3.14" fill="#7f478b" opacity="0.95" transform="rotate(25 1918.4 2206.61)"/><ellipse cx="1955.94" cy="2146.25" rx="4.04" ry="2.75" fill="#7f478b" opacity="0.85" transform="rotate(7 1955.94 2146.25)"/><ellipse cx="1943.28" cy="2182.42" rx="4.69" ry="3.32" fill="#7f478b" opacity="0.75" transform="rotate(26 1943.28 2182.42)"/><ellipse cx="1889.45" cy="2143.53" rx="3.92" ry="3.44" fill="#7f478b" opacity="0.95" transform="rotate(29 1889.45 2143.53)"/><ellipse cx="1961.96" cy="2210.62" rx="4.75" ry="3.41" fill="#7f478b" opacity="0.95" transform="rotate(91 1961.96 2210.62)"/><ellipse cx="1918.74" cy="2153.39" rx="4.18" ry="3.38" fill="#8a4f93" opacity="0.85" transform="rotate(85 1918.74 2153.39)"/><ellipse cx="1897.45" cy="2207.2" rx="3.93" ry="2.83" fill="#93589a" opacity="0.95" transform="rotate(74 1897.45 2207.2)"/><ellipse cx="1910.73" cy="2238.76" rx="4.8" ry="3.46" fill="#93589a" opacity="0.95" transform="rotate(107 1910.73 2238.76)"/><ellipse cx="1876.01" cy="2156.21" rx="4.65" ry="3.63" fill="#7f478b" opacity="0.75" transform="rotate(103 1876.01 2156.21)"/><ellipse cx="1919.98" cy="2178.77" rx="4.33" ry="2.9" fill="#7f478b" opacity="0.85" transform="rotate(113 1919.98 2178.77)"/><ellipse cx="1887.1" cy="2178.35" rx="3.64" ry="3.52" fill="#7f478b" opacity="0.75" transform="rotate(5 1887.1 2178.35)"/><ellipse cx="1905.7" cy="2169.2" rx="3.71" ry="3.23" fill="#93589a" opacity="0.95" transform="rotate(75 1905.7 2169.2)"/><ellipse cx="1973.74" cy="2142.99" rx="3.73" ry="3.3" fill="#93589a" opacity="0.95" transform="rotate(110 1973.74 2142.99)"/><ellipse cx="1892.19" cy="2193.99" rx="4.56" ry="3.55" fill="#7f478b" opacity="0.85" transform="rotate(93 1892.19 2193.99)"/><ellipse cx="1968.8" cy="2152.51" rx="5" ry="3.27" fill="#8a4f93" opacity="0.85" transform="rotate(67 1968.8 2152.51)"/><ellipse cx="1954.2" cy="2213.31" rx="4.86" ry="3.11" fill="#7f478b" opacity="0.95" transform="rotate(63 1954.2 2213.31)"/><ellipse cx="1945.68" cy="2243.86" rx="4.43" ry="3.53" fill="#8a4f93" opacity="0.75" transform="rotate(109 1945.68 2243.86)"/><ellipse cx="1893.68" cy="2154.38" rx="3.85" ry="3.06" fill="#93589a" opacity="0.85" transform="rotate(169 1893.68 2154.38)"/><ellipse cx="1957.95" cy="2240.64" rx="4.53" ry="3.53" fill="#93589a" opacity="0.85" transform="rotate(88 1957.95 2240.64)"/><ellipse cx="1976.49" cy="2209.55" rx="4.3" ry="3.82" fill="#93589a" opacity="0.75" transform="rotate(129 1976.49 2209.55)"/><ellipse cx="1947.31" cy="2197.33" rx="4.32" ry="3.35" fill="#93589a" opacity="0.85" transform="rotate(161 1947.31 2197.33)"/><ellipse cx="1889.19" cy="2213.88" rx="4.93" ry="3.67" fill="#93589a" opacity="0.95" transform="rotate(52 1889.19 2213.88)"/><ellipse cx="1946.33" cy="2158.35" rx="3.53" ry="3.81" fill="#7f478b" opacity="0.85" transform="rotate(118 1946.33 2158.35)"/><ellipse cx="1910.67" cy="2163.55" rx="3.74" ry="3.69" fill="#7f478b" opacity="0.95" transform="rotate(48 1910.67 2163.55)"/><ellipse cx="1976.33" cy="2222.44" rx="3.83" ry="2.83" fill="#8a4f93" opacity="0.75" transform="rotate(133 1976.33 2222.44)"/><ellipse cx="1910.6" cy="2199.65" rx="3.48" ry="3.79" fill="#8a4f93" opacity="0.75" transform="rotate(40 1910.6 2199.65)"/><ellipse cx="1921.82" cy="2242.24" rx="3.56" ry="3.1" fill="#7f478b" opacity="0.75" transform="rotate(85 1921.82 2242.24)"/><ellipse cx="1886.26" cy="2232" rx="3.41" ry="3.36" fill="#93589a" opacity="0.95" transform="rotate(167 1886.26 2232)"/><ellipse cx="1879.52" cy="2181.59" rx="4.9" ry="3.75" fill="#8a4f93" opacity="0.85" transform="rotate(85 1879.52 2181.59)"/><ellipse cx="1933.14" cy="2153.3" rx="3.91" ry="3.48" fill="#8a4f93" opacity="0.95" transform="rotate(163 1933.14 2153.3)"/><ellipse cx="1905.98" cy="2147.99" rx="4.32" ry="3.34" fill="#8a4f93" opacity="0.75" transform="rotate(130 1905.98 2147.99)"/><ellipse cx="1921.65" cy="2193.95" rx="4.07" ry="3.71" fill="#8a4f93" opacity="0.85" transform="rotate(168 1921.65 2193.95)"/><ellipse cx="1930.65" cy="2201.25" rx="4.66" ry="2.92" fill="#93589a" opacity="0.75" transform="rotate(134 1930.65 2201.25)"/><ellipse cx="1953.45" cy="2153.68" rx="3.41" ry="3.38" fill="#93589a" opacity="0.85" transform="rotate(19 1953.45 2153.68)"/><ellipse cx="1925.55" cy="2230.33" rx="4.13" ry="3.47" fill="#8a4f93" opacity="0.95" transform="rotate(94 1925.55 2230.33)"/><ellipse cx="1960.15" cy="2194.03" rx="4.15" ry="2.93" fill="#8a4f93" opacity="0.95" transform="rotate(20 1960.15 2194.03)"/><ellipse cx="1904.62" cy="2157.1" rx="4.13" ry="3.01" fill="#7f478b" opacity="0.85" transform="rotate(33 1904.62 2157.1)"/><ellipse cx="1971.03" cy="2163.68" rx="4.67" ry="3.38" fill="#8a4f93" opacity="0.95" transform="rotate(136 1971.03 2163.68)"/><ellipse cx="1972.37" cy="2194.11" rx="4.77" ry="3.78" fill="#7f478b" opacity="0.85" transform="rotate(148 1972.37 2194.11)"/><ellipse cx="1893.27" cy="2239.47" rx="3.54" ry="3.5" fill="#8a4f93" opacity="0.85" transform="rotate(33 1893.27 2239.47)"/><ellipse cx="1940.1" cy="2201.67" rx="3.92" ry="3" fill="#8a4f93" opacity="0.85" transform="rotate(46 1940.1 2201.67)"/><ellipse cx="1938.36" cy="2233.84" rx="4.61" ry="3.84" fill="#7f478b" opacity="0.95" transform="rotate(54 1938.36 2233.84)"/><ellipse cx="1876.94" cy="2229.87" rx="3.42" ry="3.48" fill="#8a4f93" opacity="0.95" transform="rotate(124 1876.94 2229.87)"/><ellipse cx="1881.15" cy="2238.66" rx="3.59" ry="3.07" fill="#7f478b" opacity="0.95" transform="rotate(72 1881.15 2238.66)"/><ellipse cx="1953.79" cy="2167.74" rx="4.63" ry="3.53" fill="#93589a" opacity="0.85" transform="rotate(114 1953.79 2167.74)"/><ellipse cx="1937.69" cy="2143.44" rx="4.38" ry="2.96" fill="#8a4f93" opacity="0.85" transform="rotate(24 1937.69 2143.44)"/><ellipse cx="1940.19" cy="2171.63" rx="4.6" ry="3.43" fill="#7f478b" opacity="0.85" transform="rotate(74 1940.19 2171.63)"/><ellipse cx="1898.39" cy="2224.02" rx="4.61" ry="3.66" fill="#8a4f93" opacity="0.95" transform="rotate(148 1898.39 2224.02)"/><ellipse cx="1915.36" cy="2187.33" rx="4.61" ry="3.75" fill="#93589a" opacity="0.95" transform="rotate(14 1915.36 2187.33)"/><ellipse cx="1963.31" cy="2173.41" rx="4.53" ry="2.79" fill="#8a4f93" opacity="0.95" transform="rotate(101 1963.31 2173.41)"/><ellipse cx="1976.64" cy="2176.11" rx="4.84" ry="2.94" fill="#8a4f93" opacity="0.85" transform="rotate(96 1976.64 2176.11)"/><ellipse cx="1963.6" cy="2183.66" rx="4.77" ry="3.23" fill="#7f478b" opacity="0.95" transform="rotate(122 1963.6 2183.66)"/><ellipse cx="1973.97" cy="2233.87" rx="4.18" ry="3.78" fill="#8a4f93" opacity="0.85" transform="rotate(80 1973.97 2233.87)"/><ellipse cx="1877.72" cy="2169.48" rx="3.61" ry="3.2" fill="#7f478b" opacity="0.85" transform="rotate(101 1877.72 2169.48)"/><ellipse cx="1886.7" cy="2167.73" rx="4.48" ry="3.07" fill="#93589a" opacity="0.75" transform="rotate(3 1886.7 2167.73)"/><ellipse cx="1877.36" cy="2145.61" rx="4.59" ry="3.39" fill="#93589a" opacity="0.95" transform="rotate(8 1877.36 2145.61)"/><ellipse cx="1931.76" cy="2177.89" rx="3.5" ry="3.89" fill="#8a4f93" opacity="0.85" transform="rotate(168 1931.76 2177.89)"/><ellipse cx="1902.99" cy="2180.36" rx="3.45" ry="3.19" fill="#7f478b" opacity="0.95" transform="rotate(138 1902.99 2180.36)"/>
<ellipse cx="1903" cy="2150" rx="7" ry="5" fill="#f6f0f4"/><path d="M1935 2146L1965 2175L1970 2172L1943 2143Z" fill="#f2e8f0"/><path d="M1893 2215L1925 2238L1922 2242L1890 2220Z" fill="#f2e8f0"/>
</g>
<rect x="1474" y="2138.3" width="109.3" height="107.7" fill="none" stroke="#000" stroke-width="2.6"/>
<rect x="1606.3" y="2138.3" width="109.3" height="107.7" fill="none" stroke="#000" stroke-width="2.6"/>
<rect x="1738.4" y="2138.3" width="109.3" height="107.7" fill="none" stroke="#000" stroke-width="2.6"/>
<rect x="1870.6" y="2138.3" width="109.3" height="107.7" fill="none" stroke="#000" stroke-width="2.6"/>
<text x="1442" y="1242.6" font-size="39" font-weight="bold">h</text>
</g>
<g id="p_i">
<text x="338.5" y="1834.3" font-size="29.6" text-anchor="middle">Ground Truth</text>
<g transform="translate(55 1850) scale(0.32967)">
<g filter="url(#iwob)">
<use href="#icl" stroke="#f3f2f3" stroke-width="140" stroke-linecap="round" stroke-linejoin="round"/>
<use href="#icl" stroke="#62dc3c" stroke-width="99" stroke-linecap="round" stroke-linejoin="round"/>
<use href="#icl" stroke="#fbfafb" stroke-width="94.5" stroke-linecap="round" stroke-linejoin="round"/>
<use href="#icl" stroke="#e5abc2" stroke-width="84" stroke-linecap="round" stroke-linejoin="round"/>
<g mask="url(#istripg)">
<ellipse cx="285" cy="395" rx="40" ry="28" fill="url(#scrM)"/>
<ellipse cx="190" cy="630" rx="38" ry="36" fill="url(#scrM)"/>
<ellipse cx="855" cy="325" rx="40" ry="30" fill="url(#scrM)"/>
<ellipse cx="1400" cy="545" rx="75" ry="55" fill="url(#scrM)"/>
<ellipse cx="1500" cy="600" rx="70" ry="60" fill="url(#scrM)"/>
<ellipse cx="1600" cy="700" rx="80" ry="90" fill="url(#scrM)"/>
<ellipse cx="1670" cy="800" rx="70" ry="90" fill="url(#scrM)"/>
<ellipse cx="1715" cy="880" rx="55" ry="60" fill="url(#scrM)"/>
<ellipse cx="560" cy="130" rx="40" ry="25" fill="url(#scrM)"/>
<ellipse cx="230" cy="520" rx="20" ry="25" fill="url(#scrM)"/>
<ellipse cx="480" cy="130" rx="25" ry="25" fill="url(#scrM)"/>
<ellipse cx="100" cy="1090" rx="30" ry="40" fill="url(#scrM)"/>
<ellipse cx="770" cy="270" rx="30" ry="25" fill="url(#scrM)"/>
<ellipse cx="1180" cy="490" rx="30" ry="20" fill="url(#scrM)"/>
<ellipse cx="650" cy="135" rx="55" ry="40" fill="url(#scrK)"/>
<ellipse cx="745" cy="235" rx="42" ry="50" fill="url(#scrK)"/>
<ellipse cx="395" cy="245" rx="50" ry="60" fill="url(#scrK)"/>
<ellipse cx="315" cy="345" rx="42" ry="50" fill="url(#scrK)"/>
<ellipse cx="260" cy="455" rx="45" ry="50" fill="url(#scrK)"/>
<ellipse cx="230" cy="560" rx="40" ry="40" fill="url(#scrK)"/>
<ellipse cx="165" cy="780" rx="60" ry="95" fill="url(#scrK)"/>
<ellipse cx="95" cy="1040" rx="40" ry="35" fill="url(#scrK)"/>
<ellipse cx="120" cy="900" rx="30" ry="30" fill="url(#scrK)"/>
<ellipse cx="1080" cy="460" rx="85" ry="50" fill="url(#scrK)"/>
<ellipse cx="1280" cy="515" rx="55" ry="48" fill="url(#scrK)"/>
<ellipse cx="1550" cy="630" rx="95" ry="70" fill="url(#scrK)"/>
<ellipse cx="1470" cy="570" rx="40" ry="30" fill="url(#scrK)"/>
<ellipse cx="1640" cy="700" rx="30" ry="40" fill="url(#scrK)"/>
<ellipse cx="200" cy="680" rx="30" ry="30" fill="url(#scrK)"/>
<ellipse cx="530" cy="115" rx="45" ry="25" fill="url(#scrB)"/>
<ellipse cx="790" cy="300" rx="35" ry="35" fill="url(#scrB)"/>
<ellipse cx="920" cy="390" rx="45" ry="30" fill="url(#scrB)"/>
<ellipse cx="980" cy="415" rx="35" ry="30" fill="url(#scrB)"/>
<ellipse cx="700" cy="215" rx="20" ry="25" fill="url(#scrB)"/>
<ellipse cx="1140" cy="510" rx="40" ry="15" fill="url(#scrB)"/>
<ellipse cx="80" cy="1140" rx="40" ry="30" fill="url(#scrB)"/>
<ellipse cx="95" cy="985" rx="25" ry="25" fill="url(#scrB)"/>
</g>
</g>
<rect x="608" y="76" width="30" height="32" fill="none" stroke="#f2e000" stroke-width="3"/><rect x="1428" y="505" width="32" height="64" fill="none" stroke="#f2e000" stroke-width="3"/><rect x="1724" y="833" width="30" height="30" fill="none" stroke="#f2e000" stroke-width="3"/>
<rect x="68" y="1159" width="129" height="8" fill="#000"/><text x="130" y="1192" font-size="13" font-weight="bold" text-anchor="middle">400 µm</text>
<rect x="393" y="497" width="500" height="670" fill="#fff" stroke="#111" stroke-width="8" stroke-dasharray="34 19"/>
<rect x="441" y="572" width="90" height="85" fill="none" stroke="#1414ff" stroke-width="8"/>
<rect x="441" y="790" width="90" height="85" fill="none" stroke="#ff14f0" stroke-width="8"/>
<rect x="441" y="1005" width="87" height="85" fill="none" stroke="#111" stroke-width="9"/>
<path d="M452 826L486 862Q505 810 545 775" fill="none" stroke="#3a3a3a" stroke-width="20" stroke-linejoin="round"/>
<path d="M452 1040L486 1078Q505 1025 545 990" fill="none" stroke="#3a3a3a" stroke-width="20" stroke-linejoin="round"/>
<text x="578" y="645" font-size="64" fill="#1414ff" style="stroke:#1414ff;stroke-width:1px">Gleason 3</text>
<text x="578" y="860" font-size="64" fill="#ff14f0" style="stroke:#ff14f0;stroke-width:1px">Gleason 4</text>
<text x="575" y="1078" font-size="64" fill="#000" style="stroke-width:1px">Gleason 5</text>
</g>
<rect x="63.2" y="1855.1" width="581.3" height="397.9" fill="none" stroke="#000" stroke-width="2.9"/>
<text x="960.8" y="1834.8" font-size="29.6" text-anchor="middle">Prediction</text>
<g transform="translate(665 1850) scale(0.32967)">
<g filter="url(#iwob)">
<use href="#icl" stroke="#f4f3f5" stroke-width="125" stroke-linecap="round" stroke-linejoin="round"/>
<g filter="url(#ihalo)" opacity="0.55"><use href="#icl" stroke="#b9c8e8" stroke-width="88" stroke-linecap="round" stroke-linejoin="round"/></g>
<use href="#icl" stroke="#a9c8b2" stroke-width="70" stroke-linecap="round" stroke-linejoin="round"/>
<g mask="url(#istrip)" opacity="0.88">
<ellipse cx="105" cy="1150" rx="50" ry="50" fill="#8168d6" opacity="0.95" filter="url(#ib)"/>
<ellipse cx="85" cy="1030" rx="70" ry="60" fill="#efa562" opacity="0.95" filter="url(#ib)"/>
<ellipse cx="95" cy="945" rx="40" ry="30" fill="#8168d6" opacity="0.95" filter="url(#ib)"/>
<ellipse cx="100" cy="890" rx="40" ry="35" fill="#efa562" opacity="0.95" filter="url(#ib)"/>
<ellipse cx="140" cy="790" rx="50" ry="60" fill="#8fc2b8" opacity="0.95" filter="url(#ib)"/>
<ellipse cx="150" cy="800" rx="25" ry="30" fill="#e2cf78" opacity="0.95" filter="url(#ib)"/>
<ellipse cx="205" cy="620" rx="50" ry="45" fill="#efa562" opacity="0.95" filter="url(#ib)"/>
<ellipse cx="240" cy="500" rx="40" ry="55" fill="#8fc2b8" opacity="0.95" filter="url(#ib)"/>
<ellipse cx="250" cy="420" rx="35" ry="30" fill="#efa562" opacity="0.95" filter="url(#ib)"/>
<ellipse cx="300" cy="340" rx="45" ry="45" fill="#8fc2b8" opacity="0.95" filter="url(#ib)"/>
<ellipse cx="380" cy="245" rx="45" ry="45" fill="#efa562" opacity="0.95" filter="url(#ib)"/>
<ellipse cx="380" cy="245" rx="25" ry="25" fill="#e2cf78" opacity="0.95" filter="url(#ib)"/>
<ellipse cx="440" cy="170" rx="35" ry="30" fill="#8fc2b8" opacity="0.95" filter="url(#ib)"/>
<ellipse cx="480" cy="118" rx="35" ry="30" fill="#efa562" opacity="0.95" filter="url(#ib)"/>
<ellipse cx="545" cy="95" rx="45" ry="35" fill="#8168d6" opacity="0.95" filter="url(#ib)"/>
<ellipse cx="640" cy="120" rx="55" ry="45" fill="#efa562" opacity="0.95" filter="url(#ib)"/>
<ellipse cx="700" cy="190" rx="35" ry="35" fill="#8168d6" opacity="0.95" filter="url(#ib)"/>
<ellipse cx="742" cy="245" rx="45" ry="40" fill="#efa562" opacity="0.95" filter="url(#ib)"/>
<ellipse cx="800" cy="310" rx="45" ry="40" fill="#8168d6" opacity="0.95" filter="url(#ib)"/>
<ellipse cx="860" cy="325" rx="35" ry="30" fill="#efa562" opacity="0.95" filter="url(#ib)"/>
<ellipse cx="930" cy="390" rx="60" ry="40" fill="#8168d6" opacity="0.95" filter="url(#ib)"/>
<ellipse cx="1070" cy="455" rx="90" ry="50" fill="#efa562" opacity="0.95" filter="url(#ib)"/>
<ellipse cx="1190" cy="495" rx="45" ry="40" fill="#8168d6" opacity="0.95" filter="url(#ib)"/>
<ellipse cx="1280" cy="520" rx="50" ry="45" fill="#efa562" opacity="0.95" filter="url(#ib)"/>
<ellipse cx="1350" cy="512" rx="30" ry="28" fill="#7aa8d8" opacity="0.95" filter="url(#ib)"/>
<ellipse cx="1450" cy="550" rx="70" ry="45" fill="#efa562" opacity="0.95" filter="url(#ib)"/>
<ellipse cx="1560" cy="620" rx="60" ry="50" fill="#efa562" opacity="0.95" filter="url(#ib)"/>
<ellipse cx="1670" cy="740" rx="50" ry="50" fill="#efa562" opacity="0.95" filter="url(#ib)"/>
<ellipse cx="1730" cy="830" rx="55" ry="65" fill="#efa562" opacity="0.95" filter="url(#ib)"/>
<ellipse cx="1692" cy="905" rx="30" ry="22" fill="#e2cf78" opacity="0.95" filter="url(#ib)"/>
<ellipse cx="1690" cy="870" rx="30" ry="20" fill="#8fc2b8" opacity="0.95" filter="url(#ib)"/>
<ellipse cx="85" cy="1030" rx="45" ry="40" fill="#e8604c" opacity="0.9" filter="url(#ib)"/>
<ellipse cx="640" cy="120" rx="35" ry="30" fill="#e8604c" opacity="0.9" filter="url(#ib)"/>
<ellipse cx="742" cy="245" rx="30" ry="28" fill="#e8604c" opacity="0.9" filter="url(#ib)"/>
<ellipse cx="1070" cy="455" rx="65" ry="32" fill="#e8604c" opacity="0.9" filter="url(#ib)"/>
<ellipse cx="1280" cy="520" rx="32" ry="30" fill="#e8604c" opacity="0.9" filter="url(#ib)"/>
<ellipse cx="1480" cy="560" rx="45" ry="30" fill="#e8604c" opacity="0.9" filter="url(#ib)"/>
<ellipse cx="1620" cy="680" rx="50" ry="45" fill="#e8604c" opacity="0.9" filter="url(#ib)"/>
<ellipse cx="1700" cy="765" rx="35" ry="35" fill="#e8604c" opacity="0.9" filter="url(#ib)"/>
<ellipse cx="1730" cy="830" rx="40" ry="50" fill="#e8604c" opacity="0.9" filter="url(#ib)"/>
</g>
</g>
</g>
<rect x="672.8" y="1855.1" width="581.8" height="397.9" fill="none" stroke="#000" stroke-width="2.9"/>
<clipPath id="ipc0"><rect x="1286" y="1856" width="95.5" height="95.5"/></clipPath>
<g clip-path="url(#ipc0)"><g transform="translate(1286 1856)">
<rect width="95.5" height="95.5" fill="#ec9ab5"/>
<rect width="95.5" height="95.5" fill="#000" filter="url(#iq0)" opacity="0.5"/>
<ellipse cx="22.24" cy="16.3" rx="1.95" ry="1.05" fill="#6a4684" opacity="0.85" transform="rotate(93 22.24 16.3)"/><ellipse cx="4.45" cy="2.84" rx="1.51" ry="1.06" fill="#8b5f9c" opacity="0.85" transform="rotate(17 4.45 2.84)"/><ellipse cx="25.8" cy="22.61" rx="1.36" ry="1.4" fill="#7a528f" opacity="0.85" transform="rotate(161 25.8 22.61)"/><ellipse cx="6.73" cy="-2.65" rx="1.88" ry="1.28" fill="#7a528f" opacity="0.85" transform="rotate(11 6.73 -2.65)"/><ellipse cx="19.59" cy="10.43" rx="1.72" ry="1.38" fill="#5c3c78" opacity="0.85" transform="rotate(143 19.59 10.43)"/><ellipse cx="27.75" cy="7.15" rx="1.88" ry="1.45" fill="#5c3c78" opacity="0.85" transform="rotate(24 27.75 7.15)"/><ellipse cx="21.28" cy="11.11" rx="1.36" ry="1.14" fill="#8b5f9c" opacity="0.85" transform="rotate(80 21.28 11.11)"/><ellipse cx="1.09" cy="16.08" rx="1.66" ry="1.17" fill="#7a528f" opacity="0.85" transform="rotate(178 1.09 16.08)"/><ellipse cx="25.83" cy="8.59" rx="1.6" ry="1.35" fill="#5c3c78" opacity="0.85" transform="rotate(114 25.83 8.59)"/><ellipse cx="17.86" cy="34.86" rx="1.42" ry="1.29" fill="#5c3c78" opacity="0.85" transform="rotate(38 17.86 34.86)"/><ellipse cx="35.32" cy="8.42" rx="2.26" ry="1.05" fill="#5c3c78" opacity="0.85" transform="rotate(87 35.32 8.42)"/><ellipse cx="20.11" cy="1.38" rx="1.88" ry="1.32" fill="#6a4684" opacity="0.85" transform="rotate(69 20.11 1.38)"/><ellipse cx="9.26" cy="14.01" rx="1.36" ry="1.49" fill="#8b5f9c" opacity="0.85" transform="rotate(72 9.26 14.01)"/><ellipse cx="20.31" cy="-5.16" rx="1.65" ry="1.66" fill="#5c3c78" opacity="0.85" transform="rotate(43 20.31 -5.16)"/><ellipse cx="15.34" cy="5.71" rx="1.52" ry="1.2" fill="#7a528f" opacity="0.85" transform="rotate(101 15.34 5.71)"/><ellipse cx="8.06" cy="22.77" rx="1.38" ry="1.31" fill="#5c3c78" opacity="0.85" transform="rotate(35 8.06 22.77)"/><ellipse cx="34.1" cy="-3.21" rx="1.58" ry="1.29" fill="#5c3c78" opacity="0.85" transform="rotate(174 34.1 -3.21)"/><ellipse cx="45.29" cy="-2.05" rx="1.45" ry="1.12" fill="#7a528f" opacity="0.85" transform="rotate(168 45.29 -2.05)"/><ellipse cx="26.3" cy="21.62" rx="1.89" ry="1.18" fill="#6a4684" opacity="0.85" transform="rotate(37 26.3 21.62)"/><ellipse cx="15.95" cy="15.93" rx="1.87" ry="1.67" fill="#6a4684" opacity="0.85" transform="rotate(116 15.95 15.93)"/><ellipse cx="40.17" cy="3.37" rx="2.17" ry="1.56" fill="#8b5f9c" opacity="0.85" transform="rotate(101 40.17 3.37)"/><ellipse cx="20.93" cy="14.33" rx="1.93" ry="1.04" fill="#6a4684" opacity="0.85" transform="rotate(53 20.93 14.33)"/><ellipse cx="20.15" cy="13.48" rx="1.9" ry="1.07" fill="#7a528f" opacity="0.85" transform="rotate(137 20.15 13.48)"/><ellipse cx="33.25" cy="16.75" rx="1.33" ry="1.61" fill="#8b5f9c" opacity="0.85" transform="rotate(38 33.25 16.75)"/><ellipse cx="7.11" cy="-3.67" rx="1.9" ry="1.33" fill="#6a4684" opacity="0.85" transform="rotate(124 7.11 -3.67)"/><ellipse cx="37.09" cy="11.59" rx="1.78" ry="1.06" fill="#6a4684" opacity="0.85" transform="rotate(87 37.09 11.59)"/><ellipse cx="24.25" cy="2.43" rx="1.99" ry="1.36" fill="#7a528f" opacity="0.85" transform="rotate(135 24.25 2.43)"/><ellipse cx="14.32" cy="21.82" rx="2.21" ry="1.53" fill="#5c3c78" opacity="0.85" transform="rotate(164 14.32 21.82)"/><ellipse cx="35.89" cy="2.18" rx="1.56" ry="1.26" fill="#7a528f" opacity="0.85" transform="rotate(91 35.89 2.18)"/><ellipse cx="26.83" cy="1.74" rx="2.08" ry="1.23" fill="#7a528f" opacity="0.85" transform="rotate(156 26.83 1.74)"/><ellipse cx="73.1" cy="11.03" rx="2.15" ry="1.56" fill="#8b5f9c" opacity="0.85" transform="rotate(58 73.1 11.03)"/><ellipse cx="64.33" cy="51.97" rx="2.03" ry="1.69" fill="#5c3c78" opacity="0.85" transform="rotate(120 64.33 51.97)"/><ellipse cx="58.94" cy="56.56" rx="2.26" ry="1.31" fill="#5c3c78" opacity="0.85" transform="rotate(93 58.94 56.56)"/><ellipse cx="64.87" cy="42.43" rx="1.77" ry="1.24" fill="#8b5f9c" opacity="0.85" transform="rotate(159 64.87 42.43)"/><ellipse cx="76.4" cy="38.63" rx="1.3" ry="1.64" fill="#5c3c78" opacity="0.85" transform="rotate(164 76.4 38.63)"/><ellipse cx="75.2" cy="48.06" rx="2.21" ry="1.55" fill="#7a528f" opacity="0.85" transform="rotate(122 75.2 48.06)"/><ellipse cx="69.81" cy="32.6" rx="1.94" ry="1.06" fill="#8b5f9c" opacity="0.85" transform="rotate(118 69.81 32.6)"/><ellipse cx="36.34" cy="55.19" rx="2.02" ry="1.12" fill="#7a528f" opacity="0.85" transform="rotate(7 36.34 55.19)"/><ellipse cx="75.15" cy="59.05" rx="2.11" ry="1.1" fill="#8b5f9c" opacity="0.85" transform="rotate(168 75.15 59.05)"/><ellipse cx="66.45" cy="37.59" rx="1.85" ry="1.01" fill="#6a4684" opacity="0.85" transform="rotate(134 66.45 37.59)"/><ellipse cx="59.98" cy="34.09" rx="2.29" ry="1.14" fill="#7a528f" opacity="0.85" transform="rotate(7 59.98 34.09)"/><ellipse cx="59.88" cy="48.99" rx="1.54" ry="1.41" fill="#5c3c78" opacity="0.85" transform="rotate(139 59.88 48.99)"/><ellipse cx="54.44" cy="42.79" rx="2.21" ry="1.25" fill="#8b5f9c" opacity="0.85" transform="rotate(169 54.44 42.79)"/><ellipse cx="37.49" cy="28.3" rx="1.72" ry="1.64" fill="#7a528f" opacity="0.85" transform="rotate(136 37.49 28.3)"/><ellipse cx="68.3" cy="50.53" rx="2.17" ry="1.54" fill="#6a4684" opacity="0.85" transform="rotate(38 68.3 50.53)"/><ellipse cx="66.37" cy="50.81" rx="2.03" ry="1.39" fill="#5c3c78" opacity="0.85" transform="rotate(174 66.37 50.81)"/><ellipse cx="44.82" cy="38.42" rx="2.08" ry="1.07" fill="#6a4684" opacity="0.85" transform="rotate(63 44.82 38.42)"/><ellipse cx="61.27" cy="42.96" rx="1.4" ry="1.32" fill="#6a4684" opacity="0.85" transform="rotate(16 61.27 42.96)"/><ellipse cx="44.52" cy="45.19" rx="1.81" ry="1.36" fill="#5c3c78" opacity="0.85" transform="rotate(115 44.52 45.19)"/><ellipse cx="38.25" cy="39" rx="1.81" ry="1.17" fill="#5c3c78" opacity="0.85" transform="rotate(143 38.25 39)"/><ellipse cx="66.31" cy="35.47" rx="1.75" ry="1.29" fill="#8b5f9c" opacity="0.85" transform="rotate(113 66.31 35.47)"/><ellipse cx="52.79" cy="54.74" rx="1.73" ry="1.15" fill="#5c3c78" opacity="0.85" transform="rotate(31 52.79 54.74)"/><ellipse cx="65.55" cy="36.23" rx="2.02" ry="1.46" fill="#7a528f" opacity="0.85" transform="rotate(64 65.55 36.23)"/><ellipse cx="83.28" cy="21.01" rx="1.52" ry="1.67" fill="#8b5f9c" opacity="0.85" transform="rotate(124 83.28 21.01)"/><ellipse cx="69.28" cy="53.69" rx="1.52" ry="1.49" fill="#8b5f9c" opacity="0.85" transform="rotate(86 69.28 53.69)"/><ellipse cx="50.08" cy="44.81" rx="1.39" ry="1.26" fill="#5c3c78" opacity="0.85" transform="rotate(141 50.08 44.81)"/><ellipse cx="41.92" cy="44.32" rx="1.68" ry="1.36" fill="#5c3c78" opacity="0.85" transform="rotate(131 41.92 44.32)"/><ellipse cx="65.69" cy="38.71" rx="2.22" ry="1.16" fill="#6a4684" opacity="0.85" transform="rotate(21 65.69 38.71)"/><ellipse cx="59.67" cy="43.06" rx="2.08" ry="1.19" fill="#7a528f" opacity="0.85" transform="rotate(108 59.67 43.06)"/><ellipse cx="70.55" cy="26.86" rx="2.25" ry="1.28" fill="#8b5f9c" opacity="0.85" transform="rotate(179 70.55 26.86)"/><ellipse cx="55.48" cy="47.73" rx="2.1" ry="1.13" fill="#6a4684" opacity="0.85" transform="rotate(68 55.48 47.73)"/><ellipse cx="75.76" cy="34.21" rx="2.1" ry="1.06" fill="#7a528f" opacity="0.85" transform="rotate(17 75.76 34.21)"/><ellipse cx="59.45" cy="45.48" rx="1.31" ry="1.7" fill="#8b5f9c" opacity="0.85" transform="rotate(68 59.45 45.48)"/><ellipse cx="57.43" cy="37.78" rx="2.01" ry="1.66" fill="#7a528f" opacity="0.85" transform="rotate(67 57.43 37.78)"/><ellipse cx="67.66" cy="42.26" rx="1.61" ry="1.21" fill="#7a528f" opacity="0.85" transform="rotate(74 67.66 42.26)"/><ellipse cx="43.11" cy="45.4" rx="1.57" ry="1.56" fill="#5c3c78" opacity="0.85" transform="rotate(9 43.11 45.4)"/><ellipse cx="79.41" cy="41.69" rx="1.85" ry="1.13" fill="#8b5f9c" opacity="0.85" transform="rotate(62 79.41 41.69)"/><ellipse cx="65.22" cy="37.96" rx="2.12" ry="1.3" fill="#8b5f9c" opacity="0.85" transform="rotate(139 65.22 37.96)"/><ellipse cx="66.08" cy="30.7" rx="1.81" ry="1.48" fill="#7a528f" opacity="0.85" transform="rotate(87 66.08 30.7)"/><ellipse cx="67.87" cy="61.17" rx="2.03" ry="1.1" fill="#5c3c78" opacity="0.85" transform="rotate(13 67.87 61.17)"/><ellipse cx="52.54" cy="45.83" rx="1.93" ry="1.62" fill="#8b5f9c" opacity="0.85" transform="rotate(41 52.54 45.83)"/><ellipse cx="90.05" cy="64.53" rx="1.68" ry="1.35" fill="#5c3c78" opacity="0.85" transform="rotate(153 90.05 64.53)"/><ellipse cx="51.17" cy="73.96" rx="1.76" ry="1.11" fill="#8b5f9c" opacity="0.85" transform="rotate(0 51.17 73.96)"/><ellipse cx="43.88" cy="123.34" rx="2.27" ry="1.38" fill="#7a528f" opacity="0.85" transform="rotate(8 43.88 123.34)"/><ellipse cx="74.21" cy="44.69" rx="1.66" ry="1" fill="#8b5f9c" opacity="0.85" transform="rotate(21 74.21 44.69)"/><ellipse cx="16.39" cy="55.4" rx="1.5" ry="1.35" fill="#6a4684" opacity="0.85" transform="rotate(23 16.39 55.4)"/><ellipse cx="48.89" cy="62.44" rx="1.7" ry="1.03" fill="#6a4684" opacity="0.85" transform="rotate(76 48.89 62.44)"/><ellipse cx="42.99" cy="69.76" rx="1.89" ry="1.37" fill="#7a528f" opacity="0.85" transform="rotate(168 42.99 69.76)"/><ellipse cx="89.41" cy="18.55" rx="1.9" ry="1.54" fill="#8b5f9c" opacity="0.85" transform="rotate(38 89.41 18.55)"/><ellipse cx="41.48" cy="89.07" rx="1.44" ry="1.58" fill="#8b5f9c" opacity="0.85" transform="rotate(179 41.48 89.07)"/><ellipse cx="56.01" cy="35.41" rx="1.82" ry="1.35" fill="#6a4684" opacity="0.85" transform="rotate(175 56.01 35.41)"/><ellipse cx="-2.57" cy="19.33" rx="1.98" ry="1.49" fill="#7a528f" opacity="0.85" transform="rotate(21 -2.57 19.33)"/><ellipse cx="65.1" cy="52.99" rx="1.66" ry="1.07" fill="#8b5f9c" opacity="0.85" transform="rotate(142 65.1 52.99)"/><ellipse cx="55.33" cy="51.76" rx="1.83" ry="1.17" fill="#5c3c78" opacity="0.85" transform="rotate(0 55.33 51.76)"/><ellipse cx="39.42" cy="52.93" rx="2.23" ry="1.63" fill="#6a4684" opacity="0.85" transform="rotate(168 39.42 52.93)"/><ellipse cx="2.97" cy="42.25" rx="1.77" ry="1.57" fill="#5c3c78" opacity="0.85" transform="rotate(60 2.97 42.25)"/><ellipse cx="47.47" cy="30.64" rx="2.04" ry="1.68" fill="#8b5f9c" opacity="0.85" transform="rotate(97 47.47 30.64)"/><ellipse cx="106.06" cy="79.34" rx="1.59" ry="1.03" fill="#7a528f" opacity="0.85" transform="rotate(19 106.06 79.34)"/><ellipse cx="29.05" cy="34.84" rx="1.95" ry="1.49" fill="#7a528f" opacity="0.85" transform="rotate(3 29.05 34.84)"/><ellipse cx="16.99" cy="53.66" rx="2.27" ry="1.07" fill="#7a528f" opacity="0.85" transform="rotate(172 16.99 53.66)"/><ellipse cx="4.85" cy="52.95" rx="1.59" ry="1.33" fill="#6a4684" opacity="0.85" transform="rotate(140 4.85 52.95)"/><ellipse cx="74.96" cy="125.62" rx="2.24" ry="1.01" fill="#8b5f9c" opacity="0.85" transform="rotate(19 74.96 125.62)"/><ellipse cx="82.15" cy="-18.43" rx="1.75" ry="1.19" fill="#7a528f" opacity="0.85" transform="rotate(53 82.15 -18.43)"/><ellipse cx="61.18" cy="55.66" rx="2.05" ry="1.18" fill="#5c3c78" opacity="0.85" transform="rotate(33 61.18 55.66)"/><ellipse cx="17.58" cy="25.38" rx="1.58" ry="1.08" fill="#5c3c78" opacity="0.85" transform="rotate(59 17.58 25.38)"/><ellipse cx="-8.86" cy="50.78" rx="1.69" ry="1.11" fill="#8b5f9c" opacity="0.85" transform="rotate(174 -8.86 50.78)"/><ellipse cx="26.74" cy="57.44" rx="1.44" ry="1.24" fill="#5c3c78" opacity="0.85" transform="rotate(30 26.74 57.44)"/><ellipse cx="50.91" cy="48.57" rx="2.05" ry="1.59" fill="#6a4684" opacity="0.85" transform="rotate(50 50.91 48.57)"/><ellipse cx="35.72" cy="-10.35" rx="1.59" ry="1.26" fill="#8b5f9c" opacity="0.85" transform="rotate(99 35.72 -10.35)"/><ellipse cx="88.41" cy="49.71" rx="1.66" ry="1.3" fill="#5c3c78" opacity="0.85" transform="rotate(12 88.41 49.71)"/><ellipse cx="48.21" cy="59.2" rx="1.96" ry="1.44" fill="#7a528f" opacity="0.85" transform="rotate(63 48.21 59.2)"/><ellipse cx="80.33" cy="44.42" rx="1.62" ry="1.54" fill="#8b5f9c" opacity="0.85" transform="rotate(7 80.33 44.42)"/><ellipse cx="65.43" cy="12.38" rx="2.21" ry="1.66" fill="#7a528f" opacity="0.85" transform="rotate(20 65.43 12.38)"/><ellipse cx="94.52" cy="64.3" rx="1.75" ry="1.53" fill="#5c3c78" opacity="0.85" transform="rotate(124 94.52 64.3)"/><ellipse cx="112.76" cy="69.95" rx="1.43" ry="1.33" fill="#5c3c78" opacity="0.85" transform="rotate(72 112.76 69.95)"/><ellipse cx="36.04" cy="95.1" rx="2.28" ry="1.18" fill="#7a528f" opacity="0.85" transform="rotate(77 36.04 95.1)"/><ellipse cx="7.42" cy="54.52" rx="1.42" ry="1.45" fill="#6a4684" opacity="0.85" transform="rotate(53 7.42 54.52)"/><ellipse cx="-2.64" cy="49.8" rx="1.85" ry="1.32" fill="#5c3c78" opacity="0.85" transform="rotate(115 -2.64 49.8)"/><ellipse cx="17.42" cy="65.98" rx="1.54" ry="1.12" fill="#6a4684" opacity="0.85" transform="rotate(81 17.42 65.98)"/><ellipse cx="51.52" cy="72.22" rx="1.87" ry="1.62" fill="#8b5f9c" opacity="0.85" transform="rotate(98 51.52 72.22)"/><ellipse cx="19.91" cy="68.08" rx="1.68" ry="1.24" fill="#6a4684" opacity="0.85" transform="rotate(127 19.91 68.08)"/><ellipse cx="37.02" cy="124.33" rx="1.43" ry="1.35" fill="#7a528f" opacity="0.85" transform="rotate(23 37.02 124.33)"/><ellipse cx="47.13" cy="71.58" rx="1.7" ry="1.31" fill="#5c3c78" opacity="0.85" transform="rotate(5 47.13 71.58)"/><ellipse cx="71.13" cy="71.73" rx="2.06" ry="1.56" fill="#8b5f9c" opacity="0.85" transform="rotate(0 71.13 71.73)"/><ellipse cx="109.57" cy="79.48" rx="2.23" ry="1.37" fill="#8b5f9c" opacity="0.85" transform="rotate(114 109.57 79.48)"/><ellipse cx="50.13" cy="63.84" rx="1.45" ry="1.37" fill="#6a4684" opacity="0.85" transform="rotate(179 50.13 63.84)"/><ellipse cx="20.54" cy="10.84" rx="1.76" ry="1.39" fill="#6a4684" opacity="0.85" transform="rotate(0 20.54 10.84)"/><ellipse cx="54.22" cy="29.47" rx="2.22" ry="1.45" fill="#5c3c78" opacity="0.85" transform="rotate(32 54.22 29.47)"/><ellipse cx="25.27" cy="24.81" rx="1.74" ry="1.53" fill="#6a4684" opacity="0.85" transform="rotate(18 25.27 24.81)"/><ellipse cx="28.52" cy="115.62" rx="1.49" ry="1.18" fill="#6a4684" opacity="0.85" transform="rotate(2 28.52 115.62)"/>
<path d="M70 96L75 88L84 84L90 76L95.5 74L95.5 96Z" fill="#f6f3f5"/>
</g></g>
<clipPath id="ipc1"><rect x="1286" y="1954.9" width="95.5" height="97.3"/></clipPath>
<g clip-path="url(#ipc1)"><g transform="translate(1286 1954.9)">
<rect width="95.5" height="97.3" fill="#ec9ab5"/>
<rect width="95.5" height="97.3" fill="#000" filter="url(#iq1)" opacity="0.5"/>
<ellipse cx="-3.68" cy="26.23" rx="1.58" ry="1.22" fill="#7a528f" opacity="0.85" transform="rotate(121 -3.68 26.23)"/><ellipse cx="32.66" cy="40.04" rx="1.33" ry="1.29" fill="#5c3c78" opacity="0.85" transform="rotate(14 32.66 40.04)"/><ellipse cx="75.94" cy="48.85" rx="1.97" ry="1.29" fill="#5c3c78" opacity="0.85" transform="rotate(58 75.94 48.85)"/><ellipse cx="34.66" cy="-2.44" rx="1.53" ry="1.02" fill="#5c3c78" opacity="0.85" transform="rotate(107 34.66 -2.44)"/><ellipse cx="43.27" cy="63.35" rx="1.31" ry="1.2" fill="#6a4684" opacity="0.85" transform="rotate(52 43.27 63.35)"/><ellipse cx="42.97" cy="45.43" rx="2.07" ry="1.14" fill="#8b5f9c" opacity="0.85" transform="rotate(56 42.97 45.43)"/><ellipse cx="51.44" cy="95.13" rx="1.41" ry="1.44" fill="#7a528f" opacity="0.85" transform="rotate(57 51.44 95.13)"/><ellipse cx="15.64" cy="49.94" rx="1.36" ry="1.42" fill="#8b5f9c" opacity="0.85" transform="rotate(13 15.64 49.94)"/><ellipse cx="66.23" cy="108.13" rx="1.44" ry="1.04" fill="#6a4684" opacity="0.85" transform="rotate(47 66.23 108.13)"/><ellipse cx="24.85" cy="76.87" rx="2.18" ry="1.51" fill="#6a4684" opacity="0.85" transform="rotate(42 24.85 76.87)"/><ellipse cx="49.49" cy="58.51" rx="2.24" ry="1.52" fill="#6a4684" opacity="0.85" transform="rotate(79 49.49 58.51)"/><ellipse cx="46.01" cy="24.89" rx="1.67" ry="1.23" fill="#7a528f" opacity="0.85" transform="rotate(27 46.01 24.89)"/><ellipse cx="69.58" cy="45.35" rx="1.65" ry="1.67" fill="#6a4684" opacity="0.85" transform="rotate(143 69.58 45.35)"/><ellipse cx="66.96" cy="41.36" rx="1.66" ry="1.58" fill="#8b5f9c" opacity="0.85" transform="rotate(22 66.96 41.36)"/><ellipse cx="74.42" cy="53.28" rx="1.67" ry="1.64" fill="#7a528f" opacity="0.85" transform="rotate(82 74.42 53.28)"/><ellipse cx="29.76" cy="83.54" rx="1.33" ry="1.29" fill="#8b5f9c" opacity="0.85" transform="rotate(10 29.76 83.54)"/><ellipse cx="40.73" cy="63.89" rx="2.1" ry="1.04" fill="#7a528f" opacity="0.85" transform="rotate(16 40.73 63.89)"/><ellipse cx="68.16" cy="32" rx="1.57" ry="1.67" fill="#6a4684" opacity="0.85" transform="rotate(67 68.16 32)"/><ellipse cx="54.38" cy="8.3" rx="2.22" ry="1.21" fill="#6a4684" opacity="0.85" transform="rotate(6 54.38 8.3)"/><ellipse cx="58.94" cy="34.85" rx="2.02" ry="1.33" fill="#8b5f9c" opacity="0.85" transform="rotate(64 58.94 34.85)"/><ellipse cx="83.3" cy="22.22" rx="1.43" ry="1.35" fill="#6a4684" opacity="0.85" transform="rotate(77 83.3 22.22)"/><ellipse cx="68.68" cy="7.92" rx="1.91" ry="1.23" fill="#5c3c78" opacity="0.85" transform="rotate(117 68.68 7.92)"/><ellipse cx="34.68" cy="76.97" rx="1.38" ry="1.14" fill="#7a528f" opacity="0.85" transform="rotate(63 34.68 76.97)"/><ellipse cx="33.19" cy="64.03" rx="1.78" ry="1.38" fill="#7a528f" opacity="0.85" transform="rotate(109 33.19 64.03)"/><ellipse cx="94.75" cy="-2.64" rx="1.56" ry="1.06" fill="#6a4684" opacity="0.85" transform="rotate(107 94.75 -2.64)"/><ellipse cx="26.69" cy="45.36" rx="1.75" ry="1.16" fill="#8b5f9c" opacity="0.85" transform="rotate(117 26.69 45.36)"/><ellipse cx="35.39" cy="20.35" rx="2.05" ry="1.59" fill="#6a4684" opacity="0.85" transform="rotate(75 35.39 20.35)"/><ellipse cx="48.67" cy="74.88" rx="1.67" ry="1.52" fill="#7a528f" opacity="0.85" transform="rotate(112 48.67 74.88)"/><ellipse cx="55.22" cy="63.01" rx="1.45" ry="1.62" fill="#7a528f" opacity="0.85" transform="rotate(83 55.22 63.01)"/><ellipse cx="67.59" cy="52.24" rx="1.55" ry="1.37" fill="#6a4684" opacity="0.85" transform="rotate(167 67.59 52.24)"/><ellipse cx="50.18" cy="46.48" rx="1.3" ry="1.62" fill="#7a528f" opacity="0.85" transform="rotate(114 50.18 46.48)"/><ellipse cx="59.44" cy="41.47" rx="1.59" ry="1.08" fill="#7a528f" opacity="0.85" transform="rotate(153 59.44 41.47)"/><ellipse cx="78.47" cy="39.63" rx="2.23" ry="1.26" fill="#7a528f" opacity="0.85" transform="rotate(114 78.47 39.63)"/><ellipse cx="30.2" cy="20" rx="1.96" ry="1" fill="#5c3c78" opacity="0.85" transform="rotate(55 30.2 20)"/><ellipse cx="70.96" cy="50.1" rx="1.34" ry="1.7" fill="#6a4684" opacity="0.85" transform="rotate(153 70.96 50.1)"/><ellipse cx="50.56" cy="-7.83" rx="2.11" ry="1.57" fill="#8b5f9c" opacity="0.85" transform="rotate(173 50.56 -7.83)"/><ellipse cx="37.63" cy="69.11" rx="1.38" ry="1.02" fill="#8b5f9c" opacity="0.85" transform="rotate(140 37.63 69.11)"/><ellipse cx="36.66" cy="47.54" rx="2.1" ry="1.46" fill="#7a528f" opacity="0.85" transform="rotate(163 36.66 47.54)"/><ellipse cx="29.4" cy="37.6" rx="1.7" ry="1.19" fill="#5c3c78" opacity="0.85" transform="rotate(170 29.4 37.6)"/><ellipse cx="39.23" cy="100.54" rx="1.61" ry="1.4" fill="#5c3c78" opacity="0.85" transform="rotate(106 39.23 100.54)"/><ellipse cx="23.87" cy="69.04" rx="2.3" ry="1.25" fill="#7a528f" opacity="0.85" transform="rotate(100 23.87 69.04)"/><ellipse cx="53.33" cy="28.96" rx="1.31" ry="1.63" fill="#8b5f9c" opacity="0.85" transform="rotate(29 53.33 28.96)"/><ellipse cx="62.86" cy="22.85" rx="2.18" ry="1.32" fill="#7a528f" opacity="0.85" transform="rotate(33 62.86 22.85)"/><ellipse cx="77.7" cy="47.83" rx="1.94" ry="1.64" fill="#6a4684" opacity="0.85" transform="rotate(146 77.7 47.83)"/><ellipse cx="42.53" cy="28.95" rx="1.8" ry="1.1" fill="#5c3c78" opacity="0.85" transform="rotate(41 42.53 28.95)"/><ellipse cx="14.34" cy="37.75" rx="1.41" ry="1.34" fill="#7a528f" opacity="0.85" transform="rotate(77 14.34 37.75)"/><ellipse cx="85.16" cy="86.05" rx="2.28" ry="1.34" fill="#6a4684" opacity="0.85" transform="rotate(155 85.16 86.05)"/><ellipse cx="70.95" cy="34.36" rx="2.2" ry="1.43" fill="#7a528f" opacity="0.85" transform="rotate(163 70.95 34.36)"/><ellipse cx="57.85" cy="28.42" rx="1.7" ry="1.59" fill="#8b5f9c" opacity="0.85" transform="rotate(46 57.85 28.42)"/><ellipse cx="50.18" cy="42.2" rx="2.24" ry="1.11" fill="#5c3c78" opacity="0.85" transform="rotate(31 50.18 42.2)"/><ellipse cx="83.24" cy="96.46" rx="2.12" ry="1.13" fill="#6a4684" opacity="0.85" transform="rotate(170 83.24 96.46)"/><ellipse cx="59.74" cy="34.79" rx="1.9" ry="1.39" fill="#5c3c78" opacity="0.85" transform="rotate(166 59.74 34.79)"/><ellipse cx="34.14" cy="60.27" rx="1.73" ry="1.46" fill="#8b5f9c" opacity="0.85" transform="rotate(128 34.14 60.27)"/><ellipse cx="51.38" cy="46.97" rx="1.92" ry="1.34" fill="#7a528f" opacity="0.85" transform="rotate(114 51.38 46.97)"/><ellipse cx="57.67" cy="3.39" rx="1.76" ry="1.13" fill="#8b5f9c" opacity="0.85" transform="rotate(102 57.67 3.39)"/><ellipse cx="62.38" cy="52.84" rx="1.73" ry="1.06" fill="#8b5f9c" opacity="0.85" transform="rotate(129 62.38 52.84)"/><ellipse cx="49.82" cy="44.56" rx="1.94" ry="1.06" fill="#5c3c78" opacity="0.85" transform="rotate(130 49.82 44.56)"/><ellipse cx="81.35" cy="64.3" rx="2.19" ry="1.46" fill="#7a528f" opacity="0.85" transform="rotate(6 81.35 64.3)"/><ellipse cx="92.38" cy="-17.55" rx="2.03" ry="1.57" fill="#7a528f" opacity="0.85" transform="rotate(33 92.38 -17.55)"/><ellipse cx="75.81" cy="41.8" rx="2.26" ry="1.64" fill="#7a528f" opacity="0.85" transform="rotate(175 75.81 41.8)"/><ellipse cx="64.93" cy="-8.83" rx="1.37" ry="1.25" fill="#5c3c78" opacity="0.85" transform="rotate(40 64.93 -8.83)"/><ellipse cx="43.89" cy="74.6" rx="2.21" ry="1.32" fill="#5c3c78" opacity="0.85" transform="rotate(128 43.89 74.6)"/><ellipse cx="75.07" cy="38.9" rx="1.89" ry="1.43" fill="#7a528f" opacity="0.85" transform="rotate(81 75.07 38.9)"/><ellipse cx="46.67" cy="56.5" rx="1.7" ry="1.45" fill="#5c3c78" opacity="0.85" transform="rotate(173 46.67 56.5)"/><ellipse cx="46.78" cy="65.61" rx="2.09" ry="1.19" fill="#6a4684" opacity="0.85" transform="rotate(162 46.78 65.61)"/><ellipse cx="84.47" cy="-3.55" rx="1.75" ry="1.37" fill="#6a4684" opacity="0.85" transform="rotate(64 84.47 -3.55)"/><ellipse cx="80.35" cy="43.5" rx="1.69" ry="1.56" fill="#5c3c78" opacity="0.85" transform="rotate(96 80.35 43.5)"/><ellipse cx="78.58" cy="43.12" rx="1.66" ry="1.54" fill="#8b5f9c" opacity="0.85" transform="rotate(58 78.58 43.12)"/><ellipse cx="68.19" cy="80.48" rx="1.35" ry="1.57" fill="#5c3c78" opacity="0.85" transform="rotate(79 68.19 80.48)"/><ellipse cx="21.8" cy="-7.99" rx="1.89" ry="1.46" fill="#5c3c78" opacity="0.85" transform="rotate(0 21.8 -7.99)"/><ellipse cx="54.77" cy="28.01" rx="1.59" ry="1.44" fill="#8b5f9c" opacity="0.85" transform="rotate(131 54.77 28.01)"/><ellipse cx="51.3" cy="50.66" rx="1.79" ry="1.43" fill="#6a4684" opacity="0.85" transform="rotate(5 51.3 50.66)"/><ellipse cx="76.95" cy="55.41" rx="1.6" ry="1.37" fill="#7a528f" opacity="0.85" transform="rotate(105 76.95 55.41)"/><ellipse cx="34.23" cy="28.95" rx="1.5" ry="1.44" fill="#8b5f9c" opacity="0.85" transform="rotate(40 34.23 28.95)"/><ellipse cx="83.01" cy="87.22" rx="1.54" ry="1.1" fill="#6a4684" opacity="0.85" transform="rotate(16 83.01 87.22)"/><ellipse cx="31.45" cy="7.91" rx="2.08" ry="1.28" fill="#5c3c78" opacity="0.85" transform="rotate(2 31.45 7.91)"/><ellipse cx="86.33" cy="60.37" rx="2.19" ry="1.42" fill="#8b5f9c" opacity="0.85" transform="rotate(154 86.33 60.37)"/><ellipse cx="82.02" cy="29.99" rx="1.55" ry="1.63" fill="#6a4684" opacity="0.85" transform="rotate(15 82.02 29.99)"/><ellipse cx="36.99" cy="40.18" rx="1.54" ry="1.04" fill="#6a4684" opacity="0.85" transform="rotate(3 36.99 40.18)"/><ellipse cx="35" cy="22.18" rx="1.5" ry="1.29" fill="#8b5f9c" opacity="0.85" transform="rotate(156 35 22.18)"/><ellipse cx="62.06" cy="63.38" rx="1.6" ry="1.03" fill="#8b5f9c" opacity="0.85" transform="rotate(137 62.06 63.38)"/><ellipse cx="89.7" cy="46.85" rx="2.05" ry="1.33" fill="#8b5f9c" opacity="0.85" transform="rotate(44 89.7 46.85)"/><ellipse cx="56.28" cy="56.19" rx="1.53" ry="1.03" fill="#5c3c78" opacity="0.85" transform="rotate(177 56.28 56.19)"/><ellipse cx="68.17" cy="38.41" rx="1.35" ry="1.45" fill="#8b5f9c" opacity="0.85" transform="rotate(175 68.17 38.41)"/><ellipse cx="60.24" cy="16.64" rx="1.57" ry="1.45" fill="#7a528f" opacity="0.85" transform="rotate(21 60.24 16.64)"/><ellipse cx="57.3" cy="42.12" rx="1.56" ry="1.17" fill="#7a528f" opacity="0.85" transform="rotate(40 57.3 42.12)"/><ellipse cx="54.61" cy="23.65" rx="2.18" ry="1.23" fill="#7a528f" opacity="0.85" transform="rotate(97 54.61 23.65)"/><ellipse cx="76.24" cy="26.41" rx="1.99" ry="1.47" fill="#8b5f9c" opacity="0.85" transform="rotate(120 76.24 26.41)"/><ellipse cx="69.87" cy="13.62" rx="2.16" ry="1.31" fill="#7a528f" opacity="0.85" transform="rotate(146 69.87 13.62)"/><ellipse cx="78.79" cy="16.95" rx="1.69" ry="1.41" fill="#7a528f" opacity="0.85" transform="rotate(37 78.79 16.95)"/><ellipse cx="63.58" cy="47.4" rx="1.92" ry="1.11" fill="#7a528f" opacity="0.85" transform="rotate(179 63.58 47.4)"/><ellipse cx="60.17" cy="46.26" rx="1.99" ry="1.44" fill="#6a4684" opacity="0.85" transform="rotate(11 60.17 46.26)"/><ellipse cx="77.03" cy="57.88" rx="1.66" ry="1.57" fill="#6a4684" opacity="0.85" transform="rotate(98 77.03 57.88)"/><ellipse cx="64.55" cy="55.15" rx="1.41" ry="1.02" fill="#6a4684" opacity="0.85" transform="rotate(161 64.55 55.15)"/><ellipse cx="41.18" cy="24.81" rx="1.43" ry="1.55" fill="#7a528f" opacity="0.85" transform="rotate(75 41.18 24.81)"/><ellipse cx="24.7" cy="23" rx="1.32" ry="1.18" fill="#5c3c78" opacity="0.85" transform="rotate(12 24.7 23)"/><ellipse cx="27.55" cy="7.14" rx="1.62" ry="1.67" fill="#8b5f9c" opacity="0.85" transform="rotate(73 27.55 7.14)"/><ellipse cx="27.78" cy="13.57" rx="1.71" ry="1.31" fill="#6a4684" opacity="0.85" transform="rotate(88 27.78 13.57)"/><ellipse cx="26.3" cy="15.51" rx="1.87" ry="1.5" fill="#6a4684" opacity="0.85" transform="rotate(147 26.3 15.51)"/><ellipse cx="33.11" cy="10.35" rx="1.3" ry="1.14" fill="#6a4684" opacity="0.85" transform="rotate(1 33.11 10.35)"/><ellipse cx="26.9" cy="18.08" rx="2" ry="1.58" fill="#8b5f9c" opacity="0.85" transform="rotate(151 26.9 18.08)"/><ellipse cx="17.01" cy="28" rx="1.56" ry="1.66" fill="#5c3c78" opacity="0.85" transform="rotate(54 17.01 28)"/><ellipse cx="38.06" cy="12.7" rx="1.47" ry="1.66" fill="#6a4684" opacity="0.85" transform="rotate(125 38.06 12.7)"/><ellipse cx="34.38" cy="2.38" rx="2.09" ry="1.44" fill="#5c3c78" opacity="0.85" transform="rotate(24 34.38 2.38)"/><ellipse cx="20.22" cy="19.89" rx="2.19" ry="1.06" fill="#6a4684" opacity="0.85" transform="rotate(95 20.22 19.89)"/><ellipse cx="32.55" cy="21.32" rx="2.2" ry="1.35" fill="#8b5f9c" opacity="0.85" transform="rotate(161 32.55 21.32)"/><ellipse cx="31.37" cy="24.29" rx="1.83" ry="1.53" fill="#6a4684" opacity="0.85" transform="rotate(89 31.37 24.29)"/><ellipse cx="17.3" cy="10" rx="2.17" ry="1.32" fill="#5c3c78" opacity="0.85" transform="rotate(43 17.3 10)"/><ellipse cx="12.15" cy="17.95" rx="1.56" ry="1.16" fill="#5c3c78" opacity="0.85" transform="rotate(118 12.15 17.95)"/><ellipse cx="18.43" cy="4.87" rx="1.81" ry="1.19" fill="#7a528f" opacity="0.85" transform="rotate(39 18.43 4.87)"/><ellipse cx="48.99" cy="12.87" rx="1.9" ry="1.24" fill="#7a528f" opacity="0.85" transform="rotate(83 48.99 12.87)"/><ellipse cx="38.93" cy="13.22" rx="2.25" ry="1.7" fill="#7a528f" opacity="0.85" transform="rotate(168 38.93 13.22)"/><ellipse cx="39.49" cy="19.93" rx="2.28" ry="1.56" fill="#5c3c78" opacity="0.85" transform="rotate(111 39.49 19.93)"/><ellipse cx="29.14" cy="19" rx="2.21" ry="1.2" fill="#8b5f9c" opacity="0.85" transform="rotate(118 29.14 19)"/><ellipse cx="41.84" cy="16.79" rx="2.09" ry="1.49" fill="#5c3c78" opacity="0.85" transform="rotate(118 41.84 16.79)"/><ellipse cx="39.16" cy="15.9" rx="2.04" ry="1" fill="#7a528f" opacity="0.85" transform="rotate(110 39.16 15.9)"/><ellipse cx="25.18" cy="4.34" rx="1.95" ry="1.59" fill="#7a528f" opacity="0.85" transform="rotate(173 25.18 4.34)"/><ellipse cx="32.58" cy="18.93" rx="1.73" ry="1.18" fill="#6a4684" opacity="0.85" transform="rotate(107 32.58 18.93)"/><ellipse cx="30.58" cy="23.48" rx="2.01" ry="1.11" fill="#8b5f9c" opacity="0.85" transform="rotate(123 30.58 23.48)"/><ellipse cx="13.93" cy="18.25" rx="1.71" ry="1.47" fill="#7a528f" opacity="0.85" transform="rotate(167 13.93 18.25)"/><ellipse cx="48.02" cy="53.71" rx="2.13" ry="1.64" fill="#6a4684" opacity="0.85" transform="rotate(9 48.02 53.71)"/><ellipse cx="49.84" cy="70.19" rx="2.02" ry="1.67" fill="#7a528f" opacity="0.85" transform="rotate(132 49.84 70.19)"/><ellipse cx="17.7" cy="95.53" rx="1.76" ry="1.14" fill="#8b5f9c" opacity="0.85" transform="rotate(131 17.7 95.53)"/><ellipse cx="100.82" cy="55.16" rx="1.67" ry="1.24" fill="#8b5f9c" opacity="0.85" transform="rotate(53 100.82 55.16)"/><ellipse cx="68.32" cy="48.88" rx="1.81" ry="1.65" fill="#5c3c78" opacity="0.85" transform="rotate(163 68.32 48.88)"/><ellipse cx="71.62" cy="58.03" rx="1.7" ry="1.01" fill="#8b5f9c" opacity="0.85" transform="rotate(107 71.62 58.03)"/><ellipse cx="20.16" cy="18.8" rx="1.88" ry="1.08" fill="#5c3c78" opacity="0.85" transform="rotate(102 20.16 18.8)"/><ellipse cx="82.76" cy="37.01" rx="1.52" ry="1.56" fill="#8b5f9c" opacity="0.85" transform="rotate(118 82.76 37.01)"/><ellipse cx="53.58" cy="64.73" rx="2.08" ry="1.57" fill="#7a528f" opacity="0.85" transform="rotate(120 53.58 64.73)"/><ellipse cx="21.17" cy="14.16" rx="2.11" ry="1.1" fill="#8b5f9c" opacity="0.85" transform="rotate(119 21.17 14.16)"/><ellipse cx="98.63" cy="48.82" rx="1.95" ry="1.55" fill="#8b5f9c" opacity="0.85" transform="rotate(90 98.63 48.82)"/><ellipse cx="54.37" cy="29.62" rx="2" ry="1.48" fill="#8b5f9c" opacity="0.85" transform="rotate(173 54.37 29.62)"/><ellipse cx="50.83" cy="51.95" rx="2.02" ry="1.2" fill="#7a528f" opacity="0.85" transform="rotate(167 50.83 51.95)"/><ellipse cx="39.47" cy="81.18" rx="1.73" ry="1.45" fill="#5c3c78" opacity="0.85" transform="rotate(39 39.47 81.18)"/><ellipse cx="100.97" cy="25.52" rx="1.36" ry="1.58" fill="#5c3c78" opacity="0.85" transform="rotate(35 100.97 25.52)"/><ellipse cx="23.99" cy="44.93" rx="1.88" ry="1.46" fill="#7a528f" opacity="0.85" transform="rotate(18 23.99 44.93)"/><ellipse cx="37.83" cy="31.86" rx="1.4" ry="1.1" fill="#7a528f" opacity="0.85" transform="rotate(47 37.83 31.86)"/><ellipse cx="54.37" cy="23.8" rx="1.45" ry="1.63" fill="#7a528f" opacity="0.85" transform="rotate(156 54.37 23.8)"/><ellipse cx="80.56" cy="25.08" rx="2.08" ry="1.47" fill="#5c3c78" opacity="0.85" transform="rotate(50 80.56 25.08)"/><ellipse cx="30.07" cy="50.69" rx="1.38" ry="1.59" fill="#6a4684" opacity="0.85" transform="rotate(142 30.07 50.69)"/><ellipse cx="72.08" cy="70.33" rx="2.13" ry="1.33" fill="#6a4684" opacity="0.85" transform="rotate(123 72.08 70.33)"/><ellipse cx="34.26" cy="53.3" rx="1.79" ry="1.35" fill="#6a4684" opacity="0.85" transform="rotate(41 34.26 53.3)"/><ellipse cx="67.47" cy="22.77" rx="1.86" ry="1.47" fill="#8b5f9c" opacity="0.85" transform="rotate(95 67.47 22.77)"/><ellipse cx="-64.55" cy="107.63" rx="1.98" ry="1.13" fill="#5c3c78" opacity="0.85" transform="rotate(162 -64.55 107.63)"/><ellipse cx="46.45" cy="45.33" rx="1.35" ry="1.52" fill="#5c3c78" opacity="0.85" transform="rotate(24 46.45 45.33)"/>
<path d="M0 60L8 62L14 70L12 78L18 84L22 96L0 96Z" fill="#f6f3f5"/>
</g></g>
<clipPath id="ipc2"><rect x="1286" y="2055.6" width="95.5" height="97"/></clipPath>
<g clip-path="url(#ipc2)"><g transform="translate(1286 2055.6)">
<rect width="95.5" height="97" fill="#ec9ab5"/>
<rect width="95.5" height="97" fill="#000" filter="url(#iq2)" opacity="0.5"/>
<ellipse cx="50.97" cy="58.99" rx="2.2" ry="1.02" fill="#8b5f9c" opacity="0.85" transform="rotate(160 50.97 58.99)"/><ellipse cx="64.99" cy="64.21" rx="1.96" ry="1.24" fill="#7a528f" opacity="0.85" transform="rotate(72 64.99 64.21)"/><ellipse cx="52.76" cy="65.48" rx="1.85" ry="1.58" fill="#5c3c78" opacity="0.85" transform="rotate(90 52.76 65.48)"/><ellipse cx="66.58" cy="48.15" rx="1.8" ry="1.19" fill="#5c3c78" opacity="0.85" transform="rotate(52 66.58 48.15)"/><ellipse cx="52.4" cy="40.69" rx="1.63" ry="1.22" fill="#5c3c78" opacity="0.85" transform="rotate(32 52.4 40.69)"/><ellipse cx="50.33" cy="50.32" rx="2.08" ry="1.03" fill="#8b5f9c" opacity="0.85" transform="rotate(139 50.33 50.32)"/><ellipse cx="53.35" cy="54.03" rx="1.41" ry="1.03" fill="#8b5f9c" opacity="0.85" transform="rotate(155 53.35 54.03)"/><ellipse cx="62.34" cy="55.37" rx="1.8" ry="1.38" fill="#8b5f9c" opacity="0.85" transform="rotate(157 62.34 55.37)"/><ellipse cx="70.66" cy="75.76" rx="1.99" ry="1.61" fill="#6a4684" opacity="0.85" transform="rotate(54 70.66 75.76)"/><ellipse cx="75.19" cy="64.59" rx="1.93" ry="1.12" fill="#7a528f" opacity="0.85" transform="rotate(9 75.19 64.59)"/><ellipse cx="58.11" cy="62.88" rx="2.23" ry="1.01" fill="#7a528f" opacity="0.85" transform="rotate(79 58.11 62.88)"/><ellipse cx="55.14" cy="56.12" rx="1.6" ry="1.3" fill="#5c3c78" opacity="0.85" transform="rotate(5 55.14 56.12)"/><ellipse cx="49.53" cy="67.98" rx="2.23" ry="1.04" fill="#6a4684" opacity="0.85" transform="rotate(30 49.53 67.98)"/><ellipse cx="63.49" cy="46.35" rx="2" ry="1.28" fill="#6a4684" opacity="0.85" transform="rotate(3 63.49 46.35)"/><ellipse cx="56.51" cy="43.97" rx="2.29" ry="1.46" fill="#7a528f" opacity="0.85" transform="rotate(121 56.51 43.97)"/><ellipse cx="63.51" cy="43.48" rx="1.38" ry="1.33" fill="#7a528f" opacity="0.85" transform="rotate(160 63.51 43.48)"/><ellipse cx="62.94" cy="60.13" rx="1.98" ry="1.09" fill="#6a4684" opacity="0.85" transform="rotate(55 62.94 60.13)"/><ellipse cx="65.44" cy="54.93" rx="1.32" ry="1.5" fill="#7a528f" opacity="0.85" transform="rotate(115 65.44 54.93)"/><ellipse cx="61.36" cy="51.54" rx="1.35" ry="1.54" fill="#7a528f" opacity="0.85" transform="rotate(21 61.36 51.54)"/><ellipse cx="58.72" cy="76.24" rx="1.8" ry="1.47" fill="#5c3c78" opacity="0.85" transform="rotate(13 58.72 76.24)"/><ellipse cx="61.7" cy="58.04" rx="1.31" ry="1.46" fill="#6a4684" opacity="0.85" transform="rotate(99 61.7 58.04)"/><ellipse cx="56.19" cy="79.79" rx="1.47" ry="1.6" fill="#8b5f9c" opacity="0.85" transform="rotate(155 56.19 79.79)"/><ellipse cx="70.55" cy="64.64" rx="1.87" ry="1.31" fill="#7a528f" opacity="0.85" transform="rotate(37 70.55 64.64)"/><ellipse cx="66.68" cy="58.62" rx="2.25" ry="1.11" fill="#8b5f9c" opacity="0.85" transform="rotate(122 66.68 58.62)"/><ellipse cx="49.3" cy="75.25" rx="2.24" ry="1.55" fill="#5c3c78" opacity="0.85" transform="rotate(74 49.3 75.25)"/><ellipse cx="59.5" cy="78.08" rx="1.95" ry="1.56" fill="#5c3c78" opacity="0.85" transform="rotate(155 59.5 78.08)"/><ellipse cx="61.74" cy="57.69" rx="1.45" ry="1.58" fill="#8b5f9c" opacity="0.85" transform="rotate(63 61.74 57.69)"/><ellipse cx="51.58" cy="74.03" rx="1.9" ry="1.63" fill="#8b5f9c" opacity="0.85" transform="rotate(72 51.58 74.03)"/><ellipse cx="58.82" cy="49.23" rx="1.57" ry="1.11" fill="#6a4684" opacity="0.85" transform="rotate(73 58.82 49.23)"/><ellipse cx="70.76" cy="39.1" rx="2.17" ry="1.4" fill="#5c3c78" opacity="0.85" transform="rotate(140 70.76 39.1)"/><ellipse cx="53.52" cy="33.21" rx="1.65" ry="1.06" fill="#8b5f9c" opacity="0.85" transform="rotate(97 53.52 33.21)"/><ellipse cx="66.9" cy="80.93" rx="2.23" ry="1.16" fill="#6a4684" opacity="0.85" transform="rotate(173 66.9 80.93)"/><ellipse cx="50.06" cy="72.65" rx="2.23" ry="1.41" fill="#6a4684" opacity="0.85" transform="rotate(98 50.06 72.65)"/><ellipse cx="58.02" cy="61.42" rx="2.11" ry="1.54" fill="#7a528f" opacity="0.85" transform="rotate(101 58.02 61.42)"/><ellipse cx="44.04" cy="46.51" rx="2.19" ry="1.37" fill="#8b5f9c" opacity="0.85" transform="rotate(129 44.04 46.51)"/><ellipse cx="56.74" cy="55.45" rx="1.49" ry="1.13" fill="#5c3c78" opacity="0.85" transform="rotate(92 56.74 55.45)"/><ellipse cx="54.01" cy="54.15" rx="2.08" ry="1.6" fill="#7a528f" opacity="0.85" transform="rotate(11 54.01 54.15)"/><ellipse cx="71.9" cy="52.81" rx="2.17" ry="1.26" fill="#8b5f9c" opacity="0.85" transform="rotate(20 71.9 52.81)"/><ellipse cx="69.2" cy="74.8" rx="1.64" ry="1.36" fill="#6a4684" opacity="0.85" transform="rotate(24 69.2 74.8)"/><ellipse cx="90.62" cy="68.43" rx="2.17" ry="1.34" fill="#7a528f" opacity="0.85" transform="rotate(66 90.62 68.43)"/><ellipse cx="68.94" cy="55.17" rx="1.4" ry="1.31" fill="#7a528f" opacity="0.85" transform="rotate(65 68.94 55.17)"/><ellipse cx="66.85" cy="50.02" rx="2.29" ry="1.26" fill="#6a4684" opacity="0.85" transform="rotate(13 66.85 50.02)"/><ellipse cx="71" cy="62.75" rx="2.01" ry="1.34" fill="#6a4684" opacity="0.85" transform="rotate(153 71 62.75)"/><ellipse cx="48.16" cy="37.04" rx="2.01" ry="1.06" fill="#5c3c78" opacity="0.85" transform="rotate(144 48.16 37.04)"/><ellipse cx="62.44" cy="65.69" rx="2.22" ry="1.35" fill="#7a528f" opacity="0.85" transform="rotate(114 62.44 65.69)"/><ellipse cx="67.42" cy="49.7" rx="1.54" ry="1.5" fill="#7a528f" opacity="0.85" transform="rotate(9 67.42 49.7)"/><ellipse cx="83.34" cy="48.75" rx="1.36" ry="1.39" fill="#6a4684" opacity="0.85" transform="rotate(12 83.34 48.75)"/><ellipse cx="61.43" cy="75.82" rx="2.04" ry="1.53" fill="#8b5f9c" opacity="0.85" transform="rotate(14 61.43 75.82)"/><ellipse cx="68.76" cy="66.85" rx="1.31" ry="1.14" fill="#5c3c78" opacity="0.85" transform="rotate(150 68.76 66.85)"/><ellipse cx="48.43" cy="47.91" rx="1.41" ry="1.23" fill="#5c3c78" opacity="0.85" transform="rotate(99 48.43 47.91)"/><ellipse cx="69.82" cy="70.64" rx="1.47" ry="1.17" fill="#7a528f" opacity="0.85" transform="rotate(173 69.82 70.64)"/><ellipse cx="70.4" cy="50.71" rx="2.21" ry="1.56" fill="#7a528f" opacity="0.85" transform="rotate(56 70.4 50.71)"/><ellipse cx="73.77" cy="68.61" rx="1.67" ry="1.52" fill="#8b5f9c" opacity="0.85" transform="rotate(24 73.77 68.61)"/><ellipse cx="70.46" cy="54.16" rx="1.32" ry="1.05" fill="#5c3c78" opacity="0.85" transform="rotate(82 70.46 54.16)"/><ellipse cx="66.85" cy="46.52" rx="1.93" ry="1.1" fill="#7a528f" opacity="0.85" transform="rotate(14 66.85 46.52)"/><ellipse cx="80.02" cy="63.81" rx="2.19" ry="1.31" fill="#7a528f" opacity="0.85" transform="rotate(68 80.02 63.81)"/><ellipse cx="67.92" cy="48.88" rx="1.33" ry="1.4" fill="#5c3c78" opacity="0.85" transform="rotate(85 67.92 48.88)"/><ellipse cx="77.8" cy="22.42" rx="1.41" ry="1.32" fill="#8b5f9c" opacity="0.85" transform="rotate(29 77.8 22.42)"/><ellipse cx="82.4" cy="63.66" rx="1.93" ry="1.55" fill="#7a528f" opacity="0.85" transform="rotate(143 82.4 63.66)"/><ellipse cx="66.22" cy="42.78" rx="1.56" ry="1.14" fill="#5c3c78" opacity="0.85" transform="rotate(110 66.22 42.78)"/><ellipse cx="113.15" cy="35.21" rx="2.23" ry="1.07" fill="#5c3c78" opacity="0.85" transform="rotate(106 113.15 35.21)"/><ellipse cx="77.95" cy="34.99" rx="2.03" ry="1.21" fill="#6a4684" opacity="0.85" transform="rotate(113 77.95 34.99)"/><ellipse cx="78.46" cy="19.48" rx="1.44" ry="1" fill="#5c3c78" opacity="0.85" transform="rotate(47 78.46 19.48)"/><ellipse cx="73.02" cy="45.32" rx="1.71" ry="1.19" fill="#7a528f" opacity="0.85" transform="rotate(35 73.02 45.32)"/><ellipse cx="82.26" cy="15.73" rx="1.53" ry="1.12" fill="#6a4684" opacity="0.85" transform="rotate(22 82.26 15.73)"/><ellipse cx="88.43" cy="15.09" rx="2.06" ry="1.12" fill="#7a528f" opacity="0.85" transform="rotate(156 88.43 15.09)"/><ellipse cx="67.67" cy="10.42" rx="1.49" ry="1.22" fill="#6a4684" opacity="0.85" transform="rotate(16 67.67 10.42)"/><ellipse cx="70.36" cy="12.83" rx="2.14" ry="1.64" fill="#5c3c78" opacity="0.85" transform="rotate(85 70.36 12.83)"/><ellipse cx="71.94" cy="73.59" rx="2.25" ry="1.06" fill="#8b5f9c" opacity="0.85" transform="rotate(122 71.94 73.59)"/><ellipse cx="85.7" cy="66.39" rx="1.55" ry="1.39" fill="#5c3c78" opacity="0.85" transform="rotate(9 85.7 66.39)"/><ellipse cx="80.38" cy="59.79" rx="1.89" ry="1" fill="#8b5f9c" opacity="0.85" transform="rotate(132 80.38 59.79)"/><ellipse cx="84.14" cy="49.77" rx="1.54" ry="1.58" fill="#5c3c78" opacity="0.85" transform="rotate(97 84.14 49.77)"/><ellipse cx="54.52" cy="16.34" rx="1.59" ry="1.08" fill="#8b5f9c" opacity="0.85" transform="rotate(114 54.52 16.34)"/><ellipse cx="61.77" cy="37.53" rx="1.84" ry="1.01" fill="#6a4684" opacity="0.85" transform="rotate(57 61.77 37.53)"/><ellipse cx="70.2" cy="30.1" rx="1.61" ry="1.39" fill="#6a4684" opacity="0.85" transform="rotate(4 70.2 30.1)"/><ellipse cx="88.75" cy="61.19" rx="1.5" ry="1.01" fill="#8b5f9c" opacity="0.85" transform="rotate(133 88.75 61.19)"/><ellipse cx="75.85" cy="65.94" rx="1.65" ry="1.07" fill="#7a528f" opacity="0.85" transform="rotate(11 75.85 65.94)"/><ellipse cx="73.26" cy="66.56" rx="1.89" ry="1.53" fill="#6a4684" opacity="0.85" transform="rotate(31 73.26 66.56)"/><ellipse cx="91.21" cy="74.48" rx="1.84" ry="1.16" fill="#7a528f" opacity="0.85" transform="rotate(37 91.21 74.48)"/><ellipse cx="69.13" cy="16.68" rx="1.7" ry="1.66" fill="#6a4684" opacity="0.85" transform="rotate(162 69.13 16.68)"/>
<path d="M0 0L88 0L80 8L70 16L60 26L52 36L44 46L38 58L36 70L40 82L46 96L0 96Z" fill="#f6f3f5"/>
</g></g>
<clipPath id="ipc3"><rect x="1286" y="2156" width="95.5" height="97.6"/></clipPath>
<g clip-path="url(#ipc3)"><g transform="translate(1286 2156)">
<rect width="95.5" height="97.6" fill="#ec9ab5"/>
<rect width="95.5" height="97.6" fill="#000" filter="url(#iq3)" opacity="0.5"/>
<ellipse cx="40.61" cy="38.87" rx="2.14" ry="1.37" fill="#8b5f9c" opacity="0.85" transform="rotate(13 40.61 38.87)"/><ellipse cx="57.75" cy="18.17" rx="1.54" ry="1.23" fill="#8b5f9c" opacity="0.85" transform="rotate(144 57.75 18.17)"/><ellipse cx="68.32" cy="2.53" rx="2.12" ry="1.59" fill="#6a4684" opacity="0.85" transform="rotate(83 68.32 2.53)"/><ellipse cx="9.97" cy="26.38" rx="2.23" ry="1.17" fill="#8b5f9c" opacity="0.85" transform="rotate(169 9.97 26.38)"/><ellipse cx="43.48" cy="20.69" rx="1.83" ry="1.05" fill="#8b5f9c" opacity="0.85" transform="rotate(51 43.48 20.69)"/><ellipse cx="51.31" cy="29.92" rx="1.44" ry="1.68" fill="#8b5f9c" opacity="0.85" transform="rotate(162 51.31 29.92)"/><ellipse cx="103.25" cy="40.71" rx="2.27" ry="1.03" fill="#5c3c78" opacity="0.85" transform="rotate(173 103.25 40.71)"/><ellipse cx="36.92" cy="17" rx="2.11" ry="1.03" fill="#6a4684" opacity="0.85" transform="rotate(64 36.92 17)"/><ellipse cx="57.15" cy="31.52" rx="1.54" ry="1.03" fill="#6a4684" opacity="0.85" transform="rotate(78 57.15 31.52)"/><ellipse cx="48.74" cy="36.53" rx="1.36" ry="1.67" fill="#5c3c78" opacity="0.85" transform="rotate(21 48.74 36.53)"/><ellipse cx="33.25" cy="33.42" rx="1.45" ry="1.09" fill="#7a528f" opacity="0.85" transform="rotate(75 33.25 33.42)"/><ellipse cx="75.38" cy="21.24" rx="1.57" ry="1.52" fill="#5c3c78" opacity="0.85" transform="rotate(116 75.38 21.24)"/><ellipse cx="36.97" cy="19.07" rx="1.95" ry="1.14" fill="#5c3c78" opacity="0.85" transform="rotate(117 36.97 19.07)"/><ellipse cx="66.91" cy="22.94" rx="1.78" ry="1.57" fill="#6a4684" opacity="0.85" transform="rotate(62 66.91 22.94)"/><ellipse cx="49.16" cy="37.39" rx="1.85" ry="1.68" fill="#8b5f9c" opacity="0.85" transform="rotate(3 49.16 37.39)"/><ellipse cx="64.52" cy="26.4" rx="2.25" ry="1.23" fill="#5c3c78" opacity="0.85" transform="rotate(125 64.52 26.4)"/><ellipse cx="50.39" cy="56.88" rx="1.52" ry="1.04" fill="#6a4684" opacity="0.85" transform="rotate(40 50.39 56.88)"/><ellipse cx="31.69" cy="24.31" rx="1.65" ry="1.46" fill="#8b5f9c" opacity="0.85" transform="rotate(112 31.69 24.31)"/><ellipse cx="36.42" cy="47.77" rx="1.82" ry="1.69" fill="#7a528f" opacity="0.85" transform="rotate(106 36.42 47.77)"/><ellipse cx="46.28" cy="40.51" rx="1.98" ry="1.43" fill="#5c3c78" opacity="0.85" transform="rotate(132 46.28 40.51)"/><ellipse cx="84.32" cy="44.62" rx="2.22" ry="1.7" fill="#5c3c78" opacity="0.85" transform="rotate(161 84.32 44.62)"/><ellipse cx="44.72" cy="1.7" rx="1.43" ry="1.61" fill="#6a4684" opacity="0.85" transform="rotate(105 44.72 1.7)"/><ellipse cx="57.35" cy="12.56" rx="1.8" ry="1.67" fill="#7a528f" opacity="0.85" transform="rotate(106 57.35 12.56)"/><ellipse cx="63.56" cy="21.35" rx="1.92" ry="1.08" fill="#8b5f9c" opacity="0.85" transform="rotate(177 63.56 21.35)"/><ellipse cx="27.16" cy="35.53" rx="1.59" ry="1.27" fill="#8b5f9c" opacity="0.85" transform="rotate(165 27.16 35.53)"/><ellipse cx="41.16" cy="50.88" rx="2.15" ry="1.35" fill="#8b5f9c" opacity="0.85" transform="rotate(76 41.16 50.88)"/><ellipse cx="61.16" cy="40.29" rx="1.44" ry="1.4" fill="#7a528f" opacity="0.85" transform="rotate(22 61.16 40.29)"/><ellipse cx="62.01" cy="19.36" rx="2.27" ry="1.43" fill="#7a528f" opacity="0.85" transform="rotate(83 62.01 19.36)"/><ellipse cx="60.37" cy="43.35" rx="2.21" ry="1.01" fill="#6a4684" opacity="0.85" transform="rotate(65 60.37 43.35)"/><ellipse cx="35.62" cy="23.86" rx="2.22" ry="1.54" fill="#8b5f9c" opacity="0.85" transform="rotate(132 35.62 23.86)"/><ellipse cx="68.28" cy="11.09" rx="1.73" ry="1.32" fill="#6a4684" opacity="0.85" transform="rotate(152 68.28 11.09)"/><ellipse cx="46.16" cy="17.03" rx="1.31" ry="1.05" fill="#7a528f" opacity="0.85" transform="rotate(25 46.16 17.03)"/><ellipse cx="37.12" cy="38.38" rx="1.95" ry="1.65" fill="#7a528f" opacity="0.85" transform="rotate(48 37.12 38.38)"/><ellipse cx="75.27" cy="26.62" rx="1.74" ry="1.44" fill="#5c3c78" opacity="0.85" transform="rotate(177 75.27 26.62)"/><ellipse cx="22.48" cy="25.43" rx="1.47" ry="1.22" fill="#6a4684" opacity="0.85" transform="rotate(79 22.48 25.43)"/><ellipse cx="46.32" cy="29.5" rx="2.19" ry="1.48" fill="#8b5f9c" opacity="0.85" transform="rotate(161 46.32 29.5)"/><ellipse cx="63.26" cy="39.09" rx="1.81" ry="1.35" fill="#7a528f" opacity="0.85" transform="rotate(105 63.26 39.09)"/><ellipse cx="65.46" cy="46.96" rx="1.9" ry="1.25" fill="#6a4684" opacity="0.85" transform="rotate(177 65.46 46.96)"/><ellipse cx="28.1" cy="42.28" rx="1.61" ry="1.48" fill="#6a4684" opacity="0.85" transform="rotate(77 28.1 42.28)"/><ellipse cx="48.44" cy="33.61" rx="1.32" ry="1.02" fill="#7a528f" opacity="0.85" transform="rotate(127 48.44 33.61)"/><ellipse cx="57.77" cy="13.04" rx="2.17" ry="1.63" fill="#7a528f" opacity="0.85" transform="rotate(147 57.77 13.04)"/><ellipse cx="62.76" cy="46.98" rx="1.45" ry="1.36" fill="#6a4684" opacity="0.85" transform="rotate(7 62.76 46.98)"/><ellipse cx="63.9" cy="34.75" rx="1.82" ry="1.58" fill="#8b5f9c" opacity="0.85" transform="rotate(15 63.9 34.75)"/><ellipse cx="38.94" cy="13.77" rx="1.88" ry="1.1" fill="#7a528f" opacity="0.85" transform="rotate(90 38.94 13.77)"/><ellipse cx="54.26" cy="33.37" rx="1.93" ry="1.6" fill="#6a4684" opacity="0.85" transform="rotate(89 54.26 33.37)"/><ellipse cx="38.42" cy="89.1" rx="1.32" ry="1.15" fill="#8b5f9c" opacity="0.85" transform="rotate(149 38.42 89.1)"/><ellipse cx="30.44" cy="71.78" rx="1.35" ry="1.17" fill="#7a528f" opacity="0.85" transform="rotate(11 30.44 71.78)"/><ellipse cx="42.04" cy="87.1" rx="1.47" ry="1" fill="#8b5f9c" opacity="0.85" transform="rotate(77 42.04 87.1)"/><ellipse cx="18.85" cy="79.04" rx="2.19" ry="1.69" fill="#6a4684" opacity="0.85" transform="rotate(62 18.85 79.04)"/><ellipse cx="18.89" cy="60.47" rx="1.88" ry="1.29" fill="#8b5f9c" opacity="0.85" transform="rotate(124 18.89 60.47)"/><ellipse cx="63.49" cy="78.05" rx="1.39" ry="1.12" fill="#8b5f9c" opacity="0.85" transform="rotate(47 63.49 78.05)"/><ellipse cx="64.71" cy="76.07" rx="1.7" ry="1.25" fill="#5c3c78" opacity="0.85" transform="rotate(136 64.71 76.07)"/><ellipse cx="40.51" cy="67.94" rx="1.95" ry="1.67" fill="#8b5f9c" opacity="0.85" transform="rotate(89 40.51 67.94)"/><ellipse cx="14.31" cy="71.45" rx="1.77" ry="1.24" fill="#8b5f9c" opacity="0.85" transform="rotate(8 14.31 71.45)"/><ellipse cx="29.31" cy="77.4" rx="2.1" ry="1.17" fill="#7a528f" opacity="0.85" transform="rotate(23 29.31 77.4)"/><ellipse cx="36.98" cy="87.79" rx="2.09" ry="1.39" fill="#8b5f9c" opacity="0.85" transform="rotate(61 36.98 87.79)"/><ellipse cx="38.46" cy="83.48" rx="2.02" ry="1.26" fill="#7a528f" opacity="0.85" transform="rotate(76 38.46 83.48)"/><ellipse cx="48.98" cy="71.12" rx="1.53" ry="1.32" fill="#7a528f" opacity="0.85" transform="rotate(66 48.98 71.12)"/><ellipse cx="15.09" cy="68.4" rx="2.29" ry="1.37" fill="#8b5f9c" opacity="0.85" transform="rotate(155 15.09 68.4)"/><ellipse cx="21.32" cy="74.64" rx="2.05" ry="1.47" fill="#6a4684" opacity="0.85" transform="rotate(138 21.32 74.64)"/><ellipse cx="46.37" cy="60.86" rx="2.06" ry="1.02" fill="#7a528f" opacity="0.85" transform="rotate(79 46.37 60.86)"/><ellipse cx="56.34" cy="76.6" rx="1.99" ry="1.54" fill="#7a528f" opacity="0.85" transform="rotate(82 56.34 76.6)"/><ellipse cx="43.38" cy="96.07" rx="1.37" ry="1.64" fill="#5c3c78" opacity="0.85" transform="rotate(49 43.38 96.07)"/><ellipse cx="43.28" cy="78.75" rx="1.53" ry="1.09" fill="#8b5f9c" opacity="0.85" transform="rotate(72 43.28 78.75)"/><ellipse cx="9.99" cy="91.39" rx="1.76" ry="1.44" fill="#7a528f" opacity="0.85" transform="rotate(70 9.99 91.39)"/><ellipse cx="37.16" cy="84.24" rx="2.1" ry="1.48" fill="#8b5f9c" opacity="0.85" transform="rotate(6 37.16 84.24)"/><ellipse cx="15.92" cy="60.92" rx="1.55" ry="1.59" fill="#5c3c78" opacity="0.85" transform="rotate(160 15.92 60.92)"/><ellipse cx="41.4" cy="80.16" rx="1.57" ry="1.43" fill="#7a528f" opacity="0.85" transform="rotate(173 41.4 80.16)"/><ellipse cx="34.65" cy="75.78" rx="1.46" ry="1.14" fill="#5c3c78" opacity="0.85" transform="rotate(39 34.65 75.78)"/><ellipse cx="26.52" cy="77.08" rx="1.61" ry="1.45" fill="#7a528f" opacity="0.85" transform="rotate(144 26.52 77.08)"/><ellipse cx="41.64" cy="63.12" rx="2.02" ry="1.18" fill="#8b5f9c" opacity="0.85" transform="rotate(171 41.64 63.12)"/><ellipse cx="23.76" cy="65.83" rx="1.3" ry="1.58" fill="#5c3c78" opacity="0.85" transform="rotate(10 23.76 65.83)"/><ellipse cx="45.77" cy="64.88" rx="2" ry="1.68" fill="#6a4684" opacity="0.85" transform="rotate(9 45.77 64.88)"/><ellipse cx="32.97" cy="67.83" rx="2.21" ry="1.52" fill="#6a4684" opacity="0.85" transform="rotate(106 32.97 67.83)"/><ellipse cx="24.28" cy="64.84" rx="2.05" ry="1.58" fill="#5c3c78" opacity="0.85" transform="rotate(134 24.28 64.84)"/><ellipse cx="64.32" cy="88.99" rx="1.72" ry="1.65" fill="#8b5f9c" opacity="0.85" transform="rotate(130 64.32 88.99)"/><ellipse cx="54.51" cy="80.59" rx="1.73" ry="1.36" fill="#7a528f" opacity="0.85" transform="rotate(125 54.51 80.59)"/><ellipse cx="30.38" cy="71.78" rx="2" ry="1.56" fill="#5c3c78" opacity="0.85" transform="rotate(44 30.38 71.78)"/><ellipse cx="-12.49" cy="66.8" rx="1.94" ry="1.38" fill="#7a528f" opacity="0.85" transform="rotate(15 -12.49 66.8)"/><ellipse cx="37.64" cy="83.68" rx="1.39" ry="1.45" fill="#7a528f" opacity="0.85" transform="rotate(34 37.64 83.68)"/><ellipse cx="37.03" cy="19.38" rx="1.78" ry="1.49" fill="#6a4684" opacity="0.85" transform="rotate(131 37.03 19.38)"/><ellipse cx="44.47" cy="35.63" rx="1.94" ry="1.49" fill="#7a528f" opacity="0.85" transform="rotate(36 44.47 35.63)"/><ellipse cx="31.78" cy="38.82" rx="1.93" ry="1.08" fill="#8b5f9c" opacity="0.85" transform="rotate(43 31.78 38.82)"/><ellipse cx="42.61" cy="35.02" rx="2.28" ry="1.59" fill="#8b5f9c" opacity="0.85" transform="rotate(52 42.61 35.02)"/><ellipse cx="67.91" cy="65.68" rx="1.66" ry="1.14" fill="#6a4684" opacity="0.85" transform="rotate(71 67.91 65.68)"/><ellipse cx="45.37" cy="63.15" rx="1.61" ry="1.67" fill="#7a528f" opacity="0.85" transform="rotate(83 45.37 63.15)"/><ellipse cx="14.83" cy="62.64" rx="1.59" ry="1.39" fill="#6a4684" opacity="0.85" transform="rotate(2 14.83 62.64)"/><ellipse cx="-28.9" cy="65.82" rx="1.79" ry="1.52" fill="#5c3c78" opacity="0.85" transform="rotate(144 -28.9 65.82)"/><ellipse cx="46.25" cy="91.28" rx="2.26" ry="1.34" fill="#5c3c78" opacity="0.85" transform="rotate(2 46.25 91.28)"/><ellipse cx="42.03" cy="59.73" rx="1.59" ry="1.43" fill="#5c3c78" opacity="0.85" transform="rotate(167 42.03 59.73)"/><ellipse cx="50.4" cy="65.73" rx="1.33" ry="1.54" fill="#7a528f" opacity="0.85" transform="rotate(75 50.4 65.73)"/><ellipse cx="0.29" cy="104.36" rx="1.83" ry="1.63" fill="#7a528f" opacity="0.85" transform="rotate(26 0.29 104.36)"/><ellipse cx="61.71" cy="-2.97" rx="2.04" ry="1.23" fill="#7a528f" opacity="0.85" transform="rotate(165 61.71 -2.97)"/><ellipse cx="61.53" cy="27.48" rx="1.67" ry="1.39" fill="#5c3c78" opacity="0.85" transform="rotate(64 61.53 27.48)"/><ellipse cx="50.56" cy="58.34" rx="1.87" ry="1.44" fill="#8b5f9c" opacity="0.85" transform="rotate(12 50.56 58.34)"/><ellipse cx="81.64" cy="38.59" rx="1.8" ry="1.11" fill="#5c3c78" opacity="0.85" transform="rotate(154 81.64 38.59)"/><ellipse cx="39.72" cy="44.25" rx="1.99" ry="1.11" fill="#8b5f9c" opacity="0.85" transform="rotate(163 39.72 44.25)"/><ellipse cx="62.26" cy="47.65" rx="1.34" ry="1.31" fill="#7a528f" opacity="0.85" transform="rotate(55 62.26 47.65)"/><ellipse cx="49.64" cy="47.87" rx="2.14" ry="1.6" fill="#8b5f9c" opacity="0.85" transform="rotate(36 49.64 47.87)"/><ellipse cx="41.2" cy="91.48" rx="1.81" ry="1.29" fill="#5c3c78" opacity="0.85" transform="rotate(16 41.2 91.48)"/><ellipse cx="10.47" cy="66.03" rx="2.13" ry="1.63" fill="#7a528f" opacity="0.85" transform="rotate(96 10.47 66.03)"/><ellipse cx="41.17" cy="79.89" rx="1.86" ry="1.24" fill="#7a528f" opacity="0.85" transform="rotate(120 41.17 79.89)"/><ellipse cx="71.92" cy="62.97" rx="1.76" ry="1.68" fill="#7a528f" opacity="0.85" transform="rotate(102 71.92 62.97)"/><ellipse cx="88.91" cy="40.48" rx="2.11" ry="1.04" fill="#5c3c78" opacity="0.85" transform="rotate(155 88.91 40.48)"/><ellipse cx="29.78" cy="18.82" rx="1.72" ry="1.26" fill="#7a528f" opacity="0.85" transform="rotate(76 29.78 18.82)"/><ellipse cx="73.46" cy="23.48" rx="1.93" ry="1.59" fill="#7a528f" opacity="0.85" transform="rotate(173 73.46 23.48)"/><ellipse cx="47.15" cy="5.93" rx="1.45" ry="1.41" fill="#8b5f9c" opacity="0.85" transform="rotate(92 47.15 5.93)"/><ellipse cx="13.51" cy="43.04" rx="1.7" ry="1.08" fill="#7a528f" opacity="0.85" transform="rotate(51 13.51 43.04)"/><ellipse cx="36.58" cy="45.82" rx="2.16" ry="1.18" fill="#6a4684" opacity="0.85" transform="rotate(48 36.58 45.82)"/><ellipse cx="28.49" cy="45.79" rx="1.79" ry="1.39" fill="#7a528f" opacity="0.85" transform="rotate(138 28.49 45.79)"/><ellipse cx="37.34" cy="43.78" rx="1.81" ry="1.41" fill="#6a4684" opacity="0.85" transform="rotate(104 37.34 43.78)"/><ellipse cx="27.84" cy="3.29" rx="1.43" ry="1.35" fill="#6a4684" opacity="0.85" transform="rotate(160 27.84 3.29)"/><ellipse cx="95.98" cy="47.3" rx="1.4" ry="1.58" fill="#8b5f9c" opacity="0.85" transform="rotate(139 95.98 47.3)"/><ellipse cx="84.7" cy="114.32" rx="1.86" ry="1.54" fill="#7a528f" opacity="0.85" transform="rotate(95 84.7 114.32)"/><ellipse cx="51.62" cy="40.22" rx="1.54" ry="1.26" fill="#6a4684" opacity="0.85" transform="rotate(179 51.62 40.22)"/><ellipse cx="33.46" cy="38.86" rx="1.6" ry="1.5" fill="#8b5f9c" opacity="0.85" transform="rotate(22 33.46 38.86)"/><ellipse cx="7.72" cy="9.7" rx="1.86" ry="1.64" fill="#5c3c78" opacity="0.85" transform="rotate(43 7.72 9.7)"/><ellipse cx="12.93" cy="91" rx="2.1" ry="1.52" fill="#6a4684" opacity="0.85" transform="rotate(65 12.93 91)"/><ellipse cx="69.96" cy="69.39" rx="2.04" ry="1.66" fill="#8b5f9c" opacity="0.85" transform="rotate(11 69.96 69.39)"/><ellipse cx="60.92" cy="25.42" rx="1.66" ry="1.23" fill="#6a4684" opacity="0.85" transform="rotate(8 60.92 25.42)"/><ellipse cx="88.53" cy="30.48" rx="1.55" ry="1.14" fill="#8b5f9c" opacity="0.85" transform="rotate(5 88.53 30.48)"/><ellipse cx="69.99" cy="17.68" rx="1.41" ry="1.01" fill="#6a4684" opacity="0.85" transform="rotate(18 69.99 17.68)"/><ellipse cx="55.77" cy="32.49" rx="1.85" ry="1.2" fill="#8b5f9c" opacity="0.85" transform="rotate(36 55.77 32.49)"/><ellipse cx="31.42" cy="38.48" rx="2.3" ry="1.53" fill="#5c3c78" opacity="0.85" transform="rotate(113 31.42 38.48)"/><ellipse cx="76.27" cy="52.28" rx="1.45" ry="1.35" fill="#6a4684" opacity="0.85" transform="rotate(9 76.27 52.28)"/>
</g></g>
<rect x="1286" y="1856" width="95.5" height="95.5" fill="none" stroke="#000" stroke-width="3"/>
<rect x="1286" y="1954.9" width="95.5" height="97.3" fill="none" stroke="#000" stroke-width="3"/>
<rect x="1286" y="2055.6" width="95.5" height="97" fill="none" stroke="#000" stroke-width="3"/>
<rect x="1286" y="2156" width="95.5" height="97.6" fill="none" stroke="#000" stroke-width="3"/>
<text x="1388.5" y="1903.4" font-size="28.6" transform="rotate(90 1388.5 1903.4)" textLength="309.5" lengthAdjust="spacingAndGlyphs">Predicted Top-4 Patches</text>
<text x="14.6" y="1826.8" font-size="39" font-weight="bold">i</text>
</g>
</svg>
</body></html>
